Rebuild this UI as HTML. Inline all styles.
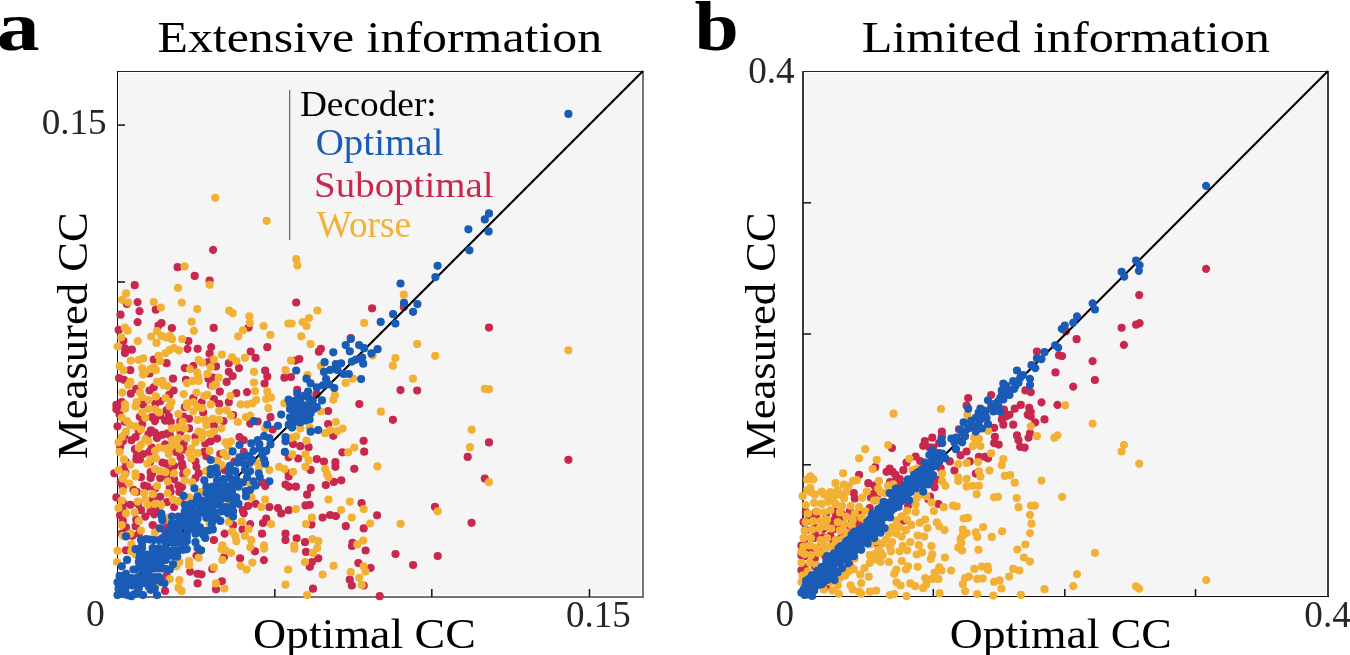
<!DOCTYPE html>
<html><head><meta charset="utf-8"><style>
html,body{margin:0;padding:0;background:#fff;width:1350px;height:655px;overflow:hidden}
svg{display:block}
text{font-family:"Liberation Serif",serif}
svg{will-change:transform}
</style></head><body>
<svg width="1350" height="655" viewBox="0 0 1350 655">
<rect x="119" y="73" width="522" height="522" fill="#f5f5f5"/><rect x="805" y="73" width="521" height="522" fill="#f5f5f5"/>
<rect x="117" y="71" width="527" height="1" fill="#262626"/><rect x="117" y="71" width="1" height="527" fill="#111"/><rect x="642" y="71" width="2" height="527" fill="#747474"/><rect x="117" y="596" width="527" height="2" fill="#747474"/><rect x="117" y="124.35" width="8" height="1.5" fill="#111"/><rect x="117" y="281.25" width="8" height="1.5" fill="#111"/><rect x="117" y="438.75" width="8" height="1.5" fill="#111"/><rect x="274.05" y="589" width="1.5" height="8" fill="#111"/><rect x="431.05" y="589" width="1.5" height="8" fill="#111"/><rect x="588.75" y="589" width="1.5" height="8" fill="#111"/><rect x="802" y="71" width="526" height="1" fill="#262626"/><rect x="802" y="71" width="2" height="526" fill="#3a3a3a"/><rect x="1327" y="71" width="2" height="526" fill="#3c3c3c"/><rect x="802" y="596" width="527" height="1" fill="#080808"/><rect x="803" y="202.05" width="8" height="1.5" fill="#111"/><rect x="803" y="333.25" width="8" height="1.5" fill="#111"/><rect x="803" y="464.05" width="8" height="1.5" fill="#111"/><rect x="932.55" y="589" width="1.5" height="8" fill="#111"/><rect x="1064.05" y="589" width="1.5" height="8" fill="#111"/><rect x="1194.75" y="589" width="1.5" height="8" fill="#111"/>
<rect x="289" y="90" width="1.3" height="150" fill="#707070"/>
<path fill="#c8284e" d="M119.6 406.5a4.1 4.1 0 1 0 8.2 0a4.1 4.1 0 1 0 -8.2 0M120.7 421.7a4.1 4.1 0 1 0 8.2 0a4.1 4.1 0 1 0 -8.2 0M120.3 435.5a4.1 4.1 0 1 0 8.2 0a4.1 4.1 0 1 0 -8.2 0M116.1 446.8a4.1 4.1 0 1 0 8.2 0a4.1 4.1 0 1 0 -8.2 0M121.6 461.9a4.1 4.1 0 1 0 8.2 0a4.1 4.1 0 1 0 -8.2 0M121.3 472.7a4.1 4.1 0 1 0 8.2 0a4.1 4.1 0 1 0 -8.2 0M118.7 487.5a4.1 4.1 0 1 0 8.2 0a4.1 4.1 0 1 0 -8.2 0M119.2 503.4a4.1 4.1 0 1 0 8.2 0a4.1 4.1 0 1 0 -8.2 0M116.0 515.3a4.1 4.1 0 1 0 8.2 0a4.1 4.1 0 1 0 -8.2 0M117.6 533.5a4.1 4.1 0 1 0 8.2 0a4.1 4.1 0 1 0 -8.2 0M135.5 403.0a4.1 4.1 0 1 0 8.2 0a4.1 4.1 0 1 0 -8.2 0M135.7 416.8a4.1 4.1 0 1 0 8.2 0a4.1 4.1 0 1 0 -8.2 0M134.6 430.8a4.1 4.1 0 1 0 8.2 0a4.1 4.1 0 1 0 -8.2 0M130.9 449.2a4.1 4.1 0 1 0 8.2 0a4.1 4.1 0 1 0 -8.2 0M132.2 459.3a4.1 4.1 0 1 0 8.2 0a4.1 4.1 0 1 0 -8.2 0M136.8 477.2a4.1 4.1 0 1 0 8.2 0a4.1 4.1 0 1 0 -8.2 0M132.6 491.8a4.1 4.1 0 1 0 8.2 0a4.1 4.1 0 1 0 -8.2 0M134.1 504.1a4.1 4.1 0 1 0 8.2 0a4.1 4.1 0 1 0 -8.2 0M132.1 519.6a4.1 4.1 0 1 0 8.2 0a4.1 4.1 0 1 0 -8.2 0M135.0 533.8a4.1 4.1 0 1 0 8.2 0a4.1 4.1 0 1 0 -8.2 0M151.3 403.8a4.1 4.1 0 1 0 8.2 0a4.1 4.1 0 1 0 -8.2 0M148.1 417.0a4.1 4.1 0 1 0 8.2 0a4.1 4.1 0 1 0 -8.2 0M146.8 430.4a4.1 4.1 0 1 0 8.2 0a4.1 4.1 0 1 0 -8.2 0M147.7 447.6a4.1 4.1 0 1 0 8.2 0a4.1 4.1 0 1 0 -8.2 0M145.9 462.1a4.1 4.1 0 1 0 8.2 0a4.1 4.1 0 1 0 -8.2 0M147.9 473.9a4.1 4.1 0 1 0 8.2 0a4.1 4.1 0 1 0 -8.2 0M150.8 488.9a4.1 4.1 0 1 0 8.2 0a4.1 4.1 0 1 0 -8.2 0M147.8 502.9a4.1 4.1 0 1 0 8.2 0a4.1 4.1 0 1 0 -8.2 0M150.1 514.3a4.1 4.1 0 1 0 8.2 0a4.1 4.1 0 1 0 -8.2 0M151.8 528.1a4.1 4.1 0 1 0 8.2 0a4.1 4.1 0 1 0 -8.2 0M165.4 407.1a4.1 4.1 0 1 0 8.2 0a4.1 4.1 0 1 0 -8.2 0M161.0 420.7a4.1 4.1 0 1 0 8.2 0a4.1 4.1 0 1 0 -8.2 0M163.1 433.5a4.1 4.1 0 1 0 8.2 0a4.1 4.1 0 1 0 -8.2 0M161.0 444.3a4.1 4.1 0 1 0 8.2 0a4.1 4.1 0 1 0 -8.2 0M162.0 463.7a4.1 4.1 0 1 0 8.2 0a4.1 4.1 0 1 0 -8.2 0M162.1 476.5a4.1 4.1 0 1 0 8.2 0a4.1 4.1 0 1 0 -8.2 0M166.5 491.7a4.1 4.1 0 1 0 8.2 0a4.1 4.1 0 1 0 -8.2 0M163.0 502.1a4.1 4.1 0 1 0 8.2 0a4.1 4.1 0 1 0 -8.2 0M164.0 518.7a4.1 4.1 0 1 0 8.2 0a4.1 4.1 0 1 0 -8.2 0M161.5 532.5a4.1 4.1 0 1 0 8.2 0a4.1 4.1 0 1 0 -8.2 0M180.7 407.2a4.1 4.1 0 1 0 8.2 0a4.1 4.1 0 1 0 -8.2 0M176.1 421.7a4.1 4.1 0 1 0 8.2 0a4.1 4.1 0 1 0 -8.2 0M176.4 432.0a4.1 4.1 0 1 0 8.2 0a4.1 4.1 0 1 0 -8.2 0M179.6 449.5a4.1 4.1 0 1 0 8.2 0a4.1 4.1 0 1 0 -8.2 0M177.9 463.5a4.1 4.1 0 1 0 8.2 0a4.1 4.1 0 1 0 -8.2 0M179.2 473.9a4.1 4.1 0 1 0 8.2 0a4.1 4.1 0 1 0 -8.2 0M177.8 487.1a4.1 4.1 0 1 0 8.2 0a4.1 4.1 0 1 0 -8.2 0M176.4 500.9a4.1 4.1 0 1 0 8.2 0a4.1 4.1 0 1 0 -8.2 0M180.0 520.0a4.1 4.1 0 1 0 8.2 0a4.1 4.1 0 1 0 -8.2 0M176.9 528.3a4.1 4.1 0 1 0 8.2 0a4.1 4.1 0 1 0 -8.2 0M209.0 249.9a4.1 4.1 0 1 0 8.2 0a4.1 4.1 0 1 0 -8.2 0M173.5 267.2a4.1 4.1 0 1 0 8.2 0a4.1 4.1 0 1 0 -8.2 0M190.6 275.9a4.1 4.1 0 1 0 8.2 0a4.1 4.1 0 1 0 -8.2 0M205.5 280.6a4.1 4.1 0 1 0 8.2 0a4.1 4.1 0 1 0 -8.2 0M130.6 285.2a4.1 4.1 0 1 0 8.2 0a4.1 4.1 0 1 0 -8.2 0M122.8 303.9a4.1 4.1 0 1 0 8.2 0a4.1 4.1 0 1 0 -8.2 0M133.5 302.1a4.1 4.1 0 1 0 8.2 0a4.1 4.1 0 1 0 -8.2 0M151.7 309.7a4.1 4.1 0 1 0 8.2 0a4.1 4.1 0 1 0 -8.2 0M135.4 311.2a4.1 4.1 0 1 0 8.2 0a4.1 4.1 0 1 0 -8.2 0M116.4 314.7a4.1 4.1 0 1 0 8.2 0a4.1 4.1 0 1 0 -8.2 0M133.5 322.1a4.1 4.1 0 1 0 8.2 0a4.1 4.1 0 1 0 -8.2 0M244.5 327.6a4.1 4.1 0 1 0 8.2 0a4.1 4.1 0 1 0 -8.2 0M209.6 327.9a4.1 4.1 0 1 0 8.2 0a4.1 4.1 0 1 0 -8.2 0M167.8 328.1a4.1 4.1 0 1 0 8.2 0a4.1 4.1 0 1 0 -8.2 0M157.4 323.1a4.1 4.1 0 1 0 8.2 0a4.1 4.1 0 1 0 -8.2 0M154.4 325.6a4.1 4.1 0 1 0 8.2 0a4.1 4.1 0 1 0 -8.2 0M114.6 329.9a4.1 4.1 0 1 0 8.2 0a4.1 4.1 0 1 0 -8.2 0M184.3 341.1a4.1 4.1 0 1 0 8.2 0a4.1 4.1 0 1 0 -8.2 0M292.1 302.5a4.1 4.1 0 1 0 8.2 0a4.1 4.1 0 1 0 -8.2 0M368.0 308.3a4.1 4.1 0 1 0 8.2 0a4.1 4.1 0 1 0 -8.2 0M399.7 307.0a4.1 4.1 0 1 0 8.2 0a4.1 4.1 0 1 0 -8.2 0M346.7 338.0a4.1 4.1 0 1 0 8.2 0a4.1 4.1 0 1 0 -8.2 0M484.9 327.6a4.1 4.1 0 1 0 8.2 0a4.1 4.1 0 1 0 -8.2 0M484.9 442.4a4.1 4.1 0 1 0 8.2 0a4.1 4.1 0 1 0 -8.2 0M564.3 459.8a4.1 4.1 0 1 0 8.2 0a4.1 4.1 0 1 0 -8.2 0M480.7 478.5a4.1 4.1 0 1 0 8.2 0a4.1 4.1 0 1 0 -8.2 0M467.5 522.8a4.1 4.1 0 1 0 8.2 0a4.1 4.1 0 1 0 -8.2 0M396.4 390.1a4.1 4.1 0 1 0 8.2 0a4.1 4.1 0 1 0 -8.2 0M413.1 390.5a4.1 4.1 0 1 0 8.2 0a4.1 4.1 0 1 0 -8.2 0M355.2 404.1a4.1 4.1 0 1 0 8.2 0a4.1 4.1 0 1 0 -8.2 0M388.8 419.8a4.1 4.1 0 1 0 8.2 0a4.1 4.1 0 1 0 -8.2 0M350.2 468.8a4.1 4.1 0 1 0 8.2 0a4.1 4.1 0 1 0 -8.2 0M359.5 440.8a4.1 4.1 0 1 0 8.2 0a4.1 4.1 0 1 0 -8.2 0M360.1 451.7a4.1 4.1 0 1 0 8.2 0a4.1 4.1 0 1 0 -8.2 0M338.3 452.3a4.1 4.1 0 1 0 8.2 0a4.1 4.1 0 1 0 -8.2 0M463.6 456.9a4.1 4.1 0 1 0 8.2 0a4.1 4.1 0 1 0 -8.2 0M316.8 348.8a4.1 4.1 0 1 0 8.2 0a4.1 4.1 0 1 0 -8.2 0M314.8 351.7a4.1 4.1 0 1 0 8.2 0a4.1 4.1 0 1 0 -8.2 0M295.2 359.1a4.1 4.1 0 1 0 8.2 0a4.1 4.1 0 1 0 -8.2 0M291.1 360.6a4.1 4.1 0 1 0 8.2 0a4.1 4.1 0 1 0 -8.2 0M286.9 377.1a4.1 4.1 0 1 0 8.2 0a4.1 4.1 0 1 0 -8.2 0M293.1 389.9a4.1 4.1 0 1 0 8.2 0a4.1 4.1 0 1 0 -8.2 0M312.3 394.2a4.1 4.1 0 1 0 8.2 0a4.1 4.1 0 1 0 -8.2 0M324.0 411.1a4.1 4.1 0 1 0 8.2 0a4.1 4.1 0 1 0 -8.2 0M324.0 424.1a4.1 4.1 0 1 0 8.2 0a4.1 4.1 0 1 0 -8.2 0M329.2 435.8a4.1 4.1 0 1 0 8.2 0a4.1 4.1 0 1 0 -8.2 0M289.0 444.1a4.1 4.1 0 1 0 8.2 0a4.1 4.1 0 1 0 -8.2 0M296.2 446.2a4.1 4.1 0 1 0 8.2 0a4.1 4.1 0 1 0 -8.2 0M304.5 447.2a4.1 4.1 0 1 0 8.2 0a4.1 4.1 0 1 0 -8.2 0M294.1 458.5a4.1 4.1 0 1 0 8.2 0a4.1 4.1 0 1 0 -8.2 0M312.7 459.1a4.1 4.1 0 1 0 8.2 0a4.1 4.1 0 1 0 -8.2 0M319.9 461.6a4.1 4.1 0 1 0 8.2 0a4.1 4.1 0 1 0 -8.2 0M331.3 462.2a4.1 4.1 0 1 0 8.2 0a4.1 4.1 0 1 0 -8.2 0M331.3 466.8a4.1 4.1 0 1 0 8.2 0a4.1 4.1 0 1 0 -8.2 0M306.5 469.9a4.1 4.1 0 1 0 8.2 0a4.1 4.1 0 1 0 -8.2 0M119.3 340.8a4.1 4.1 0 1 0 8.2 0a4.1 4.1 0 1 0 -8.2 0M120.9 348.3a4.1 4.1 0 1 0 8.2 0a4.1 4.1 0 1 0 -8.2 0M127.8 349.7a4.1 4.1 0 1 0 8.2 0a4.1 4.1 0 1 0 -8.2 0M120.9 353.1a4.1 4.1 0 1 0 8.2 0a4.1 4.1 0 1 0 -8.2 0M183.4 348.8a4.1 4.1 0 1 0 8.2 0a4.1 4.1 0 1 0 -8.2 0M193.5 348.8a4.1 4.1 0 1 0 8.2 0a4.1 4.1 0 1 0 -8.2 0M149.7 359.5a4.1 4.1 0 1 0 8.2 0a4.1 4.1 0 1 0 -8.2 0M162.5 363.2a4.1 4.1 0 1 0 8.2 0a4.1 4.1 0 1 0 -8.2 0M126.2 370.2a4.1 4.1 0 1 0 8.2 0a4.1 4.1 0 1 0 -8.2 0M145.4 373.4a4.1 4.1 0 1 0 8.2 0a4.1 4.1 0 1 0 -8.2 0M180.7 368.1a4.1 4.1 0 1 0 8.2 0a4.1 4.1 0 1 0 -8.2 0M189.2 365.9a4.1 4.1 0 1 0 8.2 0a4.1 4.1 0 1 0 -8.2 0M115.0 378.2a4.1 4.1 0 1 0 8.2 0a4.1 4.1 0 1 0 -8.2 0M119.8 379.8a4.1 4.1 0 1 0 8.2 0a4.1 4.1 0 1 0 -8.2 0M132.1 388.9a4.1 4.1 0 1 0 8.2 0a4.1 4.1 0 1 0 -8.2 0M126.7 393.7a4.1 4.1 0 1 0 8.2 0a4.1 4.1 0 1 0 -8.2 0M145.4 390.5a4.1 4.1 0 1 0 8.2 0a4.1 4.1 0 1 0 -8.2 0M149.7 387.3a4.1 4.1 0 1 0 8.2 0a4.1 4.1 0 1 0 -8.2 0M168.9 378.7a4.1 4.1 0 1 0 8.2 0a4.1 4.1 0 1 0 -8.2 0M169.5 390.5a4.1 4.1 0 1 0 8.2 0a4.1 4.1 0 1 0 -8.2 0M165.2 394.8a4.1 4.1 0 1 0 8.2 0a4.1 4.1 0 1 0 -8.2 0M181.8 379.8a4.1 4.1 0 1 0 8.2 0a4.1 4.1 0 1 0 -8.2 0M189.2 398.0a4.1 4.1 0 1 0 8.2 0a4.1 4.1 0 1 0 -8.2 0M156.1 401.2a4.1 4.1 0 1 0 8.2 0a4.1 4.1 0 1 0 -8.2 0M139.0 404.4a4.1 4.1 0 1 0 8.2 0a4.1 4.1 0 1 0 -8.2 0M117.7 402.2a4.1 4.1 0 1 0 8.2 0a4.1 4.1 0 1 0 -8.2 0M112.3 404.9a4.1 4.1 0 1 0 8.2 0a4.1 4.1 0 1 0 -8.2 0M263.2 347.2a4.1 4.1 0 1 0 8.2 0a4.1 4.1 0 1 0 -8.2 0M207.1 347.2a4.1 4.1 0 1 0 8.2 0a4.1 4.1 0 1 0 -8.2 0M205.5 353.6a4.1 4.1 0 1 0 8.2 0a4.1 4.1 0 1 0 -8.2 0M246.6 351.5a4.1 4.1 0 1 0 8.2 0a4.1 4.1 0 1 0 -8.2 0M251.5 357.9a4.1 4.1 0 1 0 8.2 0a4.1 4.1 0 1 0 -8.2 0M224.7 363.2a4.1 4.1 0 1 0 8.2 0a4.1 4.1 0 1 0 -8.2 0M234.9 368.1a4.1 4.1 0 1 0 8.2 0a4.1 4.1 0 1 0 -8.2 0M204.4 362.2a4.1 4.1 0 1 0 8.2 0a4.1 4.1 0 1 0 -8.2 0M211.9 366.4a4.1 4.1 0 1 0 8.2 0a4.1 4.1 0 1 0 -8.2 0M224.7 371.8a4.1 4.1 0 1 0 8.2 0a4.1 4.1 0 1 0 -8.2 0M228.5 376.1a4.1 4.1 0 1 0 8.2 0a4.1 4.1 0 1 0 -8.2 0M261.1 370.7a4.1 4.1 0 1 0 8.2 0a4.1 4.1 0 1 0 -8.2 0M263.2 376.6a4.1 4.1 0 1 0 8.2 0a4.1 4.1 0 1 0 -8.2 0M260.5 383.5a4.1 4.1 0 1 0 8.2 0a4.1 4.1 0 1 0 -8.2 0M280.3 377.7a4.1 4.1 0 1 0 8.2 0a4.1 4.1 0 1 0 -8.2 0M204.4 378.7a4.1 4.1 0 1 0 8.2 0a4.1 4.1 0 1 0 -8.2 0M208.7 377.7a4.1 4.1 0 1 0 8.2 0a4.1 4.1 0 1 0 -8.2 0M206.6 385.1a4.1 4.1 0 1 0 8.2 0a4.1 4.1 0 1 0 -8.2 0M222.6 381.9a4.1 4.1 0 1 0 8.2 0a4.1 4.1 0 1 0 -8.2 0M215.7 391.6a4.1 4.1 0 1 0 8.2 0a4.1 4.1 0 1 0 -8.2 0M232.2 393.2a4.1 4.1 0 1 0 8.2 0a4.1 4.1 0 1 0 -8.2 0M242.9 392.1a4.1 4.1 0 1 0 8.2 0a4.1 4.1 0 1 0 -8.2 0M209.8 399.0a4.1 4.1 0 1 0 8.2 0a4.1 4.1 0 1 0 -8.2 0M224.7 402.2a4.1 4.1 0 1 0 8.2 0a4.1 4.1 0 1 0 -8.2 0M215.1 403.8a4.1 4.1 0 1 0 8.2 0a4.1 4.1 0 1 0 -8.2 0M197.5 402.2a4.1 4.1 0 1 0 8.2 0a4.1 4.1 0 1 0 -8.2 0M112.3 409.2a4.1 4.1 0 1 0 8.2 0a4.1 4.1 0 1 0 -8.2 0M148.6 417.8a4.1 4.1 0 1 0 8.2 0a4.1 4.1 0 1 0 -8.2 0M150.8 421.0a4.1 4.1 0 1 0 8.2 0a4.1 4.1 0 1 0 -8.2 0M156.1 415.6a4.1 4.1 0 1 0 8.2 0a4.1 4.1 0 1 0 -8.2 0M162.5 410.3a4.1 4.1 0 1 0 8.2 0a4.1 4.1 0 1 0 -8.2 0M164.7 416.7a4.1 4.1 0 1 0 8.2 0a4.1 4.1 0 1 0 -8.2 0M166.8 422.0a4.1 4.1 0 1 0 8.2 0a4.1 4.1 0 1 0 -8.2 0M185.0 418.8a4.1 4.1 0 1 0 8.2 0a4.1 4.1 0 1 0 -8.2 0M179.6 416.7a4.1 4.1 0 1 0 8.2 0a4.1 4.1 0 1 0 -8.2 0M115.5 414.5a4.1 4.1 0 1 0 8.2 0a4.1 4.1 0 1 0 -8.2 0M113.4 426.3a4.1 4.1 0 1 0 8.2 0a4.1 4.1 0 1 0 -8.2 0M138.0 424.2a4.1 4.1 0 1 0 8.2 0a4.1 4.1 0 1 0 -8.2 0M144.4 433.8a4.1 4.1 0 1 0 8.2 0a4.1 4.1 0 1 0 -8.2 0M150.8 432.7a4.1 4.1 0 1 0 8.2 0a4.1 4.1 0 1 0 -8.2 0M158.3 434.8a4.1 4.1 0 1 0 8.2 0a4.1 4.1 0 1 0 -8.2 0M131.5 437.0a4.1 4.1 0 1 0 8.2 0a4.1 4.1 0 1 0 -8.2 0M127.3 440.2a4.1 4.1 0 1 0 8.2 0a4.1 4.1 0 1 0 -8.2 0M185.0 428.4a4.1 4.1 0 1 0 8.2 0a4.1 4.1 0 1 0 -8.2 0M118.7 441.3a4.1 4.1 0 1 0 8.2 0a4.1 4.1 0 1 0 -8.2 0M152.9 438.1a4.1 4.1 0 1 0 8.2 0a4.1 4.1 0 1 0 -8.2 0M165.7 434.8a4.1 4.1 0 1 0 8.2 0a4.1 4.1 0 1 0 -8.2 0M179.6 443.4a4.1 4.1 0 1 0 8.2 0a4.1 4.1 0 1 0 -8.2 0M191.4 437.0a4.1 4.1 0 1 0 8.2 0a4.1 4.1 0 1 0 -8.2 0M132.6 456.2a4.1 4.1 0 1 0 8.2 0a4.1 4.1 0 1 0 -8.2 0M139.0 454.1a4.1 4.1 0 1 0 8.2 0a4.1 4.1 0 1 0 -8.2 0M145.4 451.9a4.1 4.1 0 1 0 8.2 0a4.1 4.1 0 1 0 -8.2 0M135.8 459.4a4.1 4.1 0 1 0 8.2 0a4.1 4.1 0 1 0 -8.2 0M158.3 462.6a4.1 4.1 0 1 0 8.2 0a4.1 4.1 0 1 0 -8.2 0M172.1 451.9a4.1 4.1 0 1 0 8.2 0a4.1 4.1 0 1 0 -8.2 0M176.4 457.3a4.1 4.1 0 1 0 8.2 0a4.1 4.1 0 1 0 -8.2 0M191.4 461.6a4.1 4.1 0 1 0 8.2 0a4.1 4.1 0 1 0 -8.2 0M170.0 465.8a4.1 4.1 0 1 0 8.2 0a4.1 4.1 0 1 0 -8.2 0M119.8 469.0a4.1 4.1 0 1 0 8.2 0a4.1 4.1 0 1 0 -8.2 0M110.2 473.3a4.1 4.1 0 1 0 8.2 0a4.1 4.1 0 1 0 -8.2 0M146.5 472.2a4.1 4.1 0 1 0 8.2 0a4.1 4.1 0 1 0 -8.2 0M164.7 471.2a4.1 4.1 0 1 0 8.2 0a4.1 4.1 0 1 0 -8.2 0M178.5 466.9a4.1 4.1 0 1 0 8.2 0a4.1 4.1 0 1 0 -8.2 0M192.4 466.9a4.1 4.1 0 1 0 8.2 0a4.1 4.1 0 1 0 -8.2 0M194.6 473.3a4.1 4.1 0 1 0 8.2 0a4.1 4.1 0 1 0 -8.2 0M199.1 412.4a4.1 4.1 0 1 0 8.2 0a4.1 4.1 0 1 0 -8.2 0M229.0 415.1a4.1 4.1 0 1 0 8.2 0a4.1 4.1 0 1 0 -8.2 0M219.4 421.0a4.1 4.1 0 1 0 8.2 0a4.1 4.1 0 1 0 -8.2 0M209.8 425.2a4.1 4.1 0 1 0 8.2 0a4.1 4.1 0 1 0 -8.2 0M246.1 423.6a4.1 4.1 0 1 0 8.2 0a4.1 4.1 0 1 0 -8.2 0M253.6 421.5a4.1 4.1 0 1 0 8.2 0a4.1 4.1 0 1 0 -8.2 0M266.4 417.2a4.1 4.1 0 1 0 8.2 0a4.1 4.1 0 1 0 -8.2 0M268.5 429.5a4.1 4.1 0 1 0 8.2 0a4.1 4.1 0 1 0 -8.2 0M201.2 443.4a4.1 4.1 0 1 0 8.2 0a4.1 4.1 0 1 0 -8.2 0M206.6 441.3a4.1 4.1 0 1 0 8.2 0a4.1 4.1 0 1 0 -8.2 0M213.0 438.6a4.1 4.1 0 1 0 8.2 0a4.1 4.1 0 1 0 -8.2 0M235.4 437.0a4.1 4.1 0 1 0 8.2 0a4.1 4.1 0 1 0 -8.2 0M239.7 440.2a4.1 4.1 0 1 0 8.2 0a4.1 4.1 0 1 0 -8.2 0M239.7 451.9a4.1 4.1 0 1 0 8.2 0a4.1 4.1 0 1 0 -8.2 0M284.6 457.3a4.1 4.1 0 1 0 8.2 0a4.1 4.1 0 1 0 -8.2 0M200.2 451.9a4.1 4.1 0 1 0 8.2 0a4.1 4.1 0 1 0 -8.2 0M202.3 456.2a4.1 4.1 0 1 0 8.2 0a4.1 4.1 0 1 0 -8.2 0M216.2 454.1a4.1 4.1 0 1 0 8.2 0a4.1 4.1 0 1 0 -8.2 0M230.1 461.6a4.1 4.1 0 1 0 8.2 0a4.1 4.1 0 1 0 -8.2 0M220.5 470.1a4.1 4.1 0 1 0 8.2 0a4.1 4.1 0 1 0 -8.2 0M284.6 473.3a4.1 4.1 0 1 0 8.2 0a4.1 4.1 0 1 0 -8.2 0M116.6 482.4a4.1 4.1 0 1 0 8.2 0a4.1 4.1 0 1 0 -8.2 0M146.5 478.1a4.1 4.1 0 1 0 8.2 0a4.1 4.1 0 1 0 -8.2 0M156.1 478.1a4.1 4.1 0 1 0 8.2 0a4.1 4.1 0 1 0 -8.2 0M170.0 479.2a4.1 4.1 0 1 0 8.2 0a4.1 4.1 0 1 0 -8.2 0M191.4 478.1a4.1 4.1 0 1 0 8.2 0a4.1 4.1 0 1 0 -8.2 0M129.4 489.9a4.1 4.1 0 1 0 8.2 0a4.1 4.1 0 1 0 -8.2 0M140.1 485.6a4.1 4.1 0 1 0 8.2 0a4.1 4.1 0 1 0 -8.2 0M143.3 486.7a4.1 4.1 0 1 0 8.2 0a4.1 4.1 0 1 0 -8.2 0M156.1 496.8a4.1 4.1 0 1 0 8.2 0a4.1 4.1 0 1 0 -8.2 0M165.7 487.8a4.1 4.1 0 1 0 8.2 0a4.1 4.1 0 1 0 -8.2 0M174.3 485.6a4.1 4.1 0 1 0 8.2 0a4.1 4.1 0 1 0 -8.2 0M175.3 492.0a4.1 4.1 0 1 0 8.2 0a4.1 4.1 0 1 0 -8.2 0M112.3 497.4a4.1 4.1 0 1 0 8.2 0a4.1 4.1 0 1 0 -8.2 0M126.2 504.8a4.1 4.1 0 1 0 8.2 0a4.1 4.1 0 1 0 -8.2 0M148.6 499.5a4.1 4.1 0 1 0 8.2 0a4.1 4.1 0 1 0 -8.2 0M170.0 507.0a4.1 4.1 0 1 0 8.2 0a4.1 4.1 0 1 0 -8.2 0M189.2 500.6a4.1 4.1 0 1 0 8.2 0a4.1 4.1 0 1 0 -8.2 0M118.7 510.2a4.1 4.1 0 1 0 8.2 0a4.1 4.1 0 1 0 -8.2 0M136.9 510.2a4.1 4.1 0 1 0 8.2 0a4.1 4.1 0 1 0 -8.2 0M141.2 516.6a4.1 4.1 0 1 0 8.2 0a4.1 4.1 0 1 0 -8.2 0M146.5 511.3a4.1 4.1 0 1 0 8.2 0a4.1 4.1 0 1 0 -8.2 0M151.8 510.2a4.1 4.1 0 1 0 8.2 0a4.1 4.1 0 1 0 -8.2 0M162.5 527.3a4.1 4.1 0 1 0 8.2 0a4.1 4.1 0 1 0 -8.2 0M121.9 527.3a4.1 4.1 0 1 0 8.2 0a4.1 4.1 0 1 0 -8.2 0M118.7 520.9a4.1 4.1 0 1 0 8.2 0a4.1 4.1 0 1 0 -8.2 0M131.5 526.2a4.1 4.1 0 1 0 8.2 0a4.1 4.1 0 1 0 -8.2 0M148.6 525.1a4.1 4.1 0 1 0 8.2 0a4.1 4.1 0 1 0 -8.2 0M128.3 535.8a4.1 4.1 0 1 0 8.2 0a4.1 4.1 0 1 0 -8.2 0M257.9 482.4a4.1 4.1 0 1 0 8.2 0a4.1 4.1 0 1 0 -8.2 0M261.1 486.1a4.1 4.1 0 1 0 8.2 0a4.1 4.1 0 1 0 -8.2 0M281.4 484.5a4.1 4.1 0 1 0 8.2 0a4.1 4.1 0 1 0 -8.2 0M284.6 486.7a4.1 4.1 0 1 0 8.2 0a4.1 4.1 0 1 0 -8.2 0M284.6 476.5a4.1 4.1 0 1 0 8.2 0a4.1 4.1 0 1 0 -8.2 0M265.3 507.0a4.1 4.1 0 1 0 8.2 0a4.1 4.1 0 1 0 -8.2 0M273.9 508.1a4.1 4.1 0 1 0 8.2 0a4.1 4.1 0 1 0 -8.2 0M277.1 513.4a4.1 4.1 0 1 0 8.2 0a4.1 4.1 0 1 0 -8.2 0M284.6 510.2a4.1 4.1 0 1 0 8.2 0a4.1 4.1 0 1 0 -8.2 0M238.6 510.2a4.1 4.1 0 1 0 8.2 0a4.1 4.1 0 1 0 -8.2 0M244.0 505.9a4.1 4.1 0 1 0 8.2 0a4.1 4.1 0 1 0 -8.2 0M251.5 503.8a4.1 4.1 0 1 0 8.2 0a4.1 4.1 0 1 0 -8.2 0M239.7 513.4a4.1 4.1 0 1 0 8.2 0a4.1 4.1 0 1 0 -8.2 0M262.1 518.7a4.1 4.1 0 1 0 8.2 0a4.1 4.1 0 1 0 -8.2 0M258.9 523.0a4.1 4.1 0 1 0 8.2 0a4.1 4.1 0 1 0 -8.2 0M246.1 524.1a4.1 4.1 0 1 0 8.2 0a4.1 4.1 0 1 0 -8.2 0M238.6 529.4a4.1 4.1 0 1 0 8.2 0a4.1 4.1 0 1 0 -8.2 0M220.5 533.7a4.1 4.1 0 1 0 8.2 0a4.1 4.1 0 1 0 -8.2 0M209.8 540.1a4.1 4.1 0 1 0 8.2 0a4.1 4.1 0 1 0 -8.2 0M257.9 533.7a4.1 4.1 0 1 0 8.2 0a4.1 4.1 0 1 0 -8.2 0M281.4 533.7a4.1 4.1 0 1 0 8.2 0a4.1 4.1 0 1 0 -8.2 0M281.4 540.1a4.1 4.1 0 1 0 8.2 0a4.1 4.1 0 1 0 -8.2 0M229.0 525.1a4.1 4.1 0 1 0 8.2 0a4.1 4.1 0 1 0 -8.2 0M121.9 550.3a4.1 4.1 0 1 0 8.2 0a4.1 4.1 0 1 0 -8.2 0M186.0 571.6a4.1 4.1 0 1 0 8.2 0a4.1 4.1 0 1 0 -8.2 0M192.4 555.6a4.1 4.1 0 1 0 8.2 0a4.1 4.1 0 1 0 -8.2 0M193.5 573.8a4.1 4.1 0 1 0 8.2 0a4.1 4.1 0 1 0 -8.2 0M193.5 583.4a4.1 4.1 0 1 0 8.2 0a4.1 4.1 0 1 0 -8.2 0M160.9 590.9a4.1 4.1 0 1 0 8.2 0a4.1 4.1 0 1 0 -8.2 0M162.5 575.9a4.1 4.1 0 1 0 8.2 0a4.1 4.1 0 1 0 -8.2 0M219.9 557.2a4.1 4.1 0 1 0 8.2 0a4.1 4.1 0 1 0 -8.2 0M208.2 569.0a4.1 4.1 0 1 0 8.2 0a4.1 4.1 0 1 0 -8.2 0M197.5 574.3a4.1 4.1 0 1 0 8.2 0a4.1 4.1 0 1 0 -8.2 0M217.8 581.3a4.1 4.1 0 1 0 8.2 0a4.1 4.1 0 1 0 -8.2 0M211.9 589.3a4.1 4.1 0 1 0 8.2 0a4.1 4.1 0 1 0 -8.2 0M236.0 558.3a4.1 4.1 0 1 0 8.2 0a4.1 4.1 0 1 0 -8.2 0M250.9 551.3a4.1 4.1 0 1 0 8.2 0a4.1 4.1 0 1 0 -8.2 0M259.8 560.2a4.1 4.1 0 1 0 8.2 0a4.1 4.1 0 1 0 -8.2 0M291.8 486.7a4.1 4.1 0 1 0 8.2 0a4.1 4.1 0 1 0 -8.2 0M306.7 487.8a4.1 4.1 0 1 0 8.2 0a4.1 4.1 0 1 0 -8.2 0M303.0 494.7a4.1 4.1 0 1 0 8.2 0a4.1 4.1 0 1 0 -8.2 0M301.4 505.4a4.1 4.1 0 1 0 8.2 0a4.1 4.1 0 1 0 -8.2 0M305.7 504.8a4.1 4.1 0 1 0 8.2 0a4.1 4.1 0 1 0 -8.2 0M321.7 485.1a4.1 4.1 0 1 0 8.2 0a4.1 4.1 0 1 0 -8.2 0M329.7 481.9a4.1 4.1 0 1 0 8.2 0a4.1 4.1 0 1 0 -8.2 0M337.2 480.3a4.1 4.1 0 1 0 8.2 0a4.1 4.1 0 1 0 -8.2 0M357.5 503.2a4.1 4.1 0 1 0 8.2 0a4.1 4.1 0 1 0 -8.2 0M318.5 517.5a4.1 4.1 0 1 0 8.2 0a4.1 4.1 0 1 0 -8.2 0M326.0 515.0a4.1 4.1 0 1 0 8.2 0a4.1 4.1 0 1 0 -8.2 0M331.8 516.1a4.1 4.1 0 1 0 8.2 0a4.1 4.1 0 1 0 -8.2 0M307.3 524.6a4.1 4.1 0 1 0 8.2 0a4.1 4.1 0 1 0 -8.2 0M341.7 526.2a4.1 4.1 0 1 0 8.2 0a4.1 4.1 0 1 0 -8.2 0M359.6 528.4a4.1 4.1 0 1 0 8.2 0a4.1 4.1 0 1 0 -8.2 0M373.0 515.3a4.1 4.1 0 1 0 8.2 0a4.1 4.1 0 1 0 -8.2 0M292.5 538.3a4.1 4.1 0 1 0 8.2 0a4.1 4.1 0 1 0 -8.2 0M300.9 542.2a4.1 4.1 0 1 0 8.2 0a4.1 4.1 0 1 0 -8.2 0M348.4 542.8a4.1 4.1 0 1 0 8.2 0a4.1 4.1 0 1 0 -8.2 0M301.9 551.9a4.1 4.1 0 1 0 8.2 0a4.1 4.1 0 1 0 -8.2 0M314.2 558.3a4.1 4.1 0 1 0 8.2 0a4.1 4.1 0 1 0 -8.2 0M307.8 562.0a4.1 4.1 0 1 0 8.2 0a4.1 4.1 0 1 0 -8.2 0M305.7 566.8a4.1 4.1 0 1 0 8.2 0a4.1 4.1 0 1 0 -8.2 0M308.9 588.7a4.1 4.1 0 1 0 8.2 0a4.1 4.1 0 1 0 -8.2 0M347.9 546.0a4.1 4.1 0 1 0 8.2 0a4.1 4.1 0 1 0 -8.2 0M361.5 550.5a4.1 4.1 0 1 0 8.2 0a4.1 4.1 0 1 0 -8.2 0M354.3 563.1a4.1 4.1 0 1 0 8.2 0a4.1 4.1 0 1 0 -8.2 0M366.6 567.9a4.1 4.1 0 1 0 8.2 0a4.1 4.1 0 1 0 -8.2 0M345.7 579.7a4.1 4.1 0 1 0 8.2 0a4.1 4.1 0 1 0 -8.2 0M347.7 585.5a4.1 4.1 0 1 0 8.2 0a4.1 4.1 0 1 0 -8.2 0M359.6 585.5a4.1 4.1 0 1 0 8.2 0a4.1 4.1 0 1 0 -8.2 0M375.6 596.2a4.1 4.1 0 1 0 8.2 0a4.1 4.1 0 1 0 -8.2 0M430.9 506.8a4.1 4.1 0 1 0 8.2 0a4.1 4.1 0 1 0 -8.2 0M391.4 554.0a4.1 4.1 0 1 0 8.2 0a4.1 4.1 0 1 0 -8.2 0M409.0 565.0a4.1 4.1 0 1 0 8.2 0a4.1 4.1 0 1 0 -8.2 0M433.6 556.1a4.1 4.1 0 1 0 8.2 0a4.1 4.1 0 1 0 -8.2 0"/>
<path fill="#f2b134" d="M211.1 197.8a4.1 4.1 0 1 0 8.2 0a4.1 4.1 0 1 0 -8.2 0M262.6 220.8a4.1 4.1 0 1 0 8.2 0a4.1 4.1 0 1 0 -8.2 0M180.5 266.4a4.1 4.1 0 1 0 8.2 0a4.1 4.1 0 1 0 -8.2 0M205.5 284.8a4.1 4.1 0 1 0 8.2 0a4.1 4.1 0 1 0 -8.2 0M173.9 287.9a4.1 4.1 0 1 0 8.2 0a4.1 4.1 0 1 0 -8.2 0M122.0 293.4a4.1 4.1 0 1 0 8.2 0a4.1 4.1 0 1 0 -8.2 0M117.9 299.8a4.1 4.1 0 1 0 8.2 0a4.1 4.1 0 1 0 -8.2 0M124.0 302.5a4.1 4.1 0 1 0 8.2 0a4.1 4.1 0 1 0 -8.2 0M149.6 302.1a4.1 4.1 0 1 0 8.2 0a4.1 4.1 0 1 0 -8.2 0M156.8 307.6a4.1 4.1 0 1 0 8.2 0a4.1 4.1 0 1 0 -8.2 0M177.7 302.5a4.1 4.1 0 1 0 8.2 0a4.1 4.1 0 1 0 -8.2 0M193.1 309.1a4.1 4.1 0 1 0 8.2 0a4.1 4.1 0 1 0 -8.2 0M187.5 321.7a4.1 4.1 0 1 0 8.2 0a4.1 4.1 0 1 0 -8.2 0M225.1 310.7a4.1 4.1 0 1 0 8.2 0a4.1 4.1 0 1 0 -8.2 0M228.6 313.2a4.1 4.1 0 1 0 8.2 0a4.1 4.1 0 1 0 -8.2 0M245.3 316.3a4.1 4.1 0 1 0 8.2 0a4.1 4.1 0 1 0 -8.2 0M245.7 323.1a4.1 4.1 0 1 0 8.2 0a4.1 4.1 0 1 0 -8.2 0M259.5 326.0a4.1 4.1 0 1 0 8.2 0a4.1 4.1 0 1 0 -8.2 0M266.3 334.9a4.1 4.1 0 1 0 8.2 0a4.1 4.1 0 1 0 -8.2 0M238.9 330.3a4.1 4.1 0 1 0 8.2 0a4.1 4.1 0 1 0 -8.2 0M234.1 336.3a4.1 4.1 0 1 0 8.2 0a4.1 4.1 0 1 0 -8.2 0M189.8 330.9a4.1 4.1 0 1 0 8.2 0a4.1 4.1 0 1 0 -8.2 0M152.9 331.2a4.1 4.1 0 1 0 8.2 0a4.1 4.1 0 1 0 -8.2 0M120.7 327.6a4.1 4.1 0 1 0 8.2 0a4.1 4.1 0 1 0 -8.2 0M123.6 330.7a4.1 4.1 0 1 0 8.2 0a4.1 4.1 0 1 0 -8.2 0M117.2 337.3a4.1 4.1 0 1 0 8.2 0a4.1 4.1 0 1 0 -8.2 0M133.7 341.1a4.1 4.1 0 1 0 8.2 0a4.1 4.1 0 1 0 -8.2 0M147.1 336.5a4.1 4.1 0 1 0 8.2 0a4.1 4.1 0 1 0 -8.2 0M157.4 335.9a4.1 4.1 0 1 0 8.2 0a4.1 4.1 0 1 0 -8.2 0M165.7 335.9a4.1 4.1 0 1 0 8.2 0a4.1 4.1 0 1 0 -8.2 0M178.1 339.0a4.1 4.1 0 1 0 8.2 0a4.1 4.1 0 1 0 -8.2 0M284.3 323.5a4.1 4.1 0 1 0 8.2 0a4.1 4.1 0 1 0 -8.2 0M292.1 259.2a4.1 4.1 0 1 0 8.2 0a4.1 4.1 0 1 0 -8.2 0M293.3 265.4a4.1 4.1 0 1 0 8.2 0a4.1 4.1 0 1 0 -8.2 0M313.3 310.5a4.1 4.1 0 1 0 8.2 0a4.1 4.1 0 1 0 -8.2 0M304.9 318.0a4.1 4.1 0 1 0 8.2 0a4.1 4.1 0 1 0 -8.2 0M298.7 322.1a4.1 4.1 0 1 0 8.2 0a4.1 4.1 0 1 0 -8.2 0M302.4 326.0a4.1 4.1 0 1 0 8.2 0a4.1 4.1 0 1 0 -8.2 0M287.5 323.5a4.1 4.1 0 1 0 8.2 0a4.1 4.1 0 1 0 -8.2 0M297.2 336.3a4.1 4.1 0 1 0 8.2 0a4.1 4.1 0 1 0 -8.2 0M360.1 322.9a4.1 4.1 0 1 0 8.2 0a4.1 4.1 0 1 0 -8.2 0M399.7 294.7a4.1 4.1 0 1 0 8.2 0a4.1 4.1 0 1 0 -8.2 0M564.3 350.3a4.1 4.1 0 1 0 8.2 0a4.1 4.1 0 1 0 -8.2 0M480.7 388.8a4.1 4.1 0 1 0 8.2 0a4.1 4.1 0 1 0 -8.2 0M484.9 389.2a4.1 4.1 0 1 0 8.2 0a4.1 4.1 0 1 0 -8.2 0M467.5 429.7a4.1 4.1 0 1 0 8.2 0a4.1 4.1 0 1 0 -8.2 0M465.9 447.2a4.1 4.1 0 1 0 8.2 0a4.1 4.1 0 1 0 -8.2 0M484.9 482.2a4.1 4.1 0 1 0 8.2 0a4.1 4.1 0 1 0 -8.2 0M413.1 344.1a4.1 4.1 0 1 0 8.2 0a4.1 4.1 0 1 0 -8.2 0M431.1 355.8a4.1 4.1 0 1 0 8.2 0a4.1 4.1 0 1 0 -8.2 0M391.3 358.1a4.1 4.1 0 1 0 8.2 0a4.1 4.1 0 1 0 -8.2 0M388.8 365.7a4.1 4.1 0 1 0 8.2 0a4.1 4.1 0 1 0 -8.2 0M408.8 378.7a4.1 4.1 0 1 0 8.2 0a4.1 4.1 0 1 0 -8.2 0M376.8 411.7a4.1 4.1 0 1 0 8.2 0a4.1 4.1 0 1 0 -8.2 0M373.3 466.4a4.1 4.1 0 1 0 8.2 0a4.1 4.1 0 1 0 -8.2 0M350.2 447.6a4.1 4.1 0 1 0 8.2 0a4.1 4.1 0 1 0 -8.2 0M344.0 452.3a4.1 4.1 0 1 0 8.2 0a4.1 4.1 0 1 0 -8.2 0M306.5 344.1a4.1 4.1 0 1 0 8.2 0a4.1 4.1 0 1 0 -8.2 0M368.4 355.4a4.1 4.1 0 1 0 8.2 0a4.1 4.1 0 1 0 -8.2 0M286.9 360.6a4.1 4.1 0 1 0 8.2 0a4.1 4.1 0 1 0 -8.2 0M316.8 366.2a4.1 4.1 0 1 0 8.2 0a4.1 4.1 0 1 0 -8.2 0M348.8 378.7a4.1 4.1 0 1 0 8.2 0a4.1 4.1 0 1 0 -8.2 0M341.6 382.9a4.1 4.1 0 1 0 8.2 0a4.1 4.1 0 1 0 -8.2 0M303.4 375.0a4.1 4.1 0 1 0 8.2 0a4.1 4.1 0 1 0 -8.2 0M330.8 395.0a4.1 4.1 0 1 0 8.2 0a4.1 4.1 0 1 0 -8.2 0M329.2 399.8a4.1 4.1 0 1 0 8.2 0a4.1 4.1 0 1 0 -8.2 0M316.8 411.5a4.1 4.1 0 1 0 8.2 0a4.1 4.1 0 1 0 -8.2 0M331.7 422.0a4.1 4.1 0 1 0 8.2 0a4.1 4.1 0 1 0 -8.2 0M338.5 428.6a4.1 4.1 0 1 0 8.2 0a4.1 4.1 0 1 0 -8.2 0M326.1 430.1a4.1 4.1 0 1 0 8.2 0a4.1 4.1 0 1 0 -8.2 0M321.0 433.2a4.1 4.1 0 1 0 8.2 0a4.1 4.1 0 1 0 -8.2 0M333.3 431.1a4.1 4.1 0 1 0 8.2 0a4.1 4.1 0 1 0 -8.2 0M296.2 428.6a4.1 4.1 0 1 0 8.2 0a4.1 4.1 0 1 0 -8.2 0M305.5 427.6a4.1 4.1 0 1 0 8.2 0a4.1 4.1 0 1 0 -8.2 0M292.1 436.3a4.1 4.1 0 1 0 8.2 0a4.1 4.1 0 1 0 -8.2 0M286.9 437.9a4.1 4.1 0 1 0 8.2 0a4.1 4.1 0 1 0 -8.2 0M302.4 440.6a4.1 4.1 0 1 0 8.2 0a4.1 4.1 0 1 0 -8.2 0M288.0 454.4a4.1 4.1 0 1 0 8.2 0a4.1 4.1 0 1 0 -8.2 0M301.4 454.4a4.1 4.1 0 1 0 8.2 0a4.1 4.1 0 1 0 -8.2 0M304.5 460.2a4.1 4.1 0 1 0 8.2 0a4.1 4.1 0 1 0 -8.2 0M321.0 468.8a4.1 4.1 0 1 0 8.2 0a4.1 4.1 0 1 0 -8.2 0M323.0 474.0a4.1 4.1 0 1 0 8.2 0a4.1 4.1 0 1 0 -8.2 0M301.4 466.8a4.1 4.1 0 1 0 8.2 0a4.1 4.1 0 1 0 -8.2 0M289.0 471.9a4.1 4.1 0 1 0 8.2 0a4.1 4.1 0 1 0 -8.2 0M113.6 346.5a4.1 4.1 0 1 0 8.2 0a4.1 4.1 0 1 0 -8.2 0M152.4 342.9a4.1 4.1 0 1 0 8.2 0a4.1 4.1 0 1 0 -8.2 0M162.5 337.6a4.1 4.1 0 1 0 8.2 0a4.1 4.1 0 1 0 -8.2 0M167.9 339.2a4.1 4.1 0 1 0 8.2 0a4.1 4.1 0 1 0 -8.2 0M165.7 349.9a4.1 4.1 0 1 0 8.2 0a4.1 4.1 0 1 0 -8.2 0M170.0 347.8a4.1 4.1 0 1 0 8.2 0a4.1 4.1 0 1 0 -8.2 0M174.8 350.4a4.1 4.1 0 1 0 8.2 0a4.1 4.1 0 1 0 -8.2 0M161.5 353.1a4.1 4.1 0 1 0 8.2 0a4.1 4.1 0 1 0 -8.2 0M154.5 355.8a4.1 4.1 0 1 0 8.2 0a4.1 4.1 0 1 0 -8.2 0M156.1 361.1a4.1 4.1 0 1 0 8.2 0a4.1 4.1 0 1 0 -8.2 0M139.0 358.4a4.1 4.1 0 1 0 8.2 0a4.1 4.1 0 1 0 -8.2 0M134.7 360.0a4.1 4.1 0 1 0 8.2 0a4.1 4.1 0 1 0 -8.2 0M126.7 360.6a4.1 4.1 0 1 0 8.2 0a4.1 4.1 0 1 0 -8.2 0M194.6 360.0a4.1 4.1 0 1 0 8.2 0a4.1 4.1 0 1 0 -8.2 0M115.5 365.9a4.1 4.1 0 1 0 8.2 0a4.1 4.1 0 1 0 -8.2 0M119.3 370.2a4.1 4.1 0 1 0 8.2 0a4.1 4.1 0 1 0 -8.2 0M138.0 368.1a4.1 4.1 0 1 0 8.2 0a4.1 4.1 0 1 0 -8.2 0M141.2 372.3a4.1 4.1 0 1 0 8.2 0a4.1 4.1 0 1 0 -8.2 0M139.0 374.5a4.1 4.1 0 1 0 8.2 0a4.1 4.1 0 1 0 -8.2 0M149.7 367.0a4.1 4.1 0 1 0 8.2 0a4.1 4.1 0 1 0 -8.2 0M151.8 370.2a4.1 4.1 0 1 0 8.2 0a4.1 4.1 0 1 0 -8.2 0M146.5 369.1a4.1 4.1 0 1 0 8.2 0a4.1 4.1 0 1 0 -8.2 0M186.0 369.1a4.1 4.1 0 1 0 8.2 0a4.1 4.1 0 1 0 -8.2 0M193.0 372.3a4.1 4.1 0 1 0 8.2 0a4.1 4.1 0 1 0 -8.2 0M194.0 376.6a4.1 4.1 0 1 0 8.2 0a4.1 4.1 0 1 0 -8.2 0M126.2 381.9a4.1 4.1 0 1 0 8.2 0a4.1 4.1 0 1 0 -8.2 0M124.1 385.1a4.1 4.1 0 1 0 8.2 0a4.1 4.1 0 1 0 -8.2 0M137.4 385.1a4.1 4.1 0 1 0 8.2 0a4.1 4.1 0 1 0 -8.2 0M118.2 392.6a4.1 4.1 0 1 0 8.2 0a4.1 4.1 0 1 0 -8.2 0M135.8 392.6a4.1 4.1 0 1 0 8.2 0a4.1 4.1 0 1 0 -8.2 0M152.9 381.9a4.1 4.1 0 1 0 8.2 0a4.1 4.1 0 1 0 -8.2 0M158.3 380.9a4.1 4.1 0 1 0 8.2 0a4.1 4.1 0 1 0 -8.2 0M159.3 385.1a4.1 4.1 0 1 0 8.2 0a4.1 4.1 0 1 0 -8.2 0M163.6 386.2a4.1 4.1 0 1 0 8.2 0a4.1 4.1 0 1 0 -8.2 0M161.5 398.0a4.1 4.1 0 1 0 8.2 0a4.1 4.1 0 1 0 -8.2 0M167.3 402.2a4.1 4.1 0 1 0 8.2 0a4.1 4.1 0 1 0 -8.2 0M179.6 394.2a4.1 4.1 0 1 0 8.2 0a4.1 4.1 0 1 0 -8.2 0M182.8 383.0a4.1 4.1 0 1 0 8.2 0a4.1 4.1 0 1 0 -8.2 0M188.7 380.9a4.1 4.1 0 1 0 8.2 0a4.1 4.1 0 1 0 -8.2 0M194.6 380.9a4.1 4.1 0 1 0 8.2 0a4.1 4.1 0 1 0 -8.2 0M192.4 392.6a4.1 4.1 0 1 0 8.2 0a4.1 4.1 0 1 0 -8.2 0M189.2 402.2a4.1 4.1 0 1 0 8.2 0a4.1 4.1 0 1 0 -8.2 0M182.8 403.3a4.1 4.1 0 1 0 8.2 0a4.1 4.1 0 1 0 -8.2 0M138.0 396.9a4.1 4.1 0 1 0 8.2 0a4.1 4.1 0 1 0 -8.2 0M144.4 400.1a4.1 4.1 0 1 0 8.2 0a4.1 4.1 0 1 0 -8.2 0M151.8 396.4a4.1 4.1 0 1 0 8.2 0a4.1 4.1 0 1 0 -8.2 0M132.6 402.2a4.1 4.1 0 1 0 8.2 0a4.1 4.1 0 1 0 -8.2 0M120.9 404.4a4.1 4.1 0 1 0 8.2 0a4.1 4.1 0 1 0 -8.2 0M217.8 354.7a4.1 4.1 0 1 0 8.2 0a4.1 4.1 0 1 0 -8.2 0M240.8 357.9a4.1 4.1 0 1 0 8.2 0a4.1 4.1 0 1 0 -8.2 0M228.0 357.4a4.1 4.1 0 1 0 8.2 0a4.1 4.1 0 1 0 -8.2 0M232.2 361.1a4.1 4.1 0 1 0 8.2 0a4.1 4.1 0 1 0 -8.2 0M209.8 359.5a4.1 4.1 0 1 0 8.2 0a4.1 4.1 0 1 0 -8.2 0M198.0 362.7a4.1 4.1 0 1 0 8.2 0a4.1 4.1 0 1 0 -8.2 0M206.6 367.0a4.1 4.1 0 1 0 8.2 0a4.1 4.1 0 1 0 -8.2 0M203.4 373.9a4.1 4.1 0 1 0 8.2 0a4.1 4.1 0 1 0 -8.2 0M249.9 371.8a4.1 4.1 0 1 0 8.2 0a4.1 4.1 0 1 0 -8.2 0M249.9 382.5a4.1 4.1 0 1 0 8.2 0a4.1 4.1 0 1 0 -8.2 0M250.9 391.0a4.1 4.1 0 1 0 8.2 0a4.1 4.1 0 1 0 -8.2 0M281.4 370.2a4.1 4.1 0 1 0 8.2 0a4.1 4.1 0 1 0 -8.2 0M214.6 377.7a4.1 4.1 0 1 0 8.2 0a4.1 4.1 0 1 0 -8.2 0M211.9 384.1a4.1 4.1 0 1 0 8.2 0a4.1 4.1 0 1 0 -8.2 0M208.7 386.2a4.1 4.1 0 1 0 8.2 0a4.1 4.1 0 1 0 -8.2 0M226.3 395.8a4.1 4.1 0 1 0 8.2 0a4.1 4.1 0 1 0 -8.2 0M203.4 394.8a4.1 4.1 0 1 0 8.2 0a4.1 4.1 0 1 0 -8.2 0M200.2 395.8a4.1 4.1 0 1 0 8.2 0a4.1 4.1 0 1 0 -8.2 0M206.6 404.4a4.1 4.1 0 1 0 8.2 0a4.1 4.1 0 1 0 -8.2 0M263.2 391.6a4.1 4.1 0 1 0 8.2 0a4.1 4.1 0 1 0 -8.2 0M266.9 397.4a4.1 4.1 0 1 0 8.2 0a4.1 4.1 0 1 0 -8.2 0M262.1 399.0a4.1 4.1 0 1 0 8.2 0a4.1 4.1 0 1 0 -8.2 0M252.0 400.1a4.1 4.1 0 1 0 8.2 0a4.1 4.1 0 1 0 -8.2 0M236.5 404.4a4.1 4.1 0 1 0 8.2 0a4.1 4.1 0 1 0 -8.2 0M242.9 404.4a4.1 4.1 0 1 0 8.2 0a4.1 4.1 0 1 0 -8.2 0M248.3 403.3a4.1 4.1 0 1 0 8.2 0a4.1 4.1 0 1 0 -8.2 0M280.3 403.3a4.1 4.1 0 1 0 8.2 0a4.1 4.1 0 1 0 -8.2 0M120.9 408.7a4.1 4.1 0 1 0 8.2 0a4.1 4.1 0 1 0 -8.2 0M131.5 406.5a4.1 4.1 0 1 0 8.2 0a4.1 4.1 0 1 0 -8.2 0M138.0 412.4a4.1 4.1 0 1 0 8.2 0a4.1 4.1 0 1 0 -8.2 0M141.2 417.8a4.1 4.1 0 1 0 8.2 0a4.1 4.1 0 1 0 -8.2 0M144.4 409.2a4.1 4.1 0 1 0 8.2 0a4.1 4.1 0 1 0 -8.2 0M150.8 409.2a4.1 4.1 0 1 0 8.2 0a4.1 4.1 0 1 0 -8.2 0M155.0 412.4a4.1 4.1 0 1 0 8.2 0a4.1 4.1 0 1 0 -8.2 0M165.7 406.5a4.1 4.1 0 1 0 8.2 0a4.1 4.1 0 1 0 -8.2 0M174.3 414.0a4.1 4.1 0 1 0 8.2 0a4.1 4.1 0 1 0 -8.2 0M182.8 406.5a4.1 4.1 0 1 0 8.2 0a4.1 4.1 0 1 0 -8.2 0M189.2 411.3a4.1 4.1 0 1 0 8.2 0a4.1 4.1 0 1 0 -8.2 0M193.5 407.1a4.1 4.1 0 1 0 8.2 0a4.1 4.1 0 1 0 -8.2 0M193.5 419.9a4.1 4.1 0 1 0 8.2 0a4.1 4.1 0 1 0 -8.2 0M178.5 421.5a4.1 4.1 0 1 0 8.2 0a4.1 4.1 0 1 0 -8.2 0M117.7 417.8a4.1 4.1 0 1 0 8.2 0a4.1 4.1 0 1 0 -8.2 0M123.0 421.0a4.1 4.1 0 1 0 8.2 0a4.1 4.1 0 1 0 -8.2 0M126.2 425.2a4.1 4.1 0 1 0 8.2 0a4.1 4.1 0 1 0 -8.2 0M131.5 426.3a4.1 4.1 0 1 0 8.2 0a4.1 4.1 0 1 0 -8.2 0M136.9 429.5a4.1 4.1 0 1 0 8.2 0a4.1 4.1 0 1 0 -8.2 0M121.9 431.6a4.1 4.1 0 1 0 8.2 0a4.1 4.1 0 1 0 -8.2 0M167.9 428.4a4.1 4.1 0 1 0 8.2 0a4.1 4.1 0 1 0 -8.2 0M174.3 427.4a4.1 4.1 0 1 0 8.2 0a4.1 4.1 0 1 0 -8.2 0M180.7 428.4a4.1 4.1 0 1 0 8.2 0a4.1 4.1 0 1 0 -8.2 0M194.6 431.6a4.1 4.1 0 1 0 8.2 0a4.1 4.1 0 1 0 -8.2 0M117.7 437.0a4.1 4.1 0 1 0 8.2 0a4.1 4.1 0 1 0 -8.2 0M114.4 442.3a4.1 4.1 0 1 0 8.2 0a4.1 4.1 0 1 0 -8.2 0M141.2 439.1a4.1 4.1 0 1 0 8.2 0a4.1 4.1 0 1 0 -8.2 0M144.4 441.3a4.1 4.1 0 1 0 8.2 0a4.1 4.1 0 1 0 -8.2 0M136.9 444.5a4.1 4.1 0 1 0 8.2 0a4.1 4.1 0 1 0 -8.2 0M134.7 447.7a4.1 4.1 0 1 0 8.2 0a4.1 4.1 0 1 0 -8.2 0M167.9 440.2a4.1 4.1 0 1 0 8.2 0a4.1 4.1 0 1 0 -8.2 0M174.3 438.1a4.1 4.1 0 1 0 8.2 0a4.1 4.1 0 1 0 -8.2 0M182.8 438.1a4.1 4.1 0 1 0 8.2 0a4.1 4.1 0 1 0 -8.2 0M171.1 444.5a4.1 4.1 0 1 0 8.2 0a4.1 4.1 0 1 0 -8.2 0M191.4 442.3a4.1 4.1 0 1 0 8.2 0a4.1 4.1 0 1 0 -8.2 0M155.0 447.7a4.1 4.1 0 1 0 8.2 0a4.1 4.1 0 1 0 -8.2 0M161.5 448.7a4.1 4.1 0 1 0 8.2 0a4.1 4.1 0 1 0 -8.2 0M165.7 447.7a4.1 4.1 0 1 0 8.2 0a4.1 4.1 0 1 0 -8.2 0M175.3 448.7a4.1 4.1 0 1 0 8.2 0a4.1 4.1 0 1 0 -8.2 0M187.1 448.7a4.1 4.1 0 1 0 8.2 0a4.1 4.1 0 1 0 -8.2 0M115.5 451.9a4.1 4.1 0 1 0 8.2 0a4.1 4.1 0 1 0 -8.2 0M119.8 459.4a4.1 4.1 0 1 0 8.2 0a4.1 4.1 0 1 0 -8.2 0M150.8 450.9a4.1 4.1 0 1 0 8.2 0a4.1 4.1 0 1 0 -8.2 0M146.5 459.4a4.1 4.1 0 1 0 8.2 0a4.1 4.1 0 1 0 -8.2 0M143.3 463.7a4.1 4.1 0 1 0 8.2 0a4.1 4.1 0 1 0 -8.2 0M151.8 458.4a4.1 4.1 0 1 0 8.2 0a4.1 4.1 0 1 0 -8.2 0M164.7 454.1a4.1 4.1 0 1 0 8.2 0a4.1 4.1 0 1 0 -8.2 0M167.9 461.6a4.1 4.1 0 1 0 8.2 0a4.1 4.1 0 1 0 -8.2 0M185.0 453.0a4.1 4.1 0 1 0 8.2 0a4.1 4.1 0 1 0 -8.2 0M187.1 458.4a4.1 4.1 0 1 0 8.2 0a4.1 4.1 0 1 0 -8.2 0M193.5 453.0a4.1 4.1 0 1 0 8.2 0a4.1 4.1 0 1 0 -8.2 0M126.2 464.8a4.1 4.1 0 1 0 8.2 0a4.1 4.1 0 1 0 -8.2 0M114.4 470.1a4.1 4.1 0 1 0 8.2 0a4.1 4.1 0 1 0 -8.2 0M120.9 474.4a4.1 4.1 0 1 0 8.2 0a4.1 4.1 0 1 0 -8.2 0M131.5 473.3a4.1 4.1 0 1 0 8.2 0a4.1 4.1 0 1 0 -8.2 0M150.8 469.0a4.1 4.1 0 1 0 8.2 0a4.1 4.1 0 1 0 -8.2 0M156.1 471.2a4.1 4.1 0 1 0 8.2 0a4.1 4.1 0 1 0 -8.2 0M161.5 472.2a4.1 4.1 0 1 0 8.2 0a4.1 4.1 0 1 0 -8.2 0M170.0 473.3a4.1 4.1 0 1 0 8.2 0a4.1 4.1 0 1 0 -8.2 0M182.8 472.2a4.1 4.1 0 1 0 8.2 0a4.1 4.1 0 1 0 -8.2 0M198.0 408.1a4.1 4.1 0 1 0 8.2 0a4.1 4.1 0 1 0 -8.2 0M215.1 410.8a4.1 4.1 0 1 0 8.2 0a4.1 4.1 0 1 0 -8.2 0M222.6 410.3a4.1 4.1 0 1 0 8.2 0a4.1 4.1 0 1 0 -8.2 0M226.9 415.6a4.1 4.1 0 1 0 8.2 0a4.1 4.1 0 1 0 -8.2 0M264.3 408.1a4.1 4.1 0 1 0 8.2 0a4.1 4.1 0 1 0 -8.2 0M201.2 419.9a4.1 4.1 0 1 0 8.2 0a4.1 4.1 0 1 0 -8.2 0M208.7 418.8a4.1 4.1 0 1 0 8.2 0a4.1 4.1 0 1 0 -8.2 0M215.1 419.9a4.1 4.1 0 1 0 8.2 0a4.1 4.1 0 1 0 -8.2 0M202.3 425.2a4.1 4.1 0 1 0 8.2 0a4.1 4.1 0 1 0 -8.2 0M217.3 428.4a4.1 4.1 0 1 0 8.2 0a4.1 4.1 0 1 0 -8.2 0M209.8 431.6a4.1 4.1 0 1 0 8.2 0a4.1 4.1 0 1 0 -8.2 0M205.5 433.8a4.1 4.1 0 1 0 8.2 0a4.1 4.1 0 1 0 -8.2 0M198.0 432.7a4.1 4.1 0 1 0 8.2 0a4.1 4.1 0 1 0 -8.2 0M198.0 438.1a4.1 4.1 0 1 0 8.2 0a4.1 4.1 0 1 0 -8.2 0M233.8 422.0a4.1 4.1 0 1 0 8.2 0a4.1 4.1 0 1 0 -8.2 0M241.8 417.2a4.1 4.1 0 1 0 8.2 0a4.1 4.1 0 1 0 -8.2 0M246.1 415.6a4.1 4.1 0 1 0 8.2 0a4.1 4.1 0 1 0 -8.2 0M261.1 428.4a4.1 4.1 0 1 0 8.2 0a4.1 4.1 0 1 0 -8.2 0M221.5 442.3a4.1 4.1 0 1 0 8.2 0a4.1 4.1 0 1 0 -8.2 0M226.9 441.3a4.1 4.1 0 1 0 8.2 0a4.1 4.1 0 1 0 -8.2 0M223.7 445.5a4.1 4.1 0 1 0 8.2 0a4.1 4.1 0 1 0 -8.2 0M205.5 450.9a4.1 4.1 0 1 0 8.2 0a4.1 4.1 0 1 0 -8.2 0M219.4 453.0a4.1 4.1 0 1 0 8.2 0a4.1 4.1 0 1 0 -8.2 0M222.6 456.2a4.1 4.1 0 1 0 8.2 0a4.1 4.1 0 1 0 -8.2 0M213.0 460.5a4.1 4.1 0 1 0 8.2 0a4.1 4.1 0 1 0 -8.2 0M217.3 464.8a4.1 4.1 0 1 0 8.2 0a4.1 4.1 0 1 0 -8.2 0M253.6 462.6a4.1 4.1 0 1 0 8.2 0a4.1 4.1 0 1 0 -8.2 0M254.7 469.0a4.1 4.1 0 1 0 8.2 0a4.1 4.1 0 1 0 -8.2 0M265.3 470.1a4.1 4.1 0 1 0 8.2 0a4.1 4.1 0 1 0 -8.2 0M275.0 466.9a4.1 4.1 0 1 0 8.2 0a4.1 4.1 0 1 0 -8.2 0M280.3 469.0a4.1 4.1 0 1 0 8.2 0a4.1 4.1 0 1 0 -8.2 0M202.3 471.2a4.1 4.1 0 1 0 8.2 0a4.1 4.1 0 1 0 -8.2 0M118.7 478.7a4.1 4.1 0 1 0 8.2 0a4.1 4.1 0 1 0 -8.2 0M131.5 476.5a4.1 4.1 0 1 0 8.2 0a4.1 4.1 0 1 0 -8.2 0M163.6 481.3a4.1 4.1 0 1 0 8.2 0a4.1 4.1 0 1 0 -8.2 0M180.7 480.3a4.1 4.1 0 1 0 8.2 0a4.1 4.1 0 1 0 -8.2 0M188.2 482.4a4.1 4.1 0 1 0 8.2 0a4.1 4.1 0 1 0 -8.2 0M125.1 483.5a4.1 4.1 0 1 0 8.2 0a4.1 4.1 0 1 0 -8.2 0M118.7 491.0a4.1 4.1 0 1 0 8.2 0a4.1 4.1 0 1 0 -8.2 0M130.5 492.0a4.1 4.1 0 1 0 8.2 0a4.1 4.1 0 1 0 -8.2 0M152.9 486.1a4.1 4.1 0 1 0 8.2 0a4.1 4.1 0 1 0 -8.2 0M140.1 493.1a4.1 4.1 0 1 0 8.2 0a4.1 4.1 0 1 0 -8.2 0M148.6 494.2a4.1 4.1 0 1 0 8.2 0a4.1 4.1 0 1 0 -8.2 0M163.6 493.1a4.1 4.1 0 1 0 8.2 0a4.1 4.1 0 1 0 -8.2 0M185.0 497.4a4.1 4.1 0 1 0 8.2 0a4.1 4.1 0 1 0 -8.2 0M117.7 500.6a4.1 4.1 0 1 0 8.2 0a4.1 4.1 0 1 0 -8.2 0M114.4 508.1a4.1 4.1 0 1 0 8.2 0a4.1 4.1 0 1 0 -8.2 0M133.7 501.6a4.1 4.1 0 1 0 8.2 0a4.1 4.1 0 1 0 -8.2 0M141.2 499.5a4.1 4.1 0 1 0 8.2 0a4.1 4.1 0 1 0 -8.2 0M143.3 504.8a4.1 4.1 0 1 0 8.2 0a4.1 4.1 0 1 0 -8.2 0M150.8 503.8a4.1 4.1 0 1 0 8.2 0a4.1 4.1 0 1 0 -8.2 0M157.2 504.8a4.1 4.1 0 1 0 8.2 0a4.1 4.1 0 1 0 -8.2 0M168.9 499.5a4.1 4.1 0 1 0 8.2 0a4.1 4.1 0 1 0 -8.2 0M174.3 501.6a4.1 4.1 0 1 0 8.2 0a4.1 4.1 0 1 0 -8.2 0M121.9 513.4a4.1 4.1 0 1 0 8.2 0a4.1 4.1 0 1 0 -8.2 0M130.5 512.3a4.1 4.1 0 1 0 8.2 0a4.1 4.1 0 1 0 -8.2 0M161.5 518.7a4.1 4.1 0 1 0 8.2 0a4.1 4.1 0 1 0 -8.2 0M117.7 525.1a4.1 4.1 0 1 0 8.2 0a4.1 4.1 0 1 0 -8.2 0M134.7 520.9a4.1 4.1 0 1 0 8.2 0a4.1 4.1 0 1 0 -8.2 0M136.9 530.5a4.1 4.1 0 1 0 8.2 0a4.1 4.1 0 1 0 -8.2 0M150.8 532.6a4.1 4.1 0 1 0 8.2 0a4.1 4.1 0 1 0 -8.2 0M118.7 535.8a4.1 4.1 0 1 0 8.2 0a4.1 4.1 0 1 0 -8.2 0M126.2 533.7a4.1 4.1 0 1 0 8.2 0a4.1 4.1 0 1 0 -8.2 0M127.3 544.4a4.1 4.1 0 1 0 8.2 0a4.1 4.1 0 1 0 -8.2 0M197.0 492.0a4.1 4.1 0 1 0 8.2 0a4.1 4.1 0 1 0 -8.2 0M201.2 502.7a4.1 4.1 0 1 0 8.2 0a4.1 4.1 0 1 0 -8.2 0M225.8 503.8a4.1 4.1 0 1 0 8.2 0a4.1 4.1 0 1 0 -8.2 0M244.0 482.4a4.1 4.1 0 1 0 8.2 0a4.1 4.1 0 1 0 -8.2 0M247.2 497.4a4.1 4.1 0 1 0 8.2 0a4.1 4.1 0 1 0 -8.2 0M224.7 521.9a4.1 4.1 0 1 0 8.2 0a4.1 4.1 0 1 0 -8.2 0M205.5 523.0a4.1 4.1 0 1 0 8.2 0a4.1 4.1 0 1 0 -8.2 0M261.1 499.5a4.1 4.1 0 1 0 8.2 0a4.1 4.1 0 1 0 -8.2 0M257.3 507.0a4.1 4.1 0 1 0 8.2 0a4.1 4.1 0 1 0 -8.2 0M266.9 524.1a4.1 4.1 0 1 0 8.2 0a4.1 4.1 0 1 0 -8.2 0M237.6 521.9a4.1 4.1 0 1 0 8.2 0a4.1 4.1 0 1 0 -8.2 0M244.5 528.9a4.1 4.1 0 1 0 8.2 0a4.1 4.1 0 1 0 -8.2 0M228.0 531.6a4.1 4.1 0 1 0 8.2 0a4.1 4.1 0 1 0 -8.2 0M231.2 535.8a4.1 4.1 0 1 0 8.2 0a4.1 4.1 0 1 0 -8.2 0M232.2 541.2a4.1 4.1 0 1 0 8.2 0a4.1 4.1 0 1 0 -8.2 0M240.8 535.8a4.1 4.1 0 1 0 8.2 0a4.1 4.1 0 1 0 -8.2 0M247.2 540.1a4.1 4.1 0 1 0 8.2 0a4.1 4.1 0 1 0 -8.2 0M218.3 545.4a4.1 4.1 0 1 0 8.2 0a4.1 4.1 0 1 0 -8.2 0M260.0 545.4a4.1 4.1 0 1 0 8.2 0a4.1 4.1 0 1 0 -8.2 0M113.4 550.8a4.1 4.1 0 1 0 8.2 0a4.1 4.1 0 1 0 -8.2 0M127.3 551.3a4.1 4.1 0 1 0 8.2 0a4.1 4.1 0 1 0 -8.2 0M131.5 554.5a4.1 4.1 0 1 0 8.2 0a4.1 4.1 0 1 0 -8.2 0M112.8 562.0a4.1 4.1 0 1 0 8.2 0a4.1 4.1 0 1 0 -8.2 0M175.3 562.0a4.1 4.1 0 1 0 8.2 0a4.1 4.1 0 1 0 -8.2 0M172.1 566.3a4.1 4.1 0 1 0 8.2 0a4.1 4.1 0 1 0 -8.2 0M185.0 561.0a4.1 4.1 0 1 0 8.2 0a4.1 4.1 0 1 0 -8.2 0M185.0 565.2a4.1 4.1 0 1 0 8.2 0a4.1 4.1 0 1 0 -8.2 0M194.6 557.8a4.1 4.1 0 1 0 8.2 0a4.1 4.1 0 1 0 -8.2 0M165.7 579.1a4.1 4.1 0 1 0 8.2 0a4.1 4.1 0 1 0 -8.2 0M175.3 580.2a4.1 4.1 0 1 0 8.2 0a4.1 4.1 0 1 0 -8.2 0M174.3 587.7a4.1 4.1 0 1 0 8.2 0a4.1 4.1 0 1 0 -8.2 0M177.5 590.9a4.1 4.1 0 1 0 8.2 0a4.1 4.1 0 1 0 -8.2 0M152.9 583.4a4.1 4.1 0 1 0 8.2 0a4.1 4.1 0 1 0 -8.2 0M217.3 549.2a4.1 4.1 0 1 0 8.2 0a4.1 4.1 0 1 0 -8.2 0M221.5 550.3a4.1 4.1 0 1 0 8.2 0a4.1 4.1 0 1 0 -8.2 0M226.9 552.9a4.1 4.1 0 1 0 8.2 0a4.1 4.1 0 1 0 -8.2 0M218.3 559.9a4.1 4.1 0 1 0 8.2 0a4.1 4.1 0 1 0 -8.2 0M209.8 567.4a4.1 4.1 0 1 0 8.2 0a4.1 4.1 0 1 0 -8.2 0M211.9 583.4a4.1 4.1 0 1 0 8.2 0a4.1 4.1 0 1 0 -8.2 0M220.3 588.5a4.1 4.1 0 1 0 8.2 0a4.1 4.1 0 1 0 -8.2 0M236.5 565.8a4.1 4.1 0 1 0 8.2 0a4.1 4.1 0 1 0 -8.2 0M242.4 569.5a4.1 4.1 0 1 0 8.2 0a4.1 4.1 0 1 0 -8.2 0M248.3 562.6a4.1 4.1 0 1 0 8.2 0a4.1 4.1 0 1 0 -8.2 0M246.1 547.1a4.1 4.1 0 1 0 8.2 0a4.1 4.1 0 1 0 -8.2 0M260.0 548.7a4.1 4.1 0 1 0 8.2 0a4.1 4.1 0 1 0 -8.2 0M284.0 569.5a4.1 4.1 0 1 0 8.2 0a4.1 4.1 0 1 0 -8.2 0M281.4 584.7a4.1 4.1 0 1 0 8.2 0a4.1 4.1 0 1 0 -8.2 0M291.8 509.1a4.1 4.1 0 1 0 8.2 0a4.1 4.1 0 1 0 -8.2 0M324.4 477.1a4.1 4.1 0 1 0 8.2 0a4.1 4.1 0 1 0 -8.2 0M324.4 499.5a4.1 4.1 0 1 0 8.2 0a4.1 4.1 0 1 0 -8.2 0M345.7 501.6a4.1 4.1 0 1 0 8.2 0a4.1 4.1 0 1 0 -8.2 0M359.6 509.1a4.1 4.1 0 1 0 8.2 0a4.1 4.1 0 1 0 -8.2 0M337.0 510.0a4.1 4.1 0 1 0 8.2 0a4.1 4.1 0 1 0 -8.2 0M307.8 517.7a4.1 4.1 0 1 0 8.2 0a4.1 4.1 0 1 0 -8.2 0M301.9 524.1a4.1 4.1 0 1 0 8.2 0a4.1 4.1 0 1 0 -8.2 0M347.7 517.5a4.1 4.1 0 1 0 8.2 0a4.1 4.1 0 1 0 -8.2 0M366.0 523.5a4.1 4.1 0 1 0 8.2 0a4.1 4.1 0 1 0 -8.2 0M308.3 539.0a4.1 4.1 0 1 0 8.2 0a4.1 4.1 0 1 0 -8.2 0M314.2 541.2a4.1 4.1 0 1 0 8.2 0a4.1 4.1 0 1 0 -8.2 0M290.2 545.4a4.1 4.1 0 1 0 8.2 0a4.1 4.1 0 1 0 -8.2 0M359.1 540.6a4.1 4.1 0 1 0 8.2 0a4.1 4.1 0 1 0 -8.2 0M353.2 544.4a4.1 4.1 0 1 0 8.2 0a4.1 4.1 0 1 0 -8.2 0M290.2 548.7a4.1 4.1 0 1 0 8.2 0a4.1 4.1 0 1 0 -8.2 0M308.9 552.9a4.1 4.1 0 1 0 8.2 0a4.1 4.1 0 1 0 -8.2 0M313.1 548.1a4.1 4.1 0 1 0 8.2 0a4.1 4.1 0 1 0 -8.2 0M300.9 562.0a4.1 4.1 0 1 0 8.2 0a4.1 4.1 0 1 0 -8.2 0M329.5 565.8a4.1 4.1 0 1 0 8.2 0a4.1 4.1 0 1 0 -8.2 0M318.5 574.6a4.1 4.1 0 1 0 8.2 0a4.1 4.1 0 1 0 -8.2 0M303.0 595.1a4.1 4.1 0 1 0 8.2 0a4.1 4.1 0 1 0 -8.2 0M359.6 566.3a4.1 4.1 0 1 0 8.2 0a4.1 4.1 0 1 0 -8.2 0M361.5 571.6a4.1 4.1 0 1 0 8.2 0a4.1 4.1 0 1 0 -8.2 0M346.6 572.2a4.1 4.1 0 1 0 8.2 0a4.1 4.1 0 1 0 -8.2 0M355.1 577.8a4.1 4.1 0 1 0 8.2 0a4.1 4.1 0 1 0 -8.2 0M357.7 585.0a4.1 4.1 0 1 0 8.2 0a4.1 4.1 0 1 0 -8.2 0M396.5 523.8a4.1 4.1 0 1 0 8.2 0a4.1 4.1 0 1 0 -8.2 0M433.6 511.3a4.1 4.1 0 1 0 8.2 0a4.1 4.1 0 1 0 -8.2 0"/>
<path fill="#c8284e" d="M801.7 512.2a4.1 4.1 0 1 0 8.2 0a4.1 4.1 0 1 0 -8.2 0M803.6 520.9a4.1 4.1 0 1 0 8.2 0a4.1 4.1 0 1 0 -8.2 0M801.9 530.3a4.1 4.1 0 1 0 8.2 0a4.1 4.1 0 1 0 -8.2 0M800.6 539.0a4.1 4.1 0 1 0 8.2 0a4.1 4.1 0 1 0 -8.2 0M802.4 549.2a4.1 4.1 0 1 0 8.2 0a4.1 4.1 0 1 0 -8.2 0M800.3 556.2a4.1 4.1 0 1 0 8.2 0a4.1 4.1 0 1 0 -8.2 0M800.3 567.2a4.1 4.1 0 1 0 8.2 0a4.1 4.1 0 1 0 -8.2 0M802.7 573.2a4.1 4.1 0 1 0 8.2 0a4.1 4.1 0 1 0 -8.2 0M811.5 512.5a4.1 4.1 0 1 0 8.2 0a4.1 4.1 0 1 0 -8.2 0M809.5 519.1a4.1 4.1 0 1 0 8.2 0a4.1 4.1 0 1 0 -8.2 0M811.0 528.2a4.1 4.1 0 1 0 8.2 0a4.1 4.1 0 1 0 -8.2 0M809.7 538.0a4.1 4.1 0 1 0 8.2 0a4.1 4.1 0 1 0 -8.2 0M809.0 547.9a4.1 4.1 0 1 0 8.2 0a4.1 4.1 0 1 0 -8.2 0M810.7 558.4a4.1 4.1 0 1 0 8.2 0a4.1 4.1 0 1 0 -8.2 0M811.0 566.6a4.1 4.1 0 1 0 8.2 0a4.1 4.1 0 1 0 -8.2 0M821.9 514.0a4.1 4.1 0 1 0 8.2 0a4.1 4.1 0 1 0 -8.2 0M821.3 521.8a4.1 4.1 0 1 0 8.2 0a4.1 4.1 0 1 0 -8.2 0M819.2 528.9a4.1 4.1 0 1 0 8.2 0a4.1 4.1 0 1 0 -8.2 0M819.1 537.3a4.1 4.1 0 1 0 8.2 0a4.1 4.1 0 1 0 -8.2 0M821.0 547.6a4.1 4.1 0 1 0 8.2 0a4.1 4.1 0 1 0 -8.2 0M821.3 556.5a4.1 4.1 0 1 0 8.2 0a4.1 4.1 0 1 0 -8.2 0M830.8 511.6a4.1 4.1 0 1 0 8.2 0a4.1 4.1 0 1 0 -8.2 0M827.2 521.5a4.1 4.1 0 1 0 8.2 0a4.1 4.1 0 1 0 -8.2 0M830.0 529.1a4.1 4.1 0 1 0 8.2 0a4.1 4.1 0 1 0 -8.2 0M827.2 538.3a4.1 4.1 0 1 0 8.2 0a4.1 4.1 0 1 0 -8.2 0M830.8 549.0a4.1 4.1 0 1 0 8.2 0a4.1 4.1 0 1 0 -8.2 0M836.7 512.9a4.1 4.1 0 1 0 8.2 0a4.1 4.1 0 1 0 -8.2 0M836.4 521.6a4.1 4.1 0 1 0 8.2 0a4.1 4.1 0 1 0 -8.2 0M836.4 529.7a4.1 4.1 0 1 0 8.2 0a4.1 4.1 0 1 0 -8.2 0M836.8 538.1a4.1 4.1 0 1 0 8.2 0a4.1 4.1 0 1 0 -8.2 0M845.8 511.0a4.1 4.1 0 1 0 8.2 0a4.1 4.1 0 1 0 -8.2 0M848.0 520.3a4.1 4.1 0 1 0 8.2 0a4.1 4.1 0 1 0 -8.2 0M846.1 528.3a4.1 4.1 0 1 0 8.2 0a4.1 4.1 0 1 0 -8.2 0M857.5 513.3a4.1 4.1 0 1 0 8.2 0a4.1 4.1 0 1 0 -8.2 0M854.9 519.8a4.1 4.1 0 1 0 8.2 0a4.1 4.1 0 1 0 -8.2 0M865.3 511.2a4.1 4.1 0 1 0 8.2 0a4.1 4.1 0 1 0 -8.2 0M1202.0 268.9a4.1 4.1 0 1 0 8.2 0a4.1 4.1 0 1 0 -8.2 0M1135.1 295.0a4.1 4.1 0 1 0 8.2 0a4.1 4.1 0 1 0 -8.2 0M1117.5 327.8a4.1 4.1 0 1 0 8.2 0a4.1 4.1 0 1 0 -8.2 0M1132.0 324.7a4.1 4.1 0 1 0 8.2 0a4.1 4.1 0 1 0 -8.2 0M1135.5 323.2a4.1 4.1 0 1 0 8.2 0a4.1 4.1 0 1 0 -8.2 0M1072.5 339.2a4.1 4.1 0 1 0 8.2 0a4.1 4.1 0 1 0 -8.2 0M1061.8 331.3a4.1 4.1 0 1 0 8.2 0a4.1 4.1 0 1 0 -8.2 0M1032.8 351.5a4.1 4.1 0 1 0 8.2 0a4.1 4.1 0 1 0 -8.2 0M1119.8 344.9a4.1 4.1 0 1 0 8.2 0a4.1 4.1 0 1 0 -8.2 0M1058.0 356.0a4.1 4.1 0 1 0 8.2 0a4.1 4.1 0 1 0 -8.2 0M1088.5 361.1a4.1 4.1 0 1 0 8.2 0a4.1 4.1 0 1 0 -8.2 0M1051.4 372.4a4.1 4.1 0 1 0 8.2 0a4.1 4.1 0 1 0 -8.2 0M1090.8 380.0a4.1 4.1 0 1 0 8.2 0a4.1 4.1 0 1 0 -8.2 0M1069.1 386.6a4.1 4.1 0 1 0 8.2 0a4.1 4.1 0 1 0 -8.2 0M1026.7 392.2a4.1 4.1 0 1 0 8.2 0a4.1 4.1 0 1 0 -8.2 0M1037.4 402.3a4.1 4.1 0 1 0 8.2 0a4.1 4.1 0 1 0 -8.2 0M1053.4 404.9a4.1 4.1 0 1 0 8.2 0a4.1 4.1 0 1 0 -8.2 0M1040.4 419.4a4.1 4.1 0 1 0 8.2 0a4.1 4.1 0 1 0 -8.2 0M1031.2 422.4a4.1 4.1 0 1 0 8.2 0a4.1 4.1 0 1 0 -8.2 0M1026.7 411.8a4.1 4.1 0 1 0 8.2 0a4.1 4.1 0 1 0 -8.2 0M1026.7 416.3a4.1 4.1 0 1 0 8.2 0a4.1 4.1 0 1 0 -8.2 0M1025.9 433.1a4.1 4.1 0 1 0 8.2 0a4.1 4.1 0 1 0 -8.2 0M1054.9 355.3a4.1 4.1 0 1 0 8.2 0a4.1 4.1 0 1 0 -8.2 0M1021.3 390.4a4.1 4.1 0 1 0 8.2 0a4.1 4.1 0 1 0 -8.2 0M1016.7 404.9a4.1 4.1 0 1 0 8.2 0a4.1 4.1 0 1 0 -8.2 0M1010.6 408.7a4.1 4.1 0 1 0 8.2 0a4.1 4.1 0 1 0 -8.2 0M1005.3 414.8a4.1 4.1 0 1 0 8.2 0a4.1 4.1 0 1 0 -8.2 0M999.9 409.5a4.1 4.1 0 1 0 8.2 0a4.1 4.1 0 1 0 -8.2 0M1025.1 407.9a4.1 4.1 0 1 0 8.2 0a4.1 4.1 0 1 0 -8.2 0M1023.6 414.8a4.1 4.1 0 1 0 8.2 0a4.1 4.1 0 1 0 -8.2 0M999.2 424.7a4.1 4.1 0 1 0 8.2 0a4.1 4.1 0 1 0 -8.2 0M1009.1 424.7a4.1 4.1 0 1 0 8.2 0a4.1 4.1 0 1 0 -8.2 0M990.0 427.8a4.1 4.1 0 1 0 8.2 0a4.1 4.1 0 1 0 -8.2 0M964.1 398.0a4.1 4.1 0 1 0 8.2 0a4.1 4.1 0 1 0 -8.2 0M987.0 395.0a4.1 4.1 0 1 0 8.2 0a4.1 4.1 0 1 0 -8.2 0M962.5 405.6a4.1 4.1 0 1 0 8.2 0a4.1 4.1 0 1 0 -8.2 0M937.8 431.6a4.1 4.1 0 1 0 8.2 0a4.1 4.1 0 1 0 -8.2 0M937.8 436.2a4.1 4.1 0 1 0 8.2 0a4.1 4.1 0 1 0 -8.2 0M928.2 437.7a4.1 4.1 0 1 0 8.2 0a4.1 4.1 0 1 0 -8.2 0M1012.9 435.4a4.1 4.1 0 1 0 8.2 0a4.1 4.1 0 1 0 -8.2 0M1024.4 437.7a4.1 4.1 0 1 0 8.2 0a4.1 4.1 0 1 0 -8.2 0M990.8 436.9a4.1 4.1 0 1 0 8.2 0a4.1 4.1 0 1 0 -8.2 0M954.9 429.3a4.1 4.1 0 1 0 8.2 0a4.1 4.1 0 1 0 -8.2 0M929.0 447.6a4.1 4.1 0 1 0 8.2 0a4.1 4.1 0 1 0 -8.2 0M935.1 443.1a4.1 4.1 0 1 0 8.2 0a4.1 4.1 0 1 0 -8.2 0M945.7 461.4a4.1 4.1 0 1 0 8.2 0a4.1 4.1 0 1 0 -8.2 0M950.3 470.5a4.1 4.1 0 1 0 8.2 0a4.1 4.1 0 1 0 -8.2 0M956.4 455.3a4.1 4.1 0 1 0 8.2 0a4.1 4.1 0 1 0 -8.2 0M962.5 451.5a4.1 4.1 0 1 0 8.2 0a4.1 4.1 0 1 0 -8.2 0M965.6 461.4a4.1 4.1 0 1 0 8.2 0a4.1 4.1 0 1 0 -8.2 0M971.7 473.6a4.1 4.1 0 1 0 8.2 0a4.1 4.1 0 1 0 -8.2 0M974.8 456.8a4.1 4.1 0 1 0 8.2 0a4.1 4.1 0 1 0 -8.2 0M980.9 456.8a4.1 4.1 0 1 0 8.2 0a4.1 4.1 0 1 0 -8.2 0M983.9 458.3a4.1 4.1 0 1 0 8.2 0a4.1 4.1 0 1 0 -8.2 0M990.0 443.1a4.1 4.1 0 1 0 8.2 0a4.1 4.1 0 1 0 -8.2 0M994.6 444.6a4.1 4.1 0 1 0 8.2 0a4.1 4.1 0 1 0 -8.2 0M1016.0 446.9a4.1 4.1 0 1 0 8.2 0a4.1 4.1 0 1 0 -8.2 0M1020.6 447.6a4.1 4.1 0 1 0 8.2 0a4.1 4.1 0 1 0 -8.2 0M1014.4 440.0a4.1 4.1 0 1 0 8.2 0a4.1 4.1 0 1 0 -8.2 0M930.5 487.3a4.1 4.1 0 1 0 8.2 0a4.1 4.1 0 1 0 -8.2 0M925.9 496.5a4.1 4.1 0 1 0 8.2 0a4.1 4.1 0 1 0 -8.2 0M934.3 504.1a4.1 4.1 0 1 0 8.2 0a4.1 4.1 0 1 0 -8.2 0M936.6 468.2a4.1 4.1 0 1 0 8.2 0a4.1 4.1 0 1 0 -8.2 0M932.0 479.7a4.1 4.1 0 1 0 8.2 0a4.1 4.1 0 1 0 -8.2 0M887.8 448.1a4.1 4.1 0 1 0 8.2 0a4.1 4.1 0 1 0 -8.2 0M871.1 467.2a4.1 4.1 0 1 0 8.2 0a4.1 4.1 0 1 0 -8.2 0M855.0 474.8a4.1 4.1 0 1 0 8.2 0a4.1 4.1 0 1 0 -8.2 0M849.7 493.1a4.1 4.1 0 1 0 8.2 0a4.1 4.1 0 1 0 -8.2 0M864.2 483.2a4.1 4.1 0 1 0 8.2 0a4.1 4.1 0 1 0 -8.2 0M870.3 485.5a4.1 4.1 0 1 0 8.2 0a4.1 4.1 0 1 0 -8.2 0M885.6 468.7a4.1 4.1 0 1 0 8.2 0a4.1 4.1 0 1 0 -8.2 0M888.6 471.8a4.1 4.1 0 1 0 8.2 0a4.1 4.1 0 1 0 -8.2 0M882.5 471.8a4.1 4.1 0 1 0 8.2 0a4.1 4.1 0 1 0 -8.2 0M891.7 480.9a4.1 4.1 0 1 0 8.2 0a4.1 4.1 0 1 0 -8.2 0M902.4 462.6a4.1 4.1 0 1 0 8.2 0a4.1 4.1 0 1 0 -8.2 0M911.5 456.5a4.1 4.1 0 1 0 8.2 0a4.1 4.1 0 1 0 -8.2 0M899.3 470.2a4.1 4.1 0 1 0 8.2 0a4.1 4.1 0 1 0 -8.2 0M920.7 441.2a4.1 4.1 0 1 0 8.2 0a4.1 4.1 0 1 0 -8.2 0M919.1 445.8a4.1 4.1 0 1 0 8.2 0a4.1 4.1 0 1 0 -8.2 0M925.3 447.3a4.1 4.1 0 1 0 8.2 0a4.1 4.1 0 1 0 -8.2 0M916.1 461.1a4.1 4.1 0 1 0 8.2 0a4.1 4.1 0 1 0 -8.2 0M850.7 498.5a4.1 4.1 0 1 0 8.2 0a4.1 4.1 0 1 0 -8.2 0M867.8 494.3a4.1 4.1 0 1 0 8.2 0a4.1 4.1 0 1 0 -8.2 0M872.1 491.1a4.1 4.1 0 1 0 8.2 0a4.1 4.1 0 1 0 -8.2 0M865.7 508.2a4.1 4.1 0 1 0 8.2 0a4.1 4.1 0 1 0 -8.2 0M855.0 525.3a4.1 4.1 0 1 0 8.2 0a4.1 4.1 0 1 0 -8.2 0M837.9 516.7a4.1 4.1 0 1 0 8.2 0a4.1 4.1 0 1 0 -8.2 0M812.3 517.8a4.1 4.1 0 1 0 8.2 0a4.1 4.1 0 1 0 -8.2 0M799.4 522.1a4.1 4.1 0 1 0 8.2 0a4.1 4.1 0 1 0 -8.2 0M811.2 534.9a4.1 4.1 0 1 0 8.2 0a4.1 4.1 0 1 0 -8.2 0M826.2 535.9a4.1 4.1 0 1 0 8.2 0a4.1 4.1 0 1 0 -8.2 0M829.4 541.3a4.1 4.1 0 1 0 8.2 0a4.1 4.1 0 1 0 -8.2 0M817.6 545.6a4.1 4.1 0 1 0 8.2 0a4.1 4.1 0 1 0 -8.2 0M797.3 545.6a4.1 4.1 0 1 0 8.2 0a4.1 4.1 0 1 0 -8.2 0M797.3 555.2a4.1 4.1 0 1 0 8.2 0a4.1 4.1 0 1 0 -8.2 0M874.2 545.6a4.1 4.1 0 1 0 8.2 0a4.1 4.1 0 1 0 -8.2 0M831.5 517.8a4.1 4.1 0 1 0 8.2 0a4.1 4.1 0 1 0 -8.2 0M842.2 515.6a4.1 4.1 0 1 0 8.2 0a4.1 4.1 0 1 0 -8.2 0M866.8 497.5a4.1 4.1 0 1 0 8.2 0a4.1 4.1 0 1 0 -8.2 0M797.3 570.3a4.1 4.1 0 1 0 8.2 0a4.1 4.1 0 1 0 -8.2 0M810.1 563.9a4.1 4.1 0 1 0 8.2 0a4.1 4.1 0 1 0 -8.2 0M845.4 565.0a4.1 4.1 0 1 0 8.2 0a4.1 4.1 0 1 0 -8.2 0M821.9 586.3a4.1 4.1 0 1 0 8.2 0a4.1 4.1 0 1 0 -8.2 0M895.5 482.1a4.1 4.1 0 1 0 8.2 0a4.1 4.1 0 1 0 -8.2 0M885.9 482.1a4.1 4.1 0 1 0 8.2 0a4.1 4.1 0 1 0 -8.2 0M924.3 499.2a4.1 4.1 0 1 0 8.2 0a4.1 4.1 0 1 0 -8.2 0M873.0 495.0a4.1 4.1 0 1 0 8.2 0a4.1 4.1 0 1 0 -8.2 0M904.0 505.6a4.1 4.1 0 1 0 8.2 0a4.1 4.1 0 1 0 -8.2 0M899.7 520.6a4.1 4.1 0 1 0 8.2 0a4.1 4.1 0 1 0 -8.2 0M891.5 474.9a4.1 4.1 0 1 0 8.2 0a4.1 4.1 0 1 0 -8.2 0M895.7 479.1a4.1 4.1 0 1 0 8.2 0a4.1 4.1 0 1 0 -8.2 0M1002.2 416.3a4.1 4.1 0 1 0 8.2 0a4.1 4.1 0 1 0 -8.2 0M997.7 419.4a4.1 4.1 0 1 0 8.2 0a4.1 4.1 0 1 0 -8.2 0M994.6 410.2a4.1 4.1 0 1 0 8.2 0a4.1 4.1 0 1 0 -8.2 0"/>
<path fill="#f2b134" d="M1202.1 580.2a4.1 4.1 0 1 0 8.2 0a4.1 4.1 0 1 0 -8.2 0M1061.0 405.3a4.1 4.1 0 1 0 8.2 0a4.1 4.1 0 1 0 -8.2 0M1088.5 423.7a4.1 4.1 0 1 0 8.2 0a4.1 4.1 0 1 0 -8.2 0M1032.8 436.2a4.1 4.1 0 1 0 8.2 0a4.1 4.1 0 1 0 -8.2 0M1053.4 435.4a4.1 4.1 0 1 0 8.2 0a4.1 4.1 0 1 0 -8.2 0M1050.3 437.7a4.1 4.1 0 1 0 8.2 0a4.1 4.1 0 1 0 -8.2 0M1026.7 426.3a4.1 4.1 0 1 0 8.2 0a4.1 4.1 0 1 0 -8.2 0M1119.8 444.9a4.1 4.1 0 1 0 8.2 0a4.1 4.1 0 1 0 -8.2 0M1117.5 451.5a4.1 4.1 0 1 0 8.2 0a4.1 4.1 0 1 0 -8.2 0M1135.1 463.7a4.1 4.1 0 1 0 8.2 0a4.1 4.1 0 1 0 -8.2 0M1037.4 480.5a4.1 4.1 0 1 0 8.2 0a4.1 4.1 0 1 0 -8.2 0M1058.0 496.8a4.1 4.1 0 1 0 8.2 0a4.1 4.1 0 1 0 -8.2 0M1030.8 505.6a4.1 4.1 0 1 0 8.2 0a4.1 4.1 0 1 0 -8.2 0M1026.7 505.6a4.1 4.1 0 1 0 8.2 0a4.1 4.1 0 1 0 -8.2 0M1025.9 514.8a4.1 4.1 0 1 0 8.2 0a4.1 4.1 0 1 0 -8.2 0M1027.4 523.7a4.1 4.1 0 1 0 8.2 0a4.1 4.1 0 1 0 -8.2 0M1025.9 533.1a4.1 4.1 0 1 0 8.2 0a4.1 4.1 0 1 0 -8.2 0M1090.8 552.8a4.1 4.1 0 1 0 8.2 0a4.1 4.1 0 1 0 -8.2 0M1072.9 574.2a4.1 4.1 0 1 0 8.2 0a4.1 4.1 0 1 0 -8.2 0M1069.1 586.1a4.1 4.1 0 1 0 8.2 0a4.1 4.1 0 1 0 -8.2 0M1040.4 589.2a4.1 4.1 0 1 0 8.2 0a4.1 4.1 0 1 0 -8.2 0M1132.0 586.4a4.1 4.1 0 1 0 8.2 0a4.1 4.1 0 1 0 -8.2 0M1135.1 588.7a4.1 4.1 0 1 0 8.2 0a4.1 4.1 0 1 0 -8.2 0M1025.9 561.5a4.1 4.1 0 1 0 8.2 0a4.1 4.1 0 1 0 -8.2 0M936.9 409.0a4.1 4.1 0 1 0 8.2 0a4.1 4.1 0 1 0 -8.2 0M963.3 414.8a4.1 4.1 0 1 0 8.2 0a4.1 4.1 0 1 0 -8.2 0M983.9 430.8a4.1 4.1 0 1 0 8.2 0a4.1 4.1 0 1 0 -8.2 0M970.2 437.7a4.1 4.1 0 1 0 8.2 0a4.1 4.1 0 1 0 -8.2 0M974.8 438.5a4.1 4.1 0 1 0 8.2 0a4.1 4.1 0 1 0 -8.2 0M968.6 446.1a4.1 4.1 0 1 0 8.2 0a4.1 4.1 0 1 0 -8.2 0M976.3 446.1a4.1 4.1 0 1 0 8.2 0a4.1 4.1 0 1 0 -8.2 0M971.7 441.5a4.1 4.1 0 1 0 8.2 0a4.1 4.1 0 1 0 -8.2 0M987.0 453.4a4.1 4.1 0 1 0 8.2 0a4.1 4.1 0 1 0 -8.2 0M999.2 459.1a4.1 4.1 0 1 0 8.2 0a4.1 4.1 0 1 0 -8.2 0M997.7 465.2a4.1 4.1 0 1 0 8.2 0a4.1 4.1 0 1 0 -8.2 0M962.5 462.9a4.1 4.1 0 1 0 8.2 0a4.1 4.1 0 1 0 -8.2 0M954.1 464.1a4.1 4.1 0 1 0 8.2 0a4.1 4.1 0 1 0 -8.2 0M974.0 462.1a4.1 4.1 0 1 0 8.2 0a4.1 4.1 0 1 0 -8.2 0M974.8 471.3a4.1 4.1 0 1 0 8.2 0a4.1 4.1 0 1 0 -8.2 0M976.3 476.6a4.1 4.1 0 1 0 8.2 0a4.1 4.1 0 1 0 -8.2 0M985.4 470.5a4.1 4.1 0 1 0 8.2 0a4.1 4.1 0 1 0 -8.2 0M1000.7 475.9a4.1 4.1 0 1 0 8.2 0a4.1 4.1 0 1 0 -8.2 0M1006.1 475.1a4.1 4.1 0 1 0 8.2 0a4.1 4.1 0 1 0 -8.2 0M1010.6 482.7a4.1 4.1 0 1 0 8.2 0a4.1 4.1 0 1 0 -8.2 0M938.1 473.6a4.1 4.1 0 1 0 8.2 0a4.1 4.1 0 1 0 -8.2 0M938.1 481.2a4.1 4.1 0 1 0 8.2 0a4.1 4.1 0 1 0 -8.2 0M941.2 485.8a4.1 4.1 0 1 0 8.2 0a4.1 4.1 0 1 0 -8.2 0M954.1 477.4a4.1 4.1 0 1 0 8.2 0a4.1 4.1 0 1 0 -8.2 0M962.5 478.9a4.1 4.1 0 1 0 8.2 0a4.1 4.1 0 1 0 -8.2 0M962.5 486.6a4.1 4.1 0 1 0 8.2 0a4.1 4.1 0 1 0 -8.2 0M968.6 485.8a4.1 4.1 0 1 0 8.2 0a4.1 4.1 0 1 0 -8.2 0M974.8 485.8a4.1 4.1 0 1 0 8.2 0a4.1 4.1 0 1 0 -8.2 0M972.5 494.2a4.1 4.1 0 1 0 8.2 0a4.1 4.1 0 1 0 -8.2 0M990.0 497.3a4.1 4.1 0 1 0 8.2 0a4.1 4.1 0 1 0 -8.2 0M993.8 496.8a4.1 4.1 0 1 0 8.2 0a4.1 4.1 0 1 0 -8.2 0M1012.6 498.0a4.1 4.1 0 1 0 8.2 0a4.1 4.1 0 1 0 -8.2 0M1014.4 507.2a4.1 4.1 0 1 0 8.2 0a4.1 4.1 0 1 0 -8.2 0M939.6 507.2a4.1 4.1 0 1 0 8.2 0a4.1 4.1 0 1 0 -8.2 0M948.8 505.6a4.1 4.1 0 1 0 8.2 0a4.1 4.1 0 1 0 -8.2 0M952.6 506.4a4.1 4.1 0 1 0 8.2 0a4.1 4.1 0 1 0 -8.2 0M927.4 502.6a4.1 4.1 0 1 0 8.2 0a4.1 4.1 0 1 0 -8.2 0M929.7 511.0a4.1 4.1 0 1 0 8.2 0a4.1 4.1 0 1 0 -8.2 0M932.8 522.4a4.1 4.1 0 1 0 8.2 0a4.1 4.1 0 1 0 -8.2 0M935.1 526.3a4.1 4.1 0 1 0 8.2 0a4.1 4.1 0 1 0 -8.2 0M940.4 530.1a4.1 4.1 0 1 0 8.2 0a4.1 4.1 0 1 0 -8.2 0M963.8 517.9a4.1 4.1 0 1 0 8.2 0a4.1 4.1 0 1 0 -8.2 0M958.7 529.3a4.1 4.1 0 1 0 8.2 0a4.1 4.1 0 1 0 -8.2 0M962.5 533.1a4.1 4.1 0 1 0 8.2 0a4.1 4.1 0 1 0 -8.2 0M971.7 532.4a4.1 4.1 0 1 0 8.2 0a4.1 4.1 0 1 0 -8.2 0M973.2 536.9a4.1 4.1 0 1 0 8.2 0a4.1 4.1 0 1 0 -8.2 0M979.0 527.0a4.1 4.1 0 1 0 8.2 0a4.1 4.1 0 1 0 -8.2 0M998.0 531.3a4.1 4.1 0 1 0 8.2 0a4.1 4.1 0 1 0 -8.2 0M987.7 536.9a4.1 4.1 0 1 0 8.2 0a4.1 4.1 0 1 0 -8.2 0M956.4 539.2a4.1 4.1 0 1 0 8.2 0a4.1 4.1 0 1 0 -8.2 0M1021.3 544.5a4.1 4.1 0 1 0 8.2 0a4.1 4.1 0 1 0 -8.2 0M1013.2 549.5a4.1 4.1 0 1 0 8.2 0a4.1 4.1 0 1 0 -8.2 0M1019.8 557.5a4.1 4.1 0 1 0 8.2 0a4.1 4.1 0 1 0 -8.2 0M927.4 546.0a4.1 4.1 0 1 0 8.2 0a4.1 4.1 0 1 0 -8.2 0M928.2 554.4a4.1 4.1 0 1 0 8.2 0a4.1 4.1 0 1 0 -8.2 0M926.7 559.0a4.1 4.1 0 1 0 8.2 0a4.1 4.1 0 1 0 -8.2 0M940.9 557.5a4.1 4.1 0 1 0 8.2 0a4.1 4.1 0 1 0 -8.2 0M954.1 547.6a4.1 4.1 0 1 0 8.2 0a4.1 4.1 0 1 0 -8.2 0M958.0 550.6a4.1 4.1 0 1 0 8.2 0a4.1 4.1 0 1 0 -8.2 0M957.2 543.0a4.1 4.1 0 1 0 8.2 0a4.1 4.1 0 1 0 -8.2 0M974.4 549.8a4.1 4.1 0 1 0 8.2 0a4.1 4.1 0 1 0 -8.2 0M935.1 567.4a4.1 4.1 0 1 0 8.2 0a4.1 4.1 0 1 0 -8.2 0M937.4 570.5a4.1 4.1 0 1 0 8.2 0a4.1 4.1 0 1 0 -8.2 0M930.5 572.7a4.1 4.1 0 1 0 8.2 0a4.1 4.1 0 1 0 -8.2 0M928.2 578.9a4.1 4.1 0 1 0 8.2 0a4.1 4.1 0 1 0 -8.2 0M934.3 578.9a4.1 4.1 0 1 0 8.2 0a4.1 4.1 0 1 0 -8.2 0M947.0 570.5a4.1 4.1 0 1 0 8.2 0a4.1 4.1 0 1 0 -8.2 0M970.2 568.9a4.1 4.1 0 1 0 8.2 0a4.1 4.1 0 1 0 -8.2 0M977.8 566.6a4.1 4.1 0 1 0 8.2 0a4.1 4.1 0 1 0 -8.2 0M983.6 566.6a4.1 4.1 0 1 0 8.2 0a4.1 4.1 0 1 0 -8.2 0M983.9 570.0a4.1 4.1 0 1 0 8.2 0a4.1 4.1 0 1 0 -8.2 0M1009.1 568.9a4.1 4.1 0 1 0 8.2 0a4.1 4.1 0 1 0 -8.2 0M1015.2 570.5a4.1 4.1 0 1 0 8.2 0a4.1 4.1 0 1 0 -8.2 0M1005.0 576.6a4.1 4.1 0 1 0 8.2 0a4.1 4.1 0 1 0 -8.2 0M964.8 576.6a4.1 4.1 0 1 0 8.2 0a4.1 4.1 0 1 0 -8.2 0M961.0 578.1a4.1 4.1 0 1 0 8.2 0a4.1 4.1 0 1 0 -8.2 0M973.2 578.9a4.1 4.1 0 1 0 8.2 0a4.1 4.1 0 1 0 -8.2 0M978.6 578.5a4.1 4.1 0 1 0 8.2 0a4.1 4.1 0 1 0 -8.2 0M958.7 584.2a4.1 4.1 0 1 0 8.2 0a4.1 4.1 0 1 0 -8.2 0M961.0 591.1a4.1 4.1 0 1 0 8.2 0a4.1 4.1 0 1 0 -8.2 0M935.4 593.4a4.1 4.1 0 1 0 8.2 0a4.1 4.1 0 1 0 -8.2 0M973.2 594.1a4.1 4.1 0 1 0 8.2 0a4.1 4.1 0 1 0 -8.2 0M989.3 595.6a4.1 4.1 0 1 0 8.2 0a4.1 4.1 0 1 0 -8.2 0M990.0 581.9a4.1 4.1 0 1 0 8.2 0a4.1 4.1 0 1 0 -8.2 0M995.4 580.4a4.1 4.1 0 1 0 8.2 0a4.1 4.1 0 1 0 -8.2 0M997.4 588.5a4.1 4.1 0 1 0 8.2 0a4.1 4.1 0 1 0 -8.2 0M1016.7 594.9a4.1 4.1 0 1 0 8.2 0a4.1 4.1 0 1 0 -8.2 0M889.4 413.7a4.1 4.1 0 1 0 8.2 0a4.1 4.1 0 1 0 -8.2 0M884.0 445.0a4.1 4.1 0 1 0 8.2 0a4.1 4.1 0 1 0 -8.2 0M861.1 449.2a4.1 4.1 0 1 0 8.2 0a4.1 4.1 0 1 0 -8.2 0M855.0 458.3a4.1 4.1 0 1 0 8.2 0a4.1 4.1 0 1 0 -8.2 0M872.6 459.8a4.1 4.1 0 1 0 8.2 0a4.1 4.1 0 1 0 -8.2 0M868.5 469.0a4.1 4.1 0 1 0 8.2 0a4.1 4.1 0 1 0 -8.2 0M839.0 473.3a4.1 4.1 0 1 0 8.2 0a4.1 4.1 0 1 0 -8.2 0M852.7 480.2a4.1 4.1 0 1 0 8.2 0a4.1 4.1 0 1 0 -8.2 0M848.9 480.9a4.1 4.1 0 1 0 8.2 0a4.1 4.1 0 1 0 -8.2 0M806.2 476.3a4.1 4.1 0 1 0 8.2 0a4.1 4.1 0 1 0 -8.2 0M803.1 479.4a4.1 4.1 0 1 0 8.2 0a4.1 4.1 0 1 0 -8.2 0M809.2 479.4a4.1 4.1 0 1 0 8.2 0a4.1 4.1 0 1 0 -8.2 0M806.2 487.8a4.1 4.1 0 1 0 8.2 0a4.1 4.1 0 1 0 -8.2 0M803.1 490.1a4.1 4.1 0 1 0 8.2 0a4.1 4.1 0 1 0 -8.2 0M798.5 496.2a4.1 4.1 0 1 0 8.2 0a4.1 4.1 0 1 0 -8.2 0M810.7 494.7a4.1 4.1 0 1 0 8.2 0a4.1 4.1 0 1 0 -8.2 0M817.6 491.6a4.1 4.1 0 1 0 8.2 0a4.1 4.1 0 1 0 -8.2 0M823.0 495.4a4.1 4.1 0 1 0 8.2 0a4.1 4.1 0 1 0 -8.2 0M831.4 483.2a4.1 4.1 0 1 0 8.2 0a4.1 4.1 0 1 0 -8.2 0M839.8 484.7a4.1 4.1 0 1 0 8.2 0a4.1 4.1 0 1 0 -8.2 0M844.3 486.3a4.1 4.1 0 1 0 8.2 0a4.1 4.1 0 1 0 -8.2 0M833.6 490.1a4.1 4.1 0 1 0 8.2 0a4.1 4.1 0 1 0 -8.2 0M836.7 494.7a4.1 4.1 0 1 0 8.2 0a4.1 4.1 0 1 0 -8.2 0M829.1 497.7a4.1 4.1 0 1 0 8.2 0a4.1 4.1 0 1 0 -8.2 0M862.7 491.6a4.1 4.1 0 1 0 8.2 0a4.1 4.1 0 1 0 -8.2 0M858.1 497.7a4.1 4.1 0 1 0 8.2 0a4.1 4.1 0 1 0 -8.2 0M874.9 480.9a4.1 4.1 0 1 0 8.2 0a4.1 4.1 0 1 0 -8.2 0M874.1 488.5a4.1 4.1 0 1 0 8.2 0a4.1 4.1 0 1 0 -8.2 0M884.0 485.5a4.1 4.1 0 1 0 8.2 0a4.1 4.1 0 1 0 -8.2 0M881.0 493.1a4.1 4.1 0 1 0 8.2 0a4.1 4.1 0 1 0 -8.2 0M905.4 458.8a4.1 4.1 0 1 0 8.2 0a4.1 4.1 0 1 0 -8.2 0M908.5 470.2a4.1 4.1 0 1 0 8.2 0a4.1 4.1 0 1 0 -8.2 0M913.0 468.7a4.1 4.1 0 1 0 8.2 0a4.1 4.1 0 1 0 -8.2 0M916.1 494.7a4.1 4.1 0 1 0 8.2 0a4.1 4.1 0 1 0 -8.2 0M922.2 496.2a4.1 4.1 0 1 0 8.2 0a4.1 4.1 0 1 0 -8.2 0M913.0 497.7a4.1 4.1 0 1 0 8.2 0a4.1 4.1 0 1 0 -8.2 0M806.9 492.1a4.1 4.1 0 1 0 8.2 0a4.1 4.1 0 1 0 -8.2 0M819.7 494.3a4.1 4.1 0 1 0 8.2 0a4.1 4.1 0 1 0 -8.2 0M826.2 492.1a4.1 4.1 0 1 0 8.2 0a4.1 4.1 0 1 0 -8.2 0M833.6 494.3a4.1 4.1 0 1 0 8.2 0a4.1 4.1 0 1 0 -8.2 0M840.0 498.5a4.1 4.1 0 1 0 8.2 0a4.1 4.1 0 1 0 -8.2 0M842.2 492.1a4.1 4.1 0 1 0 8.2 0a4.1 4.1 0 1 0 -8.2 0M870.0 500.7a4.1 4.1 0 1 0 8.2 0a4.1 4.1 0 1 0 -8.2 0M876.4 492.1a4.1 4.1 0 1 0 8.2 0a4.1 4.1 0 1 0 -8.2 0M801.6 505.0a4.1 4.1 0 1 0 8.2 0a4.1 4.1 0 1 0 -8.2 0M810.1 502.8a4.1 4.1 0 1 0 8.2 0a4.1 4.1 0 1 0 -8.2 0M817.6 503.9a4.1 4.1 0 1 0 8.2 0a4.1 4.1 0 1 0 -8.2 0M824.0 501.8a4.1 4.1 0 1 0 8.2 0a4.1 4.1 0 1 0 -8.2 0M831.5 503.9a4.1 4.1 0 1 0 8.2 0a4.1 4.1 0 1 0 -8.2 0M837.9 506.0a4.1 4.1 0 1 0 8.2 0a4.1 4.1 0 1 0 -8.2 0M846.5 506.0a4.1 4.1 0 1 0 8.2 0a4.1 4.1 0 1 0 -8.2 0M855.0 507.1a4.1 4.1 0 1 0 8.2 0a4.1 4.1 0 1 0 -8.2 0M861.4 511.4a4.1 4.1 0 1 0 8.2 0a4.1 4.1 0 1 0 -8.2 0M850.7 513.5a4.1 4.1 0 1 0 8.2 0a4.1 4.1 0 1 0 -8.2 0M803.7 513.5a4.1 4.1 0 1 0 8.2 0a4.1 4.1 0 1 0 -8.2 0M812.3 511.4a4.1 4.1 0 1 0 8.2 0a4.1 4.1 0 1 0 -8.2 0M819.7 512.4a4.1 4.1 0 1 0 8.2 0a4.1 4.1 0 1 0 -8.2 0M826.2 510.3a4.1 4.1 0 1 0 8.2 0a4.1 4.1 0 1 0 -8.2 0M835.8 512.4a4.1 4.1 0 1 0 8.2 0a4.1 4.1 0 1 0 -8.2 0M842.2 516.7a4.1 4.1 0 1 0 8.2 0a4.1 4.1 0 1 0 -8.2 0M848.6 519.9a4.1 4.1 0 1 0 8.2 0a4.1 4.1 0 1 0 -8.2 0M857.1 517.8a4.1 4.1 0 1 0 8.2 0a4.1 4.1 0 1 0 -8.2 0M801.6 522.1a4.1 4.1 0 1 0 8.2 0a4.1 4.1 0 1 0 -8.2 0M809.1 521.0a4.1 4.1 0 1 0 8.2 0a4.1 4.1 0 1 0 -8.2 0M816.5 521.0a4.1 4.1 0 1 0 8.2 0a4.1 4.1 0 1 0 -8.2 0M823.0 519.9a4.1 4.1 0 1 0 8.2 0a4.1 4.1 0 1 0 -8.2 0M833.6 522.1a4.1 4.1 0 1 0 8.2 0a4.1 4.1 0 1 0 -8.2 0M840.0 524.2a4.1 4.1 0 1 0 8.2 0a4.1 4.1 0 1 0 -8.2 0M847.5 525.3a4.1 4.1 0 1 0 8.2 0a4.1 4.1 0 1 0 -8.2 0M800.5 530.6a4.1 4.1 0 1 0 8.2 0a4.1 4.1 0 1 0 -8.2 0M808.0 529.5a4.1 4.1 0 1 0 8.2 0a4.1 4.1 0 1 0 -8.2 0M815.5 528.5a4.1 4.1 0 1 0 8.2 0a4.1 4.1 0 1 0 -8.2 0M821.9 526.3a4.1 4.1 0 1 0 8.2 0a4.1 4.1 0 1 0 -8.2 0M827.2 528.5a4.1 4.1 0 1 0 8.2 0a4.1 4.1 0 1 0 -8.2 0M835.8 530.6a4.1 4.1 0 1 0 8.2 0a4.1 4.1 0 1 0 -8.2 0M842.2 532.7a4.1 4.1 0 1 0 8.2 0a4.1 4.1 0 1 0 -8.2 0M837.9 539.1a4.1 4.1 0 1 0 8.2 0a4.1 4.1 0 1 0 -8.2 0M799.4 538.1a4.1 4.1 0 1 0 8.2 0a4.1 4.1 0 1 0 -8.2 0M806.9 538.1a4.1 4.1 0 1 0 8.2 0a4.1 4.1 0 1 0 -8.2 0M816.5 540.2a4.1 4.1 0 1 0 8.2 0a4.1 4.1 0 1 0 -8.2 0M823.0 538.1a4.1 4.1 0 1 0 8.2 0a4.1 4.1 0 1 0 -8.2 0M831.5 540.2a4.1 4.1 0 1 0 8.2 0a4.1 4.1 0 1 0 -8.2 0M799.4 546.6a4.1 4.1 0 1 0 8.2 0a4.1 4.1 0 1 0 -8.2 0M805.9 545.6a4.1 4.1 0 1 0 8.2 0a4.1 4.1 0 1 0 -8.2 0M812.3 547.7a4.1 4.1 0 1 0 8.2 0a4.1 4.1 0 1 0 -8.2 0M819.7 545.6a4.1 4.1 0 1 0 8.2 0a4.1 4.1 0 1 0 -8.2 0M825.1 546.6a4.1 4.1 0 1 0 8.2 0a4.1 4.1 0 1 0 -8.2 0M830.4 545.6a4.1 4.1 0 1 0 8.2 0a4.1 4.1 0 1 0 -8.2 0M800.5 554.1a4.1 4.1 0 1 0 8.2 0a4.1 4.1 0 1 0 -8.2 0M806.9 555.2a4.1 4.1 0 1 0 8.2 0a4.1 4.1 0 1 0 -8.2 0M814.4 553.0a4.1 4.1 0 1 0 8.2 0a4.1 4.1 0 1 0 -8.2 0M820.8 552.0a4.1 4.1 0 1 0 8.2 0a4.1 4.1 0 1 0 -8.2 0M850.7 558.4a4.1 4.1 0 1 0 8.2 0a4.1 4.1 0 1 0 -8.2 0M865.7 544.5a4.1 4.1 0 1 0 8.2 0a4.1 4.1 0 1 0 -8.2 0M872.1 541.3a4.1 4.1 0 1 0 8.2 0a4.1 4.1 0 1 0 -8.2 0M878.5 543.4a4.1 4.1 0 1 0 8.2 0a4.1 4.1 0 1 0 -8.2 0M874.2 549.8a4.1 4.1 0 1 0 8.2 0a4.1 4.1 0 1 0 -8.2 0M878.5 555.2a4.1 4.1 0 1 0 8.2 0a4.1 4.1 0 1 0 -8.2 0M865.7 555.2a4.1 4.1 0 1 0 8.2 0a4.1 4.1 0 1 0 -8.2 0M797.3 552.1a4.1 4.1 0 1 0 8.2 0a4.1 4.1 0 1 0 -8.2 0M797.3 562.8a4.1 4.1 0 1 0 8.2 0a4.1 4.1 0 1 0 -8.2 0M797.3 582.1a4.1 4.1 0 1 0 8.2 0a4.1 4.1 0 1 0 -8.2 0M798.4 575.6a4.1 4.1 0 1 0 8.2 0a4.1 4.1 0 1 0 -8.2 0M803.7 571.4a4.1 4.1 0 1 0 8.2 0a4.1 4.1 0 1 0 -8.2 0M805.9 562.8a4.1 4.1 0 1 0 8.2 0a4.1 4.1 0 1 0 -8.2 0M812.3 565.0a4.1 4.1 0 1 0 8.2 0a4.1 4.1 0 1 0 -8.2 0M849.7 569.2a4.1 4.1 0 1 0 8.2 0a4.1 4.1 0 1 0 -8.2 0M844.3 571.4a4.1 4.1 0 1 0 8.2 0a4.1 4.1 0 1 0 -8.2 0M841.1 575.6a4.1 4.1 0 1 0 8.2 0a4.1 4.1 0 1 0 -8.2 0M835.8 577.8a4.1 4.1 0 1 0 8.2 0a4.1 4.1 0 1 0 -8.2 0M833.6 585.3a4.1 4.1 0 1 0 8.2 0a4.1 4.1 0 1 0 -8.2 0M828.3 590.6a4.1 4.1 0 1 0 8.2 0a4.1 4.1 0 1 0 -8.2 0M834.7 593.8a4.1 4.1 0 1 0 8.2 0a4.1 4.1 0 1 0 -8.2 0M819.7 589.5a4.1 4.1 0 1 0 8.2 0a4.1 4.1 0 1 0 -8.2 0M846.5 585.3a4.1 4.1 0 1 0 8.2 0a4.1 4.1 0 1 0 -8.2 0M848.6 589.5a4.1 4.1 0 1 0 8.2 0a4.1 4.1 0 1 0 -8.2 0M855.0 591.7a4.1 4.1 0 1 0 8.2 0a4.1 4.1 0 1 0 -8.2 0M857.1 593.8a4.1 4.1 0 1 0 8.2 0a4.1 4.1 0 1 0 -8.2 0M857.1 583.1a4.1 4.1 0 1 0 8.2 0a4.1 4.1 0 1 0 -8.2 0M856.1 574.6a4.1 4.1 0 1 0 8.2 0a4.1 4.1 0 1 0 -8.2 0M864.6 576.7a4.1 4.1 0 1 0 8.2 0a4.1 4.1 0 1 0 -8.2 0M860.3 568.2a4.1 4.1 0 1 0 8.2 0a4.1 4.1 0 1 0 -8.2 0M865.7 562.8a4.1 4.1 0 1 0 8.2 0a4.1 4.1 0 1 0 -8.2 0M872.1 559.6a4.1 4.1 0 1 0 8.2 0a4.1 4.1 0 1 0 -8.2 0M876.4 561.8a4.1 4.1 0 1 0 8.2 0a4.1 4.1 0 1 0 -8.2 0M870.0 554.3a4.1 4.1 0 1 0 8.2 0a4.1 4.1 0 1 0 -8.2 0M876.4 552.1a4.1 4.1 0 1 0 8.2 0a4.1 4.1 0 1 0 -8.2 0M865.7 591.7a4.1 4.1 0 1 0 8.2 0a4.1 4.1 0 1 0 -8.2 0M872.1 590.6a4.1 4.1 0 1 0 8.2 0a4.1 4.1 0 1 0 -8.2 0M826.2 582.1a4.1 4.1 0 1 0 8.2 0a4.1 4.1 0 1 0 -8.2 0M889.1 484.3a4.1 4.1 0 1 0 8.2 0a4.1 4.1 0 1 0 -8.2 0M873.0 500.3a4.1 4.1 0 1 0 8.2 0a4.1 4.1 0 1 0 -8.2 0M954.2 481.1a4.1 4.1 0 1 0 8.2 0a4.1 4.1 0 1 0 -8.2 0M911.5 504.6a4.1 4.1 0 1 0 8.2 0a4.1 4.1 0 1 0 -8.2 0M911.5 512.1a4.1 4.1 0 1 0 8.2 0a4.1 4.1 0 1 0 -8.2 0M903.0 511.0a4.1 4.1 0 1 0 8.2 0a4.1 4.1 0 1 0 -8.2 0M897.6 516.3a4.1 4.1 0 1 0 8.2 0a4.1 4.1 0 1 0 -8.2 0M892.3 520.6a4.1 4.1 0 1 0 8.2 0a4.1 4.1 0 1 0 -8.2 0M903.0 519.5a4.1 4.1 0 1 0 8.2 0a4.1 4.1 0 1 0 -8.2 0M907.2 524.9a4.1 4.1 0 1 0 8.2 0a4.1 4.1 0 1 0 -8.2 0M915.8 522.7a4.1 4.1 0 1 0 8.2 0a4.1 4.1 0 1 0 -8.2 0M921.1 519.5a4.1 4.1 0 1 0 8.2 0a4.1 4.1 0 1 0 -8.2 0M923.3 528.1a4.1 4.1 0 1 0 8.2 0a4.1 4.1 0 1 0 -8.2 0M959.6 518.5a4.1 4.1 0 1 0 8.2 0a4.1 4.1 0 1 0 -8.2 0M888.0 527.0a4.1 4.1 0 1 0 8.2 0a4.1 4.1 0 1 0 -8.2 0M895.5 527.0a4.1 4.1 0 1 0 8.2 0a4.1 4.1 0 1 0 -8.2 0M901.9 530.2a4.1 4.1 0 1 0 8.2 0a4.1 4.1 0 1 0 -8.2 0M884.8 533.4a4.1 4.1 0 1 0 8.2 0a4.1 4.1 0 1 0 -8.2 0M892.3 533.4a4.1 4.1 0 1 0 8.2 0a4.1 4.1 0 1 0 -8.2 0M897.6 536.6a4.1 4.1 0 1 0 8.2 0a4.1 4.1 0 1 0 -8.2 0M881.6 539.8a4.1 4.1 0 1 0 8.2 0a4.1 4.1 0 1 0 -8.2 0M888.0 542.0a4.1 4.1 0 1 0 8.2 0a4.1 4.1 0 1 0 -8.2 0M885.9 547.3a4.1 4.1 0 1 0 8.2 0a4.1 4.1 0 1 0 -8.2 0M913.6 535.6a4.1 4.1 0 1 0 8.2 0a4.1 4.1 0 1 0 -8.2 0M920.0 536.6a4.1 4.1 0 1 0 8.2 0a4.1 4.1 0 1 0 -8.2 0M906.2 542.0a4.1 4.1 0 1 0 8.2 0a4.1 4.1 0 1 0 -8.2 0M914.7 545.2a4.1 4.1 0 1 0 8.2 0a4.1 4.1 0 1 0 -8.2 0M898.7 546.2a4.1 4.1 0 1 0 8.2 0a4.1 4.1 0 1 0 -8.2 0M958.5 535.6a4.1 4.1 0 1 0 8.2 0a4.1 4.1 0 1 0 -8.2 0M884.8 562.0a4.1 4.1 0 1 0 8.2 0a4.1 4.1 0 1 0 -8.2 0M886.9 551.3a4.1 4.1 0 1 0 8.2 0a4.1 4.1 0 1 0 -8.2 0M895.5 551.3a4.1 4.1 0 1 0 8.2 0a4.1 4.1 0 1 0 -8.2 0M903.0 550.3a4.1 4.1 0 1 0 8.2 0a4.1 4.1 0 1 0 -8.2 0M897.6 561.0a4.1 4.1 0 1 0 8.2 0a4.1 4.1 0 1 0 -8.2 0M904.0 566.3a4.1 4.1 0 1 0 8.2 0a4.1 4.1 0 1 0 -8.2 0M892.3 569.5a4.1 4.1 0 1 0 8.2 0a4.1 4.1 0 1 0 -8.2 0M890.1 573.8a4.1 4.1 0 1 0 8.2 0a4.1 4.1 0 1 0 -8.2 0M901.9 569.5a4.1 4.1 0 1 0 8.2 0a4.1 4.1 0 1 0 -8.2 0M913.6 566.8a4.1 4.1 0 1 0 8.2 0a4.1 4.1 0 1 0 -8.2 0M912.6 554.5a4.1 4.1 0 1 0 8.2 0a4.1 4.1 0 1 0 -8.2 0M917.9 552.4a4.1 4.1 0 1 0 8.2 0a4.1 4.1 0 1 0 -8.2 0M921.1 578.1a4.1 4.1 0 1 0 8.2 0a4.1 4.1 0 1 0 -8.2 0M892.3 582.3a4.1 4.1 0 1 0 8.2 0a4.1 4.1 0 1 0 -8.2 0M896.5 585.5a4.1 4.1 0 1 0 8.2 0a4.1 4.1 0 1 0 -8.2 0M906.2 583.4a4.1 4.1 0 1 0 8.2 0a4.1 4.1 0 1 0 -8.2 0M911.0 586.1a4.1 4.1 0 1 0 8.2 0a4.1 4.1 0 1 0 -8.2 0M919.0 588.2a4.1 4.1 0 1 0 8.2 0a4.1 4.1 0 1 0 -8.2 0M922.2 584.5a4.1 4.1 0 1 0 8.2 0a4.1 4.1 0 1 0 -8.2 0M885.9 595.1a4.1 4.1 0 1 0 8.2 0a4.1 4.1 0 1 0 -8.2 0M890.1 594.1a4.1 4.1 0 1 0 8.2 0a4.1 4.1 0 1 0 -8.2 0M902.4 596.2a4.1 4.1 0 1 0 8.2 0a4.1 4.1 0 1 0 -8.2 0"/>
<line x1="117" y1="597" x2="643" y2="71" stroke="#000" stroke-width="2.1"/>
<line x1="803" y1="597" x2="1328" y2="71" stroke="#000" stroke-width="2.1"/>
<path fill="#1a5bb5" d="M376.6 321.9a4.1 4.1 0 1 0 8.2 0a4.1 4.1 0 1 0 -8.2 0M389.0 314.2a4.1 4.1 0 1 0 8.2 0a4.1 4.1 0 1 0 -8.2 0M391.3 323.5a4.1 4.1 0 1 0 8.2 0a4.1 4.1 0 1 0 -8.2 0M396.4 283.5a4.1 4.1 0 1 0 8.2 0a4.1 4.1 0 1 0 -8.2 0M399.9 302.9a4.1 4.1 0 1 0 8.2 0a4.1 4.1 0 1 0 -8.2 0M413.3 304.1a4.1 4.1 0 1 0 8.2 0a4.1 4.1 0 1 0 -8.2 0M409.0 311.8a4.1 4.1 0 1 0 8.2 0a4.1 4.1 0 1 0 -8.2 0M433.5 265.8a4.1 4.1 0 1 0 8.2 0a4.1 4.1 0 1 0 -8.2 0M431.3 277.1a4.1 4.1 0 1 0 8.2 0a4.1 4.1 0 1 0 -8.2 0M464.3 229.3a4.1 4.1 0 1 0 8.2 0a4.1 4.1 0 1 0 -8.2 0M465.3 250.3a4.1 4.1 0 1 0 8.2 0a4.1 4.1 0 1 0 -8.2 0M346.7 339.0a4.1 4.1 0 1 0 8.2 0a4.1 4.1 0 1 0 -8.2 0M564.3 113.9a4.1 4.1 0 1 0 8.2 0a4.1 4.1 0 1 0 -8.2 0M484.9 213.4a4.1 4.1 0 1 0 8.2 0a4.1 4.1 0 1 0 -8.2 0M480.7 219.4a4.1 4.1 0 1 0 8.2 0a4.1 4.1 0 1 0 -8.2 0M484.5 231.4a4.1 4.1 0 1 0 8.2 0a4.1 4.1 0 1 0 -8.2 0M329.2 352.3a4.1 4.1 0 1 0 8.2 0a4.1 4.1 0 1 0 -8.2 0M341.6 345.1a4.1 4.1 0 1 0 8.2 0a4.1 4.1 0 1 0 -8.2 0M345.7 351.3a4.1 4.1 0 1 0 8.2 0a4.1 4.1 0 1 0 -8.2 0M355.0 345.1a4.1 4.1 0 1 0 8.2 0a4.1 4.1 0 1 0 -8.2 0M360.1 348.2a4.1 4.1 0 1 0 8.2 0a4.1 4.1 0 1 0 -8.2 0M373.5 349.2a4.1 4.1 0 1 0 8.2 0a4.1 4.1 0 1 0 -8.2 0M367.3 353.4a4.1 4.1 0 1 0 8.2 0a4.1 4.1 0 1 0 -8.2 0M358.1 357.5a4.1 4.1 0 1 0 8.2 0a4.1 4.1 0 1 0 -8.2 0M347.8 361.6a4.1 4.1 0 1 0 8.2 0a4.1 4.1 0 1 0 -8.2 0M359.1 363.7a4.1 4.1 0 1 0 8.2 0a4.1 4.1 0 1 0 -8.2 0M351.9 359.6a4.1 4.1 0 1 0 8.2 0a4.1 4.1 0 1 0 -8.2 0M292.1 370.5a4.1 4.1 0 1 0 8.2 0a4.1 4.1 0 1 0 -8.2 0M320.5 362.2a4.1 4.1 0 1 0 8.2 0a4.1 4.1 0 1 0 -8.2 0M331.7 364.1a4.1 4.1 0 1 0 8.2 0a4.1 4.1 0 1 0 -8.2 0M337.0 363.3a4.1 4.1 0 1 0 8.2 0a4.1 4.1 0 1 0 -8.2 0M319.9 371.9a4.1 4.1 0 1 0 8.2 0a4.1 4.1 0 1 0 -8.2 0M326.1 369.9a4.1 4.1 0 1 0 8.2 0a4.1 4.1 0 1 0 -8.2 0M333.3 369.9a4.1 4.1 0 1 0 8.2 0a4.1 4.1 0 1 0 -8.2 0M339.5 374.0a4.1 4.1 0 1 0 8.2 0a4.1 4.1 0 1 0 -8.2 0M344.7 374.0a4.1 4.1 0 1 0 8.2 0a4.1 4.1 0 1 0 -8.2 0M357.0 379.1a4.1 4.1 0 1 0 8.2 0a4.1 4.1 0 1 0 -8.2 0M302.4 378.7a4.1 4.1 0 1 0 8.2 0a4.1 4.1 0 1 0 -8.2 0M306.5 383.3a4.1 4.1 0 1 0 8.2 0a4.1 4.1 0 1 0 -8.2 0M312.7 387.4a4.1 4.1 0 1 0 8.2 0a4.1 4.1 0 1 0 -8.2 0M322.0 379.1a4.1 4.1 0 1 0 8.2 0a4.1 4.1 0 1 0 -8.2 0M318.9 385.3a4.1 4.1 0 1 0 8.2 0a4.1 4.1 0 1 0 -8.2 0M330.2 388.0a4.1 4.1 0 1 0 8.2 0a4.1 4.1 0 1 0 -8.2 0M325.1 384.3a4.1 4.1 0 1 0 8.2 0a4.1 4.1 0 1 0 -8.2 0M293.1 393.6a4.1 4.1 0 1 0 8.2 0a4.1 4.1 0 1 0 -8.2 0M304.0 391.5a4.1 4.1 0 1 0 8.2 0a4.1 4.1 0 1 0 -8.2 0M317.9 400.4a4.1 4.1 0 1 0 8.2 0a4.1 4.1 0 1 0 -8.2 0M306.5 431.7a4.1 4.1 0 1 0 8.2 0a4.1 4.1 0 1 0 -8.2 0M314.1 430.1a4.1 4.1 0 1 0 8.2 0a4.1 4.1 0 1 0 -8.2 0M285.9 402.9a4.1 4.1 0 1 0 8.2 0a4.1 4.1 0 1 0 -8.2 0M291.1 400.8a4.1 4.1 0 1 0 8.2 0a4.1 4.1 0 1 0 -8.2 0M296.2 398.7a4.1 4.1 0 1 0 8.2 0a4.1 4.1 0 1 0 -8.2 0M300.3 395.6a4.1 4.1 0 1 0 8.2 0a4.1 4.1 0 1 0 -8.2 0M304.5 397.7a4.1 4.1 0 1 0 8.2 0a4.1 4.1 0 1 0 -8.2 0M308.6 400.8a4.1 4.1 0 1 0 8.2 0a4.1 4.1 0 1 0 -8.2 0M312.7 407.0a4.1 4.1 0 1 0 8.2 0a4.1 4.1 0 1 0 -8.2 0M285.9 409.0a4.1 4.1 0 1 0 8.2 0a4.1 4.1 0 1 0 -8.2 0M292.1 407.0a4.1 4.1 0 1 0 8.2 0a4.1 4.1 0 1 0 -8.2 0M298.3 404.9a4.1 4.1 0 1 0 8.2 0a4.1 4.1 0 1 0 -8.2 0M304.5 404.9a4.1 4.1 0 1 0 8.2 0a4.1 4.1 0 1 0 -8.2 0M309.6 409.0a4.1 4.1 0 1 0 8.2 0a4.1 4.1 0 1 0 -8.2 0M290.0 413.2a4.1 4.1 0 1 0 8.2 0a4.1 4.1 0 1 0 -8.2 0M296.2 412.1a4.1 4.1 0 1 0 8.2 0a4.1 4.1 0 1 0 -8.2 0M302.4 411.1a4.1 4.1 0 1 0 8.2 0a4.1 4.1 0 1 0 -8.2 0M306.5 413.2a4.1 4.1 0 1 0 8.2 0a4.1 4.1 0 1 0 -8.2 0M285.9 417.3a4.1 4.1 0 1 0 8.2 0a4.1 4.1 0 1 0 -8.2 0M294.1 418.3a4.1 4.1 0 1 0 8.2 0a4.1 4.1 0 1 0 -8.2 0M300.3 417.3a4.1 4.1 0 1 0 8.2 0a4.1 4.1 0 1 0 -8.2 0M305.5 419.4a4.1 4.1 0 1 0 8.2 0a4.1 4.1 0 1 0 -8.2 0M289.0 423.5a4.1 4.1 0 1 0 8.2 0a4.1 4.1 0 1 0 -8.2 0M296.2 422.4a4.1 4.1 0 1 0 8.2 0a4.1 4.1 0 1 0 -8.2 0M301.4 420.4a4.1 4.1 0 1 0 8.2 0a4.1 4.1 0 1 0 -8.2 0M288.0 427.6a4.1 4.1 0 1 0 8.2 0a4.1 4.1 0 1 0 -8.2 0M284.6 399.6a4.1 4.1 0 1 0 8.2 0a4.1 4.1 0 1 0 -8.2 0M277.1 414.5a4.1 4.1 0 1 0 8.2 0a4.1 4.1 0 1 0 -8.2 0M249.9 421.0a4.1 4.1 0 1 0 8.2 0a4.1 4.1 0 1 0 -8.2 0M263.2 424.7a4.1 4.1 0 1 0 8.2 0a4.1 4.1 0 1 0 -8.2 0M273.9 425.8a4.1 4.1 0 1 0 8.2 0a4.1 4.1 0 1 0 -8.2 0M284.6 424.7a4.1 4.1 0 1 0 8.2 0a4.1 4.1 0 1 0 -8.2 0M235.4 445.0a4.1 4.1 0 1 0 8.2 0a4.1 4.1 0 1 0 -8.2 0M228.5 451.4a4.1 4.1 0 1 0 8.2 0a4.1 4.1 0 1 0 -8.2 0M247.2 443.4a4.1 4.1 0 1 0 8.2 0a4.1 4.1 0 1 0 -8.2 0M253.6 440.2a4.1 4.1 0 1 0 8.2 0a4.1 4.1 0 1 0 -8.2 0M260.0 435.9a4.1 4.1 0 1 0 8.2 0a4.1 4.1 0 1 0 -8.2 0M265.3 438.1a4.1 4.1 0 1 0 8.2 0a4.1 4.1 0 1 0 -8.2 0M266.4 444.5a4.1 4.1 0 1 0 8.2 0a4.1 4.1 0 1 0 -8.2 0M255.7 448.7a4.1 4.1 0 1 0 8.2 0a4.1 4.1 0 1 0 -8.2 0M262.1 450.9a4.1 4.1 0 1 0 8.2 0a4.1 4.1 0 1 0 -8.2 0M249.3 450.9a4.1 4.1 0 1 0 8.2 0a4.1 4.1 0 1 0 -8.2 0M245.0 456.2a4.1 4.1 0 1 0 8.2 0a4.1 4.1 0 1 0 -8.2 0M281.4 437.0a4.1 4.1 0 1 0 8.2 0a4.1 4.1 0 1 0 -8.2 0M281.4 441.3a4.1 4.1 0 1 0 8.2 0a4.1 4.1 0 1 0 -8.2 0M280.8 451.9a4.1 4.1 0 1 0 8.2 0a4.1 4.1 0 1 0 -8.2 0M206.6 460.0a4.1 4.1 0 1 0 8.2 0a4.1 4.1 0 1 0 -8.2 0M235.4 457.3a4.1 4.1 0 1 0 8.2 0a4.1 4.1 0 1 0 -8.2 0M240.8 456.2a4.1 4.1 0 1 0 8.2 0a4.1 4.1 0 1 0 -8.2 0M233.3 462.6a4.1 4.1 0 1 0 8.2 0a4.1 4.1 0 1 0 -8.2 0M239.7 463.7a4.1 4.1 0 1 0 8.2 0a4.1 4.1 0 1 0 -8.2 0M246.1 462.6a4.1 4.1 0 1 0 8.2 0a4.1 4.1 0 1 0 -8.2 0M260.0 459.4a4.1 4.1 0 1 0 8.2 0a4.1 4.1 0 1 0 -8.2 0M261.1 463.7a4.1 4.1 0 1 0 8.2 0a4.1 4.1 0 1 0 -8.2 0M206.6 469.0a4.1 4.1 0 1 0 8.2 0a4.1 4.1 0 1 0 -8.2 0M211.9 468.0a4.1 4.1 0 1 0 8.2 0a4.1 4.1 0 1 0 -8.2 0M225.8 465.8a4.1 4.1 0 1 0 8.2 0a4.1 4.1 0 1 0 -8.2 0M224.7 472.2a4.1 4.1 0 1 0 8.2 0a4.1 4.1 0 1 0 -8.2 0M231.2 471.2a4.1 4.1 0 1 0 8.2 0a4.1 4.1 0 1 0 -8.2 0M240.8 470.1a4.1 4.1 0 1 0 8.2 0a4.1 4.1 0 1 0 -8.2 0M246.1 471.2a4.1 4.1 0 1 0 8.2 0a4.1 4.1 0 1 0 -8.2 0M254.7 473.3a4.1 4.1 0 1 0 8.2 0a4.1 4.1 0 1 0 -8.2 0M206.6 474.4a4.1 4.1 0 1 0 8.2 0a4.1 4.1 0 1 0 -8.2 0M213.0 473.3a4.1 4.1 0 1 0 8.2 0a4.1 4.1 0 1 0 -8.2 0M190.3 488.3a4.1 4.1 0 1 0 8.2 0a4.1 4.1 0 1 0 -8.2 0M179.6 495.8a4.1 4.1 0 1 0 8.2 0a4.1 4.1 0 1 0 -8.2 0M193.5 496.3a4.1 4.1 0 1 0 8.2 0a4.1 4.1 0 1 0 -8.2 0M157.2 513.4a4.1 4.1 0 1 0 8.2 0a4.1 4.1 0 1 0 -8.2 0M158.3 520.3a4.1 4.1 0 1 0 8.2 0a4.1 4.1 0 1 0 -8.2 0M156.1 528.4a4.1 4.1 0 1 0 8.2 0a4.1 4.1 0 1 0 -8.2 0M121.9 536.4a4.1 4.1 0 1 0 8.2 0a4.1 4.1 0 1 0 -8.2 0M180.7 504.8a4.1 4.1 0 1 0 8.2 0a4.1 4.1 0 1 0 -8.2 0M187.1 503.8a4.1 4.1 0 1 0 8.2 0a4.1 4.1 0 1 0 -8.2 0M193.5 503.8a4.1 4.1 0 1 0 8.2 0a4.1 4.1 0 1 0 -8.2 0M167.9 516.6a4.1 4.1 0 1 0 8.2 0a4.1 4.1 0 1 0 -8.2 0M174.3 516.6a4.1 4.1 0 1 0 8.2 0a4.1 4.1 0 1 0 -8.2 0M180.7 511.3a4.1 4.1 0 1 0 8.2 0a4.1 4.1 0 1 0 -8.2 0M187.1 511.3a4.1 4.1 0 1 0 8.2 0a4.1 4.1 0 1 0 -8.2 0M193.5 511.3a4.1 4.1 0 1 0 8.2 0a4.1 4.1 0 1 0 -8.2 0M167.9 523.0a4.1 4.1 0 1 0 8.2 0a4.1 4.1 0 1 0 -8.2 0M174.3 523.0a4.1 4.1 0 1 0 8.2 0a4.1 4.1 0 1 0 -8.2 0M180.7 518.7a4.1 4.1 0 1 0 8.2 0a4.1 4.1 0 1 0 -8.2 0M187.1 518.7a4.1 4.1 0 1 0 8.2 0a4.1 4.1 0 1 0 -8.2 0M193.5 518.7a4.1 4.1 0 1 0 8.2 0a4.1 4.1 0 1 0 -8.2 0M165.7 529.4a4.1 4.1 0 1 0 8.2 0a4.1 4.1 0 1 0 -8.2 0M172.1 529.4a4.1 4.1 0 1 0 8.2 0a4.1 4.1 0 1 0 -8.2 0M178.5 526.2a4.1 4.1 0 1 0 8.2 0a4.1 4.1 0 1 0 -8.2 0M185.0 526.2a4.1 4.1 0 1 0 8.2 0a4.1 4.1 0 1 0 -8.2 0M191.4 526.2a4.1 4.1 0 1 0 8.2 0a4.1 4.1 0 1 0 -8.2 0M161.5 535.8a4.1 4.1 0 1 0 8.2 0a4.1 4.1 0 1 0 -8.2 0M168.9 535.8a4.1 4.1 0 1 0 8.2 0a4.1 4.1 0 1 0 -8.2 0M176.4 534.8a4.1 4.1 0 1 0 8.2 0a4.1 4.1 0 1 0 -8.2 0M182.8 533.7a4.1 4.1 0 1 0 8.2 0a4.1 4.1 0 1 0 -8.2 0M191.4 533.7a4.1 4.1 0 1 0 8.2 0a4.1 4.1 0 1 0 -8.2 0M136.9 540.1a4.1 4.1 0 1 0 8.2 0a4.1 4.1 0 1 0 -8.2 0M142.2 539.0a4.1 4.1 0 1 0 8.2 0a4.1 4.1 0 1 0 -8.2 0M149.7 540.1a4.1 4.1 0 1 0 8.2 0a4.1 4.1 0 1 0 -8.2 0M155.0 540.1a4.1 4.1 0 1 0 8.2 0a4.1 4.1 0 1 0 -8.2 0M161.5 542.2a4.1 4.1 0 1 0 8.2 0a4.1 4.1 0 1 0 -8.2 0M167.9 542.2a4.1 4.1 0 1 0 8.2 0a4.1 4.1 0 1 0 -8.2 0M175.3 542.2a4.1 4.1 0 1 0 8.2 0a4.1 4.1 0 1 0 -8.2 0M182.8 541.2a4.1 4.1 0 1 0 8.2 0a4.1 4.1 0 1 0 -8.2 0M191.4 542.2a4.1 4.1 0 1 0 8.2 0a4.1 4.1 0 1 0 -8.2 0M138.0 544.4a4.1 4.1 0 1 0 8.2 0a4.1 4.1 0 1 0 -8.2 0M200.2 480.3a4.1 4.1 0 1 0 8.2 0a4.1 4.1 0 1 0 -8.2 0M213.0 480.3a4.1 4.1 0 1 0 8.2 0a4.1 4.1 0 1 0 -8.2 0M219.4 479.2a4.1 4.1 0 1 0 8.2 0a4.1 4.1 0 1 0 -8.2 0M225.8 478.1a4.1 4.1 0 1 0 8.2 0a4.1 4.1 0 1 0 -8.2 0M232.2 479.2a4.1 4.1 0 1 0 8.2 0a4.1 4.1 0 1 0 -8.2 0M238.6 482.4a4.1 4.1 0 1 0 8.2 0a4.1 4.1 0 1 0 -8.2 0M242.9 477.1a4.1 4.1 0 1 0 8.2 0a4.1 4.1 0 1 0 -8.2 0M249.3 481.3a4.1 4.1 0 1 0 8.2 0a4.1 4.1 0 1 0 -8.2 0M251.5 485.6a4.1 4.1 0 1 0 8.2 0a4.1 4.1 0 1 0 -8.2 0M255.7 477.1a4.1 4.1 0 1 0 8.2 0a4.1 4.1 0 1 0 -8.2 0M265.3 481.3a4.1 4.1 0 1 0 8.2 0a4.1 4.1 0 1 0 -8.2 0M202.3 486.7a4.1 4.1 0 1 0 8.2 0a4.1 4.1 0 1 0 -8.2 0M208.7 486.7a4.1 4.1 0 1 0 8.2 0a4.1 4.1 0 1 0 -8.2 0M215.1 486.7a4.1 4.1 0 1 0 8.2 0a4.1 4.1 0 1 0 -8.2 0M221.5 485.6a4.1 4.1 0 1 0 8.2 0a4.1 4.1 0 1 0 -8.2 0M228.0 485.6a4.1 4.1 0 1 0 8.2 0a4.1 4.1 0 1 0 -8.2 0M234.4 486.7a4.1 4.1 0 1 0 8.2 0a4.1 4.1 0 1 0 -8.2 0M241.8 491.0a4.1 4.1 0 1 0 8.2 0a4.1 4.1 0 1 0 -8.2 0M246.1 489.9a4.1 4.1 0 1 0 8.2 0a4.1 4.1 0 1 0 -8.2 0M241.8 496.3a4.1 4.1 0 1 0 8.2 0a4.1 4.1 0 1 0 -8.2 0M202.3 493.1a4.1 4.1 0 1 0 8.2 0a4.1 4.1 0 1 0 -8.2 0M208.7 493.1a4.1 4.1 0 1 0 8.2 0a4.1 4.1 0 1 0 -8.2 0M215.1 493.1a4.1 4.1 0 1 0 8.2 0a4.1 4.1 0 1 0 -8.2 0M221.5 493.1a4.1 4.1 0 1 0 8.2 0a4.1 4.1 0 1 0 -8.2 0M228.0 492.0a4.1 4.1 0 1 0 8.2 0a4.1 4.1 0 1 0 -8.2 0M232.2 497.4a4.1 4.1 0 1 0 8.2 0a4.1 4.1 0 1 0 -8.2 0M234.4 503.8a4.1 4.1 0 1 0 8.2 0a4.1 4.1 0 1 0 -8.2 0M198.0 500.6a4.1 4.1 0 1 0 8.2 0a4.1 4.1 0 1 0 -8.2 0M204.4 499.5a4.1 4.1 0 1 0 8.2 0a4.1 4.1 0 1 0 -8.2 0M210.9 499.5a4.1 4.1 0 1 0 8.2 0a4.1 4.1 0 1 0 -8.2 0M217.3 499.5a4.1 4.1 0 1 0 8.2 0a4.1 4.1 0 1 0 -8.2 0M223.7 498.4a4.1 4.1 0 1 0 8.2 0a4.1 4.1 0 1 0 -8.2 0M230.1 500.6a4.1 4.1 0 1 0 8.2 0a4.1 4.1 0 1 0 -8.2 0M195.9 507.0a4.1 4.1 0 1 0 8.2 0a4.1 4.1 0 1 0 -8.2 0M202.3 505.9a4.1 4.1 0 1 0 8.2 0a4.1 4.1 0 1 0 -8.2 0M208.7 505.9a4.1 4.1 0 1 0 8.2 0a4.1 4.1 0 1 0 -8.2 0M215.1 504.8a4.1 4.1 0 1 0 8.2 0a4.1 4.1 0 1 0 -8.2 0M221.5 507.0a4.1 4.1 0 1 0 8.2 0a4.1 4.1 0 1 0 -8.2 0M228.0 505.9a4.1 4.1 0 1 0 8.2 0a4.1 4.1 0 1 0 -8.2 0M229.0 511.3a4.1 4.1 0 1 0 8.2 0a4.1 4.1 0 1 0 -8.2 0M198.0 512.3a4.1 4.1 0 1 0 8.2 0a4.1 4.1 0 1 0 -8.2 0M204.4 512.3a4.1 4.1 0 1 0 8.2 0a4.1 4.1 0 1 0 -8.2 0M210.9 512.3a4.1 4.1 0 1 0 8.2 0a4.1 4.1 0 1 0 -8.2 0M217.3 511.3a4.1 4.1 0 1 0 8.2 0a4.1 4.1 0 1 0 -8.2 0M223.7 513.4a4.1 4.1 0 1 0 8.2 0a4.1 4.1 0 1 0 -8.2 0M229.0 516.6a4.1 4.1 0 1 0 8.2 0a4.1 4.1 0 1 0 -8.2 0M202.3 517.7a4.1 4.1 0 1 0 8.2 0a4.1 4.1 0 1 0 -8.2 0M209.8 516.6a4.1 4.1 0 1 0 8.2 0a4.1 4.1 0 1 0 -8.2 0M216.2 520.9a4.1 4.1 0 1 0 8.2 0a4.1 4.1 0 1 0 -8.2 0M207.7 524.1a4.1 4.1 0 1 0 8.2 0a4.1 4.1 0 1 0 -8.2 0M208.7 529.4a4.1 4.1 0 1 0 8.2 0a4.1 4.1 0 1 0 -8.2 0M204.4 530.5a4.1 4.1 0 1 0 8.2 0a4.1 4.1 0 1 0 -8.2 0M195.9 527.3a4.1 4.1 0 1 0 8.2 0a4.1 4.1 0 1 0 -8.2 0M201.2 538.0a4.1 4.1 0 1 0 8.2 0a4.1 4.1 0 1 0 -8.2 0M197.0 531.6a4.1 4.1 0 1 0 8.2 0a4.1 4.1 0 1 0 -8.2 0M131.5 549.2a4.1 4.1 0 1 0 8.2 0a4.1 4.1 0 1 0 -8.2 0M138.0 548.1a4.1 4.1 0 1 0 8.2 0a4.1 4.1 0 1 0 -8.2 0M148.6 548.1a4.1 4.1 0 1 0 8.2 0a4.1 4.1 0 1 0 -8.2 0M155.0 548.1a4.1 4.1 0 1 0 8.2 0a4.1 4.1 0 1 0 -8.2 0M161.5 549.2a4.1 4.1 0 1 0 8.2 0a4.1 4.1 0 1 0 -8.2 0M167.9 550.3a4.1 4.1 0 1 0 8.2 0a4.1 4.1 0 1 0 -8.2 0M175.3 550.3a4.1 4.1 0 1 0 8.2 0a4.1 4.1 0 1 0 -8.2 0M182.8 549.2a4.1 4.1 0 1 0 8.2 0a4.1 4.1 0 1 0 -8.2 0M193.5 548.1a4.1 4.1 0 1 0 8.2 0a4.1 4.1 0 1 0 -8.2 0M123.0 559.9a4.1 4.1 0 1 0 8.2 0a4.1 4.1 0 1 0 -8.2 0M117.7 566.3a4.1 4.1 0 1 0 8.2 0a4.1 4.1 0 1 0 -8.2 0M135.8 554.5a4.1 4.1 0 1 0 8.2 0a4.1 4.1 0 1 0 -8.2 0M143.3 554.5a4.1 4.1 0 1 0 8.2 0a4.1 4.1 0 1 0 -8.2 0M150.8 554.5a4.1 4.1 0 1 0 8.2 0a4.1 4.1 0 1 0 -8.2 0M157.2 555.6a4.1 4.1 0 1 0 8.2 0a4.1 4.1 0 1 0 -8.2 0M165.7 555.6a4.1 4.1 0 1 0 8.2 0a4.1 4.1 0 1 0 -8.2 0M173.2 556.7a4.1 4.1 0 1 0 8.2 0a4.1 4.1 0 1 0 -8.2 0M134.7 562.0a4.1 4.1 0 1 0 8.2 0a4.1 4.1 0 1 0 -8.2 0M141.2 562.0a4.1 4.1 0 1 0 8.2 0a4.1 4.1 0 1 0 -8.2 0M148.6 562.0a4.1 4.1 0 1 0 8.2 0a4.1 4.1 0 1 0 -8.2 0M155.0 562.0a4.1 4.1 0 1 0 8.2 0a4.1 4.1 0 1 0 -8.2 0M161.5 559.9a4.1 4.1 0 1 0 8.2 0a4.1 4.1 0 1 0 -8.2 0M168.9 564.2a4.1 4.1 0 1 0 8.2 0a4.1 4.1 0 1 0 -8.2 0M115.5 575.9a4.1 4.1 0 1 0 8.2 0a4.1 4.1 0 1 0 -8.2 0M121.9 573.8a4.1 4.1 0 1 0 8.2 0a4.1 4.1 0 1 0 -8.2 0M129.4 569.5a4.1 4.1 0 1 0 8.2 0a4.1 4.1 0 1 0 -8.2 0M136.9 568.4a4.1 4.1 0 1 0 8.2 0a4.1 4.1 0 1 0 -8.2 0M143.3 569.5a4.1 4.1 0 1 0 8.2 0a4.1 4.1 0 1 0 -8.2 0M150.8 568.4a4.1 4.1 0 1 0 8.2 0a4.1 4.1 0 1 0 -8.2 0M158.3 568.4a4.1 4.1 0 1 0 8.2 0a4.1 4.1 0 1 0 -8.2 0M165.7 569.5a4.1 4.1 0 1 0 8.2 0a4.1 4.1 0 1 0 -8.2 0M113.4 582.3a4.1 4.1 0 1 0 8.2 0a4.1 4.1 0 1 0 -8.2 0M120.9 580.2a4.1 4.1 0 1 0 8.2 0a4.1 4.1 0 1 0 -8.2 0M127.3 578.1a4.1 4.1 0 1 0 8.2 0a4.1 4.1 0 1 0 -8.2 0M133.7 577.0a4.1 4.1 0 1 0 8.2 0a4.1 4.1 0 1 0 -8.2 0M140.1 575.9a4.1 4.1 0 1 0 8.2 0a4.1 4.1 0 1 0 -8.2 0M147.6 577.0a4.1 4.1 0 1 0 8.2 0a4.1 4.1 0 1 0 -8.2 0M155.0 577.0a4.1 4.1 0 1 0 8.2 0a4.1 4.1 0 1 0 -8.2 0M114.4 588.7a4.1 4.1 0 1 0 8.2 0a4.1 4.1 0 1 0 -8.2 0M121.9 586.6a4.1 4.1 0 1 0 8.2 0a4.1 4.1 0 1 0 -8.2 0M128.3 585.5a4.1 4.1 0 1 0 8.2 0a4.1 4.1 0 1 0 -8.2 0M135.8 584.5a4.1 4.1 0 1 0 8.2 0a4.1 4.1 0 1 0 -8.2 0M142.2 583.4a4.1 4.1 0 1 0 8.2 0a4.1 4.1 0 1 0 -8.2 0M148.6 582.3a4.1 4.1 0 1 0 8.2 0a4.1 4.1 0 1 0 -8.2 0M154.0 580.2a4.1 4.1 0 1 0 8.2 0a4.1 4.1 0 1 0 -8.2 0M160.4 583.4a4.1 4.1 0 1 0 8.2 0a4.1 4.1 0 1 0 -8.2 0M113.4 595.1a4.1 4.1 0 1 0 8.2 0a4.1 4.1 0 1 0 -8.2 0M119.8 594.1a4.1 4.1 0 1 0 8.2 0a4.1 4.1 0 1 0 -8.2 0M127.3 596.2a4.1 4.1 0 1 0 8.2 0a4.1 4.1 0 1 0 -8.2 0M133.7 591.9a4.1 4.1 0 1 0 8.2 0a4.1 4.1 0 1 0 -8.2 0M139.0 595.1a4.1 4.1 0 1 0 8.2 0a4.1 4.1 0 1 0 -8.2 0M146.5 589.8a4.1 4.1 0 1 0 8.2 0a4.1 4.1 0 1 0 -8.2 0M152.9 595.1a4.1 4.1 0 1 0 8.2 0a4.1 4.1 0 1 0 -8.2 0M150.8 588.7a4.1 4.1 0 1 0 8.2 0a4.1 4.1 0 1 0 -8.2 0M197.0 550.3a4.1 4.1 0 1 0 8.2 0a4.1 4.1 0 1 0 -8.2 0M258.3 455.1a4.1 4.1 0 1 0 8.2 0a4.1 4.1 0 1 0 -8.2 0M247.7 459.7a4.1 4.1 0 1 0 8.2 0a4.1 4.1 0 1 0 -8.2 0M255.3 444.4a4.1 4.1 0 1 0 8.2 0a4.1 4.1 0 1 0 -8.2 0M193.5 500.0a4.1 4.1 0 1 0 8.2 0a4.1 4.1 0 1 0 -8.2 0M157.7 516.9a4.1 4.1 0 1 0 8.2 0a4.1 4.1 0 1 0 -8.2 0M187.1 507.5a4.1 4.1 0 1 0 8.2 0a4.1 4.1 0 1 0 -8.2 0M180.7 515.0a4.1 4.1 0 1 0 8.2 0a4.1 4.1 0 1 0 -8.2 0M187.1 515.0a4.1 4.1 0 1 0 8.2 0a4.1 4.1 0 1 0 -8.2 0M193.5 515.0a4.1 4.1 0 1 0 8.2 0a4.1 4.1 0 1 0 -8.2 0M170.0 526.2a4.1 4.1 0 1 0 8.2 0a4.1 4.1 0 1 0 -8.2 0M177.5 520.9a4.1 4.1 0 1 0 8.2 0a4.1 4.1 0 1 0 -8.2 0M186.0 522.5a4.1 4.1 0 1 0 8.2 0a4.1 4.1 0 1 0 -8.2 0M192.4 522.5a4.1 4.1 0 1 0 8.2 0a4.1 4.1 0 1 0 -8.2 0M163.6 532.6a4.1 4.1 0 1 0 8.2 0a4.1 4.1 0 1 0 -8.2 0M167.3 532.6a4.1 4.1 0 1 0 8.2 0a4.1 4.1 0 1 0 -8.2 0M175.3 527.8a4.1 4.1 0 1 0 8.2 0a4.1 4.1 0 1 0 -8.2 0M183.9 530.0a4.1 4.1 0 1 0 8.2 0a4.1 4.1 0 1 0 -8.2 0M191.4 530.0a4.1 4.1 0 1 0 8.2 0a4.1 4.1 0 1 0 -8.2 0M165.2 535.8a4.1 4.1 0 1 0 8.2 0a4.1 4.1 0 1 0 -8.2 0M158.3 538.0a4.1 4.1 0 1 0 8.2 0a4.1 4.1 0 1 0 -8.2 0M172.7 535.3a4.1 4.1 0 1 0 8.2 0a4.1 4.1 0 1 0 -8.2 0M175.9 538.5a4.1 4.1 0 1 0 8.2 0a4.1 4.1 0 1 0 -8.2 0M182.8 537.4a4.1 4.1 0 1 0 8.2 0a4.1 4.1 0 1 0 -8.2 0M146.0 539.6a4.1 4.1 0 1 0 8.2 0a4.1 4.1 0 1 0 -8.2 0M171.6 542.2a4.1 4.1 0 1 0 8.2 0a4.1 4.1 0 1 0 -8.2 0M179.1 541.7a4.1 4.1 0 1 0 8.2 0a4.1 4.1 0 1 0 -8.2 0M221.5 489.4a4.1 4.1 0 1 0 8.2 0a4.1 4.1 0 1 0 -8.2 0M206.6 496.3a4.1 4.1 0 1 0 8.2 0a4.1 4.1 0 1 0 -8.2 0M213.0 496.3a4.1 4.1 0 1 0 8.2 0a4.1 4.1 0 1 0 -8.2 0M219.4 496.3a4.1 4.1 0 1 0 8.2 0a4.1 4.1 0 1 0 -8.2 0M225.8 495.2a4.1 4.1 0 1 0 8.2 0a4.1 4.1 0 1 0 -8.2 0M206.6 502.7a4.1 4.1 0 1 0 8.2 0a4.1 4.1 0 1 0 -8.2 0M200.2 509.1a4.1 4.1 0 1 0 8.2 0a4.1 4.1 0 1 0 -8.2 0M206.6 509.1a4.1 4.1 0 1 0 8.2 0a4.1 4.1 0 1 0 -8.2 0M206.0 517.1a4.1 4.1 0 1 0 8.2 0a4.1 4.1 0 1 0 -8.2 0M213.0 518.7a4.1 4.1 0 1 0 8.2 0a4.1 4.1 0 1 0 -8.2 0M208.7 520.3a4.1 4.1 0 1 0 8.2 0a4.1 4.1 0 1 0 -8.2 0M200.7 531.0a4.1 4.1 0 1 0 8.2 0a4.1 4.1 0 1 0 -8.2 0M199.1 534.8a4.1 4.1 0 1 0 8.2 0a4.1 4.1 0 1 0 -8.2 0M152.9 551.3a4.1 4.1 0 1 0 8.2 0a4.1 4.1 0 1 0 -8.2 0M159.3 552.4a4.1 4.1 0 1 0 8.2 0a4.1 4.1 0 1 0 -8.2 0M163.6 552.4a4.1 4.1 0 1 0 8.2 0a4.1 4.1 0 1 0 -8.2 0M171.6 550.3a4.1 4.1 0 1 0 8.2 0a4.1 4.1 0 1 0 -8.2 0M179.1 549.7a4.1 4.1 0 1 0 8.2 0a4.1 4.1 0 1 0 -8.2 0M139.6 554.5a4.1 4.1 0 1 0 8.2 0a4.1 4.1 0 1 0 -8.2 0M135.3 558.3a4.1 4.1 0 1 0 8.2 0a4.1 4.1 0 1 0 -8.2 0M147.0 554.5a4.1 4.1 0 1 0 8.2 0a4.1 4.1 0 1 0 -8.2 0M142.2 558.3a4.1 4.1 0 1 0 8.2 0a4.1 4.1 0 1 0 -8.2 0M149.7 558.3a4.1 4.1 0 1 0 8.2 0a4.1 4.1 0 1 0 -8.2 0M169.5 556.1a4.1 4.1 0 1 0 8.2 0a4.1 4.1 0 1 0 -8.2 0M144.9 562.0a4.1 4.1 0 1 0 8.2 0a4.1 4.1 0 1 0 -8.2 0M139.0 565.2a4.1 4.1 0 1 0 8.2 0a4.1 4.1 0 1 0 -8.2 0M152.9 565.2a4.1 4.1 0 1 0 8.2 0a4.1 4.1 0 1 0 -8.2 0M156.6 565.2a4.1 4.1 0 1 0 8.2 0a4.1 4.1 0 1 0 -8.2 0M133.1 569.0a4.1 4.1 0 1 0 8.2 0a4.1 4.1 0 1 0 -8.2 0M147.0 569.0a4.1 4.1 0 1 0 8.2 0a4.1 4.1 0 1 0 -8.2 0M141.7 572.7a4.1 4.1 0 1 0 8.2 0a4.1 4.1 0 1 0 -8.2 0M154.5 568.4a4.1 4.1 0 1 0 8.2 0a4.1 4.1 0 1 0 -8.2 0M162.0 569.0a4.1 4.1 0 1 0 8.2 0a4.1 4.1 0 1 0 -8.2 0M117.1 581.3a4.1 4.1 0 1 0 8.2 0a4.1 4.1 0 1 0 -8.2 0M127.8 581.8a4.1 4.1 0 1 0 8.2 0a4.1 4.1 0 1 0 -8.2 0M134.7 580.7a4.1 4.1 0 1 0 8.2 0a4.1 4.1 0 1 0 -8.2 0M143.8 576.4a4.1 4.1 0 1 0 8.2 0a4.1 4.1 0 1 0 -8.2 0M141.2 579.7a4.1 4.1 0 1 0 8.2 0a4.1 4.1 0 1 0 -8.2 0M151.3 577.0a4.1 4.1 0 1 0 8.2 0a4.1 4.1 0 1 0 -8.2 0M118.2 587.7a4.1 4.1 0 1 0 8.2 0a4.1 4.1 0 1 0 -8.2 0M117.1 591.4a4.1 4.1 0 1 0 8.2 0a4.1 4.1 0 1 0 -8.2 0M120.9 590.3a4.1 4.1 0 1 0 8.2 0a4.1 4.1 0 1 0 -8.2 0M132.1 585.0a4.1 4.1 0 1 0 8.2 0a4.1 4.1 0 1 0 -8.2 0M134.7 588.2a4.1 4.1 0 1 0 8.2 0a4.1 4.1 0 1 0 -8.2 0M144.4 586.6a4.1 4.1 0 1 0 8.2 0a4.1 4.1 0 1 0 -8.2 0M157.2 581.8a4.1 4.1 0 1 0 8.2 0a4.1 4.1 0 1 0 -8.2 0M123.5 595.1a4.1 4.1 0 1 0 8.2 0a4.1 4.1 0 1 0 -8.2 0M130.5 594.1a4.1 4.1 0 1 0 8.2 0a4.1 4.1 0 1 0 -8.2 0"/>
<path fill="#1a5bb5" d="M1202.0 185.8a4.1 4.1 0 1 0 8.2 0a4.1 4.1 0 1 0 -8.2 0M1132.0 260.6a4.1 4.1 0 1 0 8.2 0a4.1 4.1 0 1 0 -8.2 0M1135.5 265.2a4.1 4.1 0 1 0 8.2 0a4.1 4.1 0 1 0 -8.2 0M1134.8 270.8a4.1 4.1 0 1 0 8.2 0a4.1 4.1 0 1 0 -8.2 0M1117.5 271.8a4.1 4.1 0 1 0 8.2 0a4.1 4.1 0 1 0 -8.2 0M1120.1 276.6a4.1 4.1 0 1 0 8.2 0a4.1 4.1 0 1 0 -8.2 0M1088.5 303.4a4.1 4.1 0 1 0 8.2 0a4.1 4.1 0 1 0 -8.2 0M1090.8 309.5a4.1 4.1 0 1 0 8.2 0a4.1 4.1 0 1 0 -8.2 0M1072.9 316.3a4.1 4.1 0 1 0 8.2 0a4.1 4.1 0 1 0 -8.2 0M1069.1 322.7a4.1 4.1 0 1 0 8.2 0a4.1 4.1 0 1 0 -8.2 0M1060.7 325.5a4.1 4.1 0 1 0 8.2 0a4.1 4.1 0 1 0 -8.2 0M1057.7 328.9a4.1 4.1 0 1 0 8.2 0a4.1 4.1 0 1 0 -8.2 0M1051.1 345.3a4.1 4.1 0 1 0 8.2 0a4.1 4.1 0 1 0 -8.2 0M1054.1 347.6a4.1 4.1 0 1 0 8.2 0a4.1 4.1 0 1 0 -8.2 0M1040.4 352.2a4.1 4.1 0 1 0 8.2 0a4.1 4.1 0 1 0 -8.2 0M1032.8 358.3a4.1 4.1 0 1 0 8.2 0a4.1 4.1 0 1 0 -8.2 0M1037.4 359.1a4.1 4.1 0 1 0 8.2 0a4.1 4.1 0 1 0 -8.2 0M1027.4 365.2a4.1 4.1 0 1 0 8.2 0a4.1 4.1 0 1 0 -8.2 0M1031.2 368.2a4.1 4.1 0 1 0 8.2 0a4.1 4.1 0 1 0 -8.2 0M1025.9 378.9a4.1 4.1 0 1 0 8.2 0a4.1 4.1 0 1 0 -8.2 0M1025.9 385.0a4.1 4.1 0 1 0 8.2 0a4.1 4.1 0 1 0 -8.2 0M1012.9 370.5a4.1 4.1 0 1 0 8.2 0a4.1 4.1 0 1 0 -8.2 0M1019.0 375.1a4.1 4.1 0 1 0 8.2 0a4.1 4.1 0 1 0 -8.2 0M1009.1 381.2a4.1 4.1 0 1 0 8.2 0a4.1 4.1 0 1 0 -8.2 0M1014.4 382.7a4.1 4.1 0 1 0 8.2 0a4.1 4.1 0 1 0 -8.2 0M999.2 383.5a4.1 4.1 0 1 0 8.2 0a4.1 4.1 0 1 0 -8.2 0M1005.3 391.9a4.1 4.1 0 1 0 8.2 0a4.1 4.1 0 1 0 -8.2 0M1009.9 388.9a4.1 4.1 0 1 0 8.2 0a4.1 4.1 0 1 0 -8.2 0M997.7 395.0a4.1 4.1 0 1 0 8.2 0a4.1 4.1 0 1 0 -8.2 0M999.2 399.5a4.1 4.1 0 1 0 8.2 0a4.1 4.1 0 1 0 -8.2 0M983.9 400.3a4.1 4.1 0 1 0 8.2 0a4.1 4.1 0 1 0 -8.2 0M990.0 404.1a4.1 4.1 0 1 0 8.2 0a4.1 4.1 0 1 0 -8.2 0M994.6 407.2a4.1 4.1 0 1 0 8.2 0a4.1 4.1 0 1 0 -8.2 0M996.1 411.8a4.1 4.1 0 1 0 8.2 0a4.1 4.1 0 1 0 -8.2 0M976.3 408.7a4.1 4.1 0 1 0 8.2 0a4.1 4.1 0 1 0 -8.2 0M980.9 413.3a4.1 4.1 0 1 0 8.2 0a4.1 4.1 0 1 0 -8.2 0M971.7 417.9a4.1 4.1 0 1 0 8.2 0a4.1 4.1 0 1 0 -8.2 0M982.4 417.9a4.1 4.1 0 1 0 8.2 0a4.1 4.1 0 1 0 -8.2 0M983.9 424.0a4.1 4.1 0 1 0 8.2 0a4.1 4.1 0 1 0 -8.2 0M964.1 408.7a4.1 4.1 0 1 0 8.2 0a4.1 4.1 0 1 0 -8.2 0M959.5 422.4a4.1 4.1 0 1 0 8.2 0a4.1 4.1 0 1 0 -8.2 0M967.1 420.9a4.1 4.1 0 1 0 8.2 0a4.1 4.1 0 1 0 -8.2 0M974.8 425.5a4.1 4.1 0 1 0 8.2 0a4.1 4.1 0 1 0 -8.2 0M956.4 430.1a4.1 4.1 0 1 0 8.2 0a4.1 4.1 0 1 0 -8.2 0M964.1 428.5a4.1 4.1 0 1 0 8.2 0a4.1 4.1 0 1 0 -8.2 0M971.7 431.6a4.1 4.1 0 1 0 8.2 0a4.1 4.1 0 1 0 -8.2 0M977.8 428.5a4.1 4.1 0 1 0 8.2 0a4.1 4.1 0 1 0 -8.2 0M961.0 436.2a4.1 4.1 0 1 0 8.2 0a4.1 4.1 0 1 0 -8.2 0M951.9 437.7a4.1 4.1 0 1 0 8.2 0a4.1 4.1 0 1 0 -8.2 0M947.3 438.5a4.1 4.1 0 1 0 8.2 0a4.1 4.1 0 1 0 -8.2 0M937.4 439.2a4.1 4.1 0 1 0 8.2 0a4.1 4.1 0 1 0 -8.2 0M938.1 443.1a4.1 4.1 0 1 0 8.2 0a4.1 4.1 0 1 0 -8.2 0M950.3 442.3a4.1 4.1 0 1 0 8.2 0a4.1 4.1 0 1 0 -8.2 0M958.0 442.3a4.1 4.1 0 1 0 8.2 0a4.1 4.1 0 1 0 -8.2 0M951.9 449.2a4.1 4.1 0 1 0 8.2 0a4.1 4.1 0 1 0 -8.2 0M929.0 453.7a4.1 4.1 0 1 0 8.2 0a4.1 4.1 0 1 0 -8.2 0M938.1 453.7a4.1 4.1 0 1 0 8.2 0a4.1 4.1 0 1 0 -8.2 0M935.1 461.4a4.1 4.1 0 1 0 8.2 0a4.1 4.1 0 1 0 -8.2 0M941.2 458.3a4.1 4.1 0 1 0 8.2 0a4.1 4.1 0 1 0 -8.2 0M927.4 467.5a4.1 4.1 0 1 0 8.2 0a4.1 4.1 0 1 0 -8.2 0M929.0 475.1a4.1 4.1 0 1 0 8.2 0a4.1 4.1 0 1 0 -8.2 0M925.9 481.2a4.1 4.1 0 1 0 8.2 0a4.1 4.1 0 1 0 -8.2 0M925.3 455.0a4.1 4.1 0 1 0 8.2 0a4.1 4.1 0 1 0 -8.2 0M928.3 450.4a4.1 4.1 0 1 0 8.2 0a4.1 4.1 0 1 0 -8.2 0M920.7 462.6a4.1 4.1 0 1 0 8.2 0a4.1 4.1 0 1 0 -8.2 0M923.7 467.2a4.1 4.1 0 1 0 8.2 0a4.1 4.1 0 1 0 -8.2 0M916.1 471.8a4.1 4.1 0 1 0 8.2 0a4.1 4.1 0 1 0 -8.2 0M910.0 474.8a4.1 4.1 0 1 0 8.2 0a4.1 4.1 0 1 0 -8.2 0M903.9 479.4a4.1 4.1 0 1 0 8.2 0a4.1 4.1 0 1 0 -8.2 0M900.8 485.5a4.1 4.1 0 1 0 8.2 0a4.1 4.1 0 1 0 -8.2 0M913.0 479.4a4.1 4.1 0 1 0 8.2 0a4.1 4.1 0 1 0 -8.2 0M922.2 476.3a4.1 4.1 0 1 0 8.2 0a4.1 4.1 0 1 0 -8.2 0M919.1 485.5a4.1 4.1 0 1 0 8.2 0a4.1 4.1 0 1 0 -8.2 0M891.7 488.5a4.1 4.1 0 1 0 8.2 0a4.1 4.1 0 1 0 -8.2 0M885.6 493.1a4.1 4.1 0 1 0 8.2 0a4.1 4.1 0 1 0 -8.2 0M897.8 491.6a4.1 4.1 0 1 0 8.2 0a4.1 4.1 0 1 0 -8.2 0M906.9 491.6a4.1 4.1 0 1 0 8.2 0a4.1 4.1 0 1 0 -8.2 0M919.1 491.6a4.1 4.1 0 1 0 8.2 0a4.1 4.1 0 1 0 -8.2 0M888.6 497.7a4.1 4.1 0 1 0 8.2 0a4.1 4.1 0 1 0 -8.2 0M900.8 497.7a4.1 4.1 0 1 0 8.2 0a4.1 4.1 0 1 0 -8.2 0M823.0 556.2a4.1 4.1 0 1 0 8.2 0a4.1 4.1 0 1 0 -8.2 0M829.4 554.1a4.1 4.1 0 1 0 8.2 0a4.1 4.1 0 1 0 -8.2 0M835.8 549.8a4.1 4.1 0 1 0 8.2 0a4.1 4.1 0 1 0 -8.2 0M841.1 545.6a4.1 4.1 0 1 0 8.2 0a4.1 4.1 0 1 0 -8.2 0M846.5 540.2a4.1 4.1 0 1 0 8.2 0a4.1 4.1 0 1 0 -8.2 0M851.8 535.9a4.1 4.1 0 1 0 8.2 0a4.1 4.1 0 1 0 -8.2 0M857.1 530.6a4.1 4.1 0 1 0 8.2 0a4.1 4.1 0 1 0 -8.2 0M862.5 525.3a4.1 4.1 0 1 0 8.2 0a4.1 4.1 0 1 0 -8.2 0M867.8 519.9a4.1 4.1 0 1 0 8.2 0a4.1 4.1 0 1 0 -8.2 0M873.2 513.5a4.1 4.1 0 1 0 8.2 0a4.1 4.1 0 1 0 -8.2 0M877.4 507.1a4.1 4.1 0 1 0 8.2 0a4.1 4.1 0 1 0 -8.2 0M879.6 501.8a4.1 4.1 0 1 0 8.2 0a4.1 4.1 0 1 0 -8.2 0M833.6 557.3a4.1 4.1 0 1 0 8.2 0a4.1 4.1 0 1 0 -8.2 0M842.2 554.1a4.1 4.1 0 1 0 8.2 0a4.1 4.1 0 1 0 -8.2 0M848.6 549.8a4.1 4.1 0 1 0 8.2 0a4.1 4.1 0 1 0 -8.2 0M855.0 544.5a4.1 4.1 0 1 0 8.2 0a4.1 4.1 0 1 0 -8.2 0M860.3 539.1a4.1 4.1 0 1 0 8.2 0a4.1 4.1 0 1 0 -8.2 0M865.7 534.9a4.1 4.1 0 1 0 8.2 0a4.1 4.1 0 1 0 -8.2 0M872.1 530.6a4.1 4.1 0 1 0 8.2 0a4.1 4.1 0 1 0 -8.2 0M877.4 525.3a4.1 4.1 0 1 0 8.2 0a4.1 4.1 0 1 0 -8.2 0M879.6 517.8a4.1 4.1 0 1 0 8.2 0a4.1 4.1 0 1 0 -8.2 0M849.7 556.2a4.1 4.1 0 1 0 8.2 0a4.1 4.1 0 1 0 -8.2 0M857.1 549.8a4.1 4.1 0 1 0 8.2 0a4.1 4.1 0 1 0 -8.2 0M863.5 543.4a4.1 4.1 0 1 0 8.2 0a4.1 4.1 0 1 0 -8.2 0M870.0 538.1a4.1 4.1 0 1 0 8.2 0a4.1 4.1 0 1 0 -8.2 0M876.4 532.7a4.1 4.1 0 1 0 8.2 0a4.1 4.1 0 1 0 -8.2 0M874.2 509.2a4.1 4.1 0 1 0 8.2 0a4.1 4.1 0 1 0 -8.2 0M865.7 527.4a4.1 4.1 0 1 0 8.2 0a4.1 4.1 0 1 0 -8.2 0M859.3 534.9a4.1 4.1 0 1 0 8.2 0a4.1 4.1 0 1 0 -8.2 0M852.9 539.1a4.1 4.1 0 1 0 8.2 0a4.1 4.1 0 1 0 -8.2 0M846.5 545.6a4.1 4.1 0 1 0 8.2 0a4.1 4.1 0 1 0 -8.2 0M840.0 549.8a4.1 4.1 0 1 0 8.2 0a4.1 4.1 0 1 0 -8.2 0M800.5 594.9a4.1 4.1 0 1 0 8.2 0a4.1 4.1 0 1 0 -8.2 0M808.0 595.9a4.1 4.1 0 1 0 8.2 0a4.1 4.1 0 1 0 -8.2 0M799.4 589.5a4.1 4.1 0 1 0 8.2 0a4.1 4.1 0 1 0 -8.2 0M804.8 585.3a4.1 4.1 0 1 0 8.2 0a4.1 4.1 0 1 0 -8.2 0M811.2 581.0a4.1 4.1 0 1 0 8.2 0a4.1 4.1 0 1 0 -8.2 0M810.1 590.6a4.1 4.1 0 1 0 8.2 0a4.1 4.1 0 1 0 -8.2 0M816.5 576.7a4.1 4.1 0 1 0 8.2 0a4.1 4.1 0 1 0 -8.2 0M823.0 571.4a4.1 4.1 0 1 0 8.2 0a4.1 4.1 0 1 0 -8.2 0M829.4 567.1a4.1 4.1 0 1 0 8.2 0a4.1 4.1 0 1 0 -8.2 0M835.8 562.8a4.1 4.1 0 1 0 8.2 0a4.1 4.1 0 1 0 -8.2 0M842.2 558.5a4.1 4.1 0 1 0 8.2 0a4.1 4.1 0 1 0 -8.2 0M817.6 584.2a4.1 4.1 0 1 0 8.2 0a4.1 4.1 0 1 0 -8.2 0M823.0 579.9a4.1 4.1 0 1 0 8.2 0a4.1 4.1 0 1 0 -8.2 0M829.4 575.6a4.1 4.1 0 1 0 8.2 0a4.1 4.1 0 1 0 -8.2 0M833.6 572.4a4.1 4.1 0 1 0 8.2 0a4.1 4.1 0 1 0 -8.2 0M830.4 579.9a4.1 4.1 0 1 0 8.2 0a4.1 4.1 0 1 0 -8.2 0M837.9 568.2a4.1 4.1 0 1 0 8.2 0a4.1 4.1 0 1 0 -8.2 0M844.3 562.8a4.1 4.1 0 1 0 8.2 0a4.1 4.1 0 1 0 -8.2 0M823.0 560.7a4.1 4.1 0 1 0 8.2 0a4.1 4.1 0 1 0 -8.2 0M834.7 553.2a4.1 4.1 0 1 0 8.2 0a4.1 4.1 0 1 0 -8.2 0M817.6 567.1a4.1 4.1 0 1 0 8.2 0a4.1 4.1 0 1 0 -8.2 0M812.3 573.5a4.1 4.1 0 1 0 8.2 0a4.1 4.1 0 1 0 -8.2 0M804.8 579.9a4.1 4.1 0 1 0 8.2 0a4.1 4.1 0 1 0 -8.2 0M801.6 586.3a4.1 4.1 0 1 0 8.2 0a4.1 4.1 0 1 0 -8.2 0M797.3 592.7a4.1 4.1 0 1 0 8.2 0a4.1 4.1 0 1 0 -8.2 0M907.2 484.3a4.1 4.1 0 1 0 8.2 0a4.1 4.1 0 1 0 -8.2 0M913.6 483.2a4.1 4.1 0 1 0 8.2 0a4.1 4.1 0 1 0 -8.2 0M920.0 482.1a4.1 4.1 0 1 0 8.2 0a4.1 4.1 0 1 0 -8.2 0M924.3 484.3a4.1 4.1 0 1 0 8.2 0a4.1 4.1 0 1 0 -8.2 0M905.1 500.3a4.1 4.1 0 1 0 8.2 0a4.1 4.1 0 1 0 -8.2 0M897.6 496.0a4.1 4.1 0 1 0 8.2 0a4.1 4.1 0 1 0 -8.2 0M892.3 498.2a4.1 4.1 0 1 0 8.2 0a4.1 4.1 0 1 0 -8.2 0M889.1 504.6a4.1 4.1 0 1 0 8.2 0a4.1 4.1 0 1 0 -8.2 0M883.7 511.0a4.1 4.1 0 1 0 8.2 0a4.1 4.1 0 1 0 -8.2 0M894.4 506.7a4.1 4.1 0 1 0 8.2 0a4.1 4.1 0 1 0 -8.2 0M885.9 517.4a4.1 4.1 0 1 0 8.2 0a4.1 4.1 0 1 0 -8.2 0M877.3 520.6a4.1 4.1 0 1 0 8.2 0a4.1 4.1 0 1 0 -8.2 0M873.0 525.9a4.1 4.1 0 1 0 8.2 0a4.1 4.1 0 1 0 -8.2 0M880.5 528.1a4.1 4.1 0 1 0 8.2 0a4.1 4.1 0 1 0 -8.2 0M911.5 488.5a4.1 4.1 0 1 0 8.2 0a4.1 4.1 0 1 0 -8.2 0M1016.0 378.2a4.1 4.1 0 1 0 8.2 0a4.1 4.1 0 1 0 -8.2 0M1002.2 385.8a4.1 4.1 0 1 0 8.2 0a4.1 4.1 0 1 0 -8.2 0M987.0 407.2a4.1 4.1 0 1 0 8.2 0a4.1 4.1 0 1 0 -8.2 0M976.3 419.4a4.1 4.1 0 1 0 8.2 0a4.1 4.1 0 1 0 -8.2 0M1011.4 385.8a4.1 4.1 0 1 0 8.2 0a4.1 4.1 0 1 0 -8.2 0M1005.3 395.0a4.1 4.1 0 1 0 8.2 0a4.1 4.1 0 1 0 -8.2 0M997.7 390.4a4.1 4.1 0 1 0 8.2 0a4.1 4.1 0 1 0 -8.2 0M996.1 398.0a4.1 4.1 0 1 0 8.2 0a4.1 4.1 0 1 0 -8.2 0M974.5 412.7a4.1 4.1 0 1 0 8.2 0a4.1 4.1 0 1 0 -8.2 0M979.4 410.3a4.1 4.1 0 1 0 8.2 0a4.1 4.1 0 1 0 -8.2 0M970.8 428.6a4.1 4.1 0 1 0 8.2 0a4.1 4.1 0 1 0 -8.2 0M958.6 433.5a4.1 4.1 0 1 0 8.2 0a4.1 4.1 0 1 0 -8.2 0M967.2 426.2a4.1 4.1 0 1 0 8.2 0a4.1 4.1 0 1 0 -8.2 0M994.0 401.7a4.1 4.1 0 1 0 8.2 0a4.1 4.1 0 1 0 -8.2 0M989.2 411.5a4.1 4.1 0 1 0 8.2 0a4.1 4.1 0 1 0 -8.2 0M803.2 587.5a4.1 4.1 0 1 0 8.2 0a4.1 4.1 0 1 0 -8.2 0M802.0 581.3a4.1 4.1 0 1 0 8.2 0a4.1 4.1 0 1 0 -8.2 0M802.9 588.6a4.1 4.1 0 1 0 8.2 0a4.1 4.1 0 1 0 -8.2 0M802.0 580.9a4.1 4.1 0 1 0 8.2 0a4.1 4.1 0 1 0 -8.2 0M804.1 579.6a4.1 4.1 0 1 0 8.2 0a4.1 4.1 0 1 0 -8.2 0M803.2 594.3a4.1 4.1 0 1 0 8.2 0a4.1 4.1 0 1 0 -8.2 0M805.6 588.8a4.1 4.1 0 1 0 8.2 0a4.1 4.1 0 1 0 -8.2 0M804.0 589.4a4.1 4.1 0 1 0 8.2 0a4.1 4.1 0 1 0 -8.2 0M805.3 592.4a4.1 4.1 0 1 0 8.2 0a4.1 4.1 0 1 0 -8.2 0M805.6 582.0a4.1 4.1 0 1 0 8.2 0a4.1 4.1 0 1 0 -8.2 0M806.1 578.1a4.1 4.1 0 1 0 8.2 0a4.1 4.1 0 1 0 -8.2 0M805.7 592.5a4.1 4.1 0 1 0 8.2 0a4.1 4.1 0 1 0 -8.2 0M809.5 584.0a4.1 4.1 0 1 0 8.2 0a4.1 4.1 0 1 0 -8.2 0M809.2 580.1a4.1 4.1 0 1 0 8.2 0a4.1 4.1 0 1 0 -8.2 0M807.8 575.4a4.1 4.1 0 1 0 8.2 0a4.1 4.1 0 1 0 -8.2 0M809.6 576.4a4.1 4.1 0 1 0 8.2 0a4.1 4.1 0 1 0 -8.2 0M810.9 579.5a4.1 4.1 0 1 0 8.2 0a4.1 4.1 0 1 0 -8.2 0M811.4 582.2a4.1 4.1 0 1 0 8.2 0a4.1 4.1 0 1 0 -8.2 0M812.4 575.5a4.1 4.1 0 1 0 8.2 0a4.1 4.1 0 1 0 -8.2 0M810.7 585.1a4.1 4.1 0 1 0 8.2 0a4.1 4.1 0 1 0 -8.2 0M814.0 579.4a4.1 4.1 0 1 0 8.2 0a4.1 4.1 0 1 0 -8.2 0M814.6 584.8a4.1 4.1 0 1 0 8.2 0a4.1 4.1 0 1 0 -8.2 0M815.3 572.3a4.1 4.1 0 1 0 8.2 0a4.1 4.1 0 1 0 -8.2 0M813.7 570.6a4.1 4.1 0 1 0 8.2 0a4.1 4.1 0 1 0 -8.2 0M815.3 581.8a4.1 4.1 0 1 0 8.2 0a4.1 4.1 0 1 0 -8.2 0M814.9 576.7a4.1 4.1 0 1 0 8.2 0a4.1 4.1 0 1 0 -8.2 0M817.1 578.1a4.1 4.1 0 1 0 8.2 0a4.1 4.1 0 1 0 -8.2 0M817.4 575.9a4.1 4.1 0 1 0 8.2 0a4.1 4.1 0 1 0 -8.2 0M819.3 568.9a4.1 4.1 0 1 0 8.2 0a4.1 4.1 0 1 0 -8.2 0M818.9 574.8a4.1 4.1 0 1 0 8.2 0a4.1 4.1 0 1 0 -8.2 0M819.7 571.3a4.1 4.1 0 1 0 8.2 0a4.1 4.1 0 1 0 -8.2 0M818.6 582.1a4.1 4.1 0 1 0 8.2 0a4.1 4.1 0 1 0 -8.2 0M819.8 575.4a4.1 4.1 0 1 0 8.2 0a4.1 4.1 0 1 0 -8.2 0M821.5 574.3a4.1 4.1 0 1 0 8.2 0a4.1 4.1 0 1 0 -8.2 0M822.1 579.7a4.1 4.1 0 1 0 8.2 0a4.1 4.1 0 1 0 -8.2 0M820.8 566.8a4.1 4.1 0 1 0 8.2 0a4.1 4.1 0 1 0 -8.2 0M822.1 573.2a4.1 4.1 0 1 0 8.2 0a4.1 4.1 0 1 0 -8.2 0M822.5 568.6a4.1 4.1 0 1 0 8.2 0a4.1 4.1 0 1 0 -8.2 0M822.2 562.0a4.1 4.1 0 1 0 8.2 0a4.1 4.1 0 1 0 -8.2 0M822.4 574.8a4.1 4.1 0 1 0 8.2 0a4.1 4.1 0 1 0 -8.2 0M825.6 561.2a4.1 4.1 0 1 0 8.2 0a4.1 4.1 0 1 0 -8.2 0M824.6 574.6a4.1 4.1 0 1 0 8.2 0a4.1 4.1 0 1 0 -8.2 0M826.0 564.8a4.1 4.1 0 1 0 8.2 0a4.1 4.1 0 1 0 -8.2 0M826.9 572.7a4.1 4.1 0 1 0 8.2 0a4.1 4.1 0 1 0 -8.2 0M827.6 571.5a4.1 4.1 0 1 0 8.2 0a4.1 4.1 0 1 0 -8.2 0M827.9 562.3a4.1 4.1 0 1 0 8.2 0a4.1 4.1 0 1 0 -8.2 0M829.7 569.9a4.1 4.1 0 1 0 8.2 0a4.1 4.1 0 1 0 -8.2 0M827.3 557.5a4.1 4.1 0 1 0 8.2 0a4.1 4.1 0 1 0 -8.2 0M829.9 556.6a4.1 4.1 0 1 0 8.2 0a4.1 4.1 0 1 0 -8.2 0M831.0 560.6a4.1 4.1 0 1 0 8.2 0a4.1 4.1 0 1 0 -8.2 0M829.2 557.9a4.1 4.1 0 1 0 8.2 0a4.1 4.1 0 1 0 -8.2 0M830.3 559.9a4.1 4.1 0 1 0 8.2 0a4.1 4.1 0 1 0 -8.2 0M834.5 558.7a4.1 4.1 0 1 0 8.2 0a4.1 4.1 0 1 0 -8.2 0M833.1 562.5a4.1 4.1 0 1 0 8.2 0a4.1 4.1 0 1 0 -8.2 0M833.6 560.6a4.1 4.1 0 1 0 8.2 0a4.1 4.1 0 1 0 -8.2 0M834.3 548.6a4.1 4.1 0 1 0 8.2 0a4.1 4.1 0 1 0 -8.2 0M836.6 560.8a4.1 4.1 0 1 0 8.2 0a4.1 4.1 0 1 0 -8.2 0M835.2 562.6a4.1 4.1 0 1 0 8.2 0a4.1 4.1 0 1 0 -8.2 0M834.3 555.5a4.1 4.1 0 1 0 8.2 0a4.1 4.1 0 1 0 -8.2 0M834.2 560.3a4.1 4.1 0 1 0 8.2 0a4.1 4.1 0 1 0 -8.2 0M837.0 546.1a4.1 4.1 0 1 0 8.2 0a4.1 4.1 0 1 0 -8.2 0M837.4 547.7a4.1 4.1 0 1 0 8.2 0a4.1 4.1 0 1 0 -8.2 0M836.4 546.5a4.1 4.1 0 1 0 8.2 0a4.1 4.1 0 1 0 -8.2 0M836.7 548.1a4.1 4.1 0 1 0 8.2 0a4.1 4.1 0 1 0 -8.2 0M838.9 550.2a4.1 4.1 0 1 0 8.2 0a4.1 4.1 0 1 0 -8.2 0M840.6 558.7a4.1 4.1 0 1 0 8.2 0a4.1 4.1 0 1 0 -8.2 0M839.6 545.2a4.1 4.1 0 1 0 8.2 0a4.1 4.1 0 1 0 -8.2 0M839.9 548.9a4.1 4.1 0 1 0 8.2 0a4.1 4.1 0 1 0 -8.2 0M843.7 540.5a4.1 4.1 0 1 0 8.2 0a4.1 4.1 0 1 0 -8.2 0M842.6 559.1a4.1 4.1 0 1 0 8.2 0a4.1 4.1 0 1 0 -8.2 0M841.5 550.0a4.1 4.1 0 1 0 8.2 0a4.1 4.1 0 1 0 -8.2 0M842.2 541.6a4.1 4.1 0 1 0 8.2 0a4.1 4.1 0 1 0 -8.2 0M846.1 541.0a4.1 4.1 0 1 0 8.2 0a4.1 4.1 0 1 0 -8.2 0M843.7 541.4a4.1 4.1 0 1 0 8.2 0a4.1 4.1 0 1 0 -8.2 0M845.2 555.6a4.1 4.1 0 1 0 8.2 0a4.1 4.1 0 1 0 -8.2 0M845.2 539.5a4.1 4.1 0 1 0 8.2 0a4.1 4.1 0 1 0 -8.2 0M847.6 534.8a4.1 4.1 0 1 0 8.2 0a4.1 4.1 0 1 0 -8.2 0M848.6 552.8a4.1 4.1 0 1 0 8.2 0a4.1 4.1 0 1 0 -8.2 0M846.8 548.9a4.1 4.1 0 1 0 8.2 0a4.1 4.1 0 1 0 -8.2 0M846.5 542.6a4.1 4.1 0 1 0 8.2 0a4.1 4.1 0 1 0 -8.2 0M850.0 547.2a4.1 4.1 0 1 0 8.2 0a4.1 4.1 0 1 0 -8.2 0M849.4 548.0a4.1 4.1 0 1 0 8.2 0a4.1 4.1 0 1 0 -8.2 0M850.8 535.4a4.1 4.1 0 1 0 8.2 0a4.1 4.1 0 1 0 -8.2 0M851.0 550.5a4.1 4.1 0 1 0 8.2 0a4.1 4.1 0 1 0 -8.2 0M853.3 544.7a4.1 4.1 0 1 0 8.2 0a4.1 4.1 0 1 0 -8.2 0M851.5 545.1a4.1 4.1 0 1 0 8.2 0a4.1 4.1 0 1 0 -8.2 0M851.9 540.3a4.1 4.1 0 1 0 8.2 0a4.1 4.1 0 1 0 -8.2 0M850.9 531.5a4.1 4.1 0 1 0 8.2 0a4.1 4.1 0 1 0 -8.2 0M854.0 533.4a4.1 4.1 0 1 0 8.2 0a4.1 4.1 0 1 0 -8.2 0M856.1 539.6a4.1 4.1 0 1 0 8.2 0a4.1 4.1 0 1 0 -8.2 0M856.0 534.7a4.1 4.1 0 1 0 8.2 0a4.1 4.1 0 1 0 -8.2 0M856.1 545.5a4.1 4.1 0 1 0 8.2 0a4.1 4.1 0 1 0 -8.2 0M856.3 532.8a4.1 4.1 0 1 0 8.2 0a4.1 4.1 0 1 0 -8.2 0M856.2 530.1a4.1 4.1 0 1 0 8.2 0a4.1 4.1 0 1 0 -8.2 0M857.5 528.4a4.1 4.1 0 1 0 8.2 0a4.1 4.1 0 1 0 -8.2 0M858.1 541.7a4.1 4.1 0 1 0 8.2 0a4.1 4.1 0 1 0 -8.2 0M860.0 531.4a4.1 4.1 0 1 0 8.2 0a4.1 4.1 0 1 0 -8.2 0M858.3 539.5a4.1 4.1 0 1 0 8.2 0a4.1 4.1 0 1 0 -8.2 0M860.7 534.3a4.1 4.1 0 1 0 8.2 0a4.1 4.1 0 1 0 -8.2 0M860.3 537.2a4.1 4.1 0 1 0 8.2 0a4.1 4.1 0 1 0 -8.2 0M860.9 530.4a4.1 4.1 0 1 0 8.2 0a4.1 4.1 0 1 0 -8.2 0M861.4 536.2a4.1 4.1 0 1 0 8.2 0a4.1 4.1 0 1 0 -8.2 0M863.3 534.5a4.1 4.1 0 1 0 8.2 0a4.1 4.1 0 1 0 -8.2 0M861.6 528.1a4.1 4.1 0 1 0 8.2 0a4.1 4.1 0 1 0 -8.2 0M865.0 535.7a4.1 4.1 0 1 0 8.2 0a4.1 4.1 0 1 0 -8.2 0M863.2 522.0a4.1 4.1 0 1 0 8.2 0a4.1 4.1 0 1 0 -8.2 0M865.5 519.3a4.1 4.1 0 1 0 8.2 0a4.1 4.1 0 1 0 -8.2 0M863.2 534.7a4.1 4.1 0 1 0 8.2 0a4.1 4.1 0 1 0 -8.2 0M868.1 530.2a4.1 4.1 0 1 0 8.2 0a4.1 4.1 0 1 0 -8.2 0M866.3 528.7a4.1 4.1 0 1 0 8.2 0a4.1 4.1 0 1 0 -8.2 0M865.6 527.2a4.1 4.1 0 1 0 8.2 0a4.1 4.1 0 1 0 -8.2 0M868.1 513.9a4.1 4.1 0 1 0 8.2 0a4.1 4.1 0 1 0 -8.2 0M869.2 525.6a4.1 4.1 0 1 0 8.2 0a4.1 4.1 0 1 0 -8.2 0M868.9 531.5a4.1 4.1 0 1 0 8.2 0a4.1 4.1 0 1 0 -8.2 0M870.1 529.1a4.1 4.1 0 1 0 8.2 0a4.1 4.1 0 1 0 -8.2 0M868.4 517.6a4.1 4.1 0 1 0 8.2 0a4.1 4.1 0 1 0 -8.2 0M870.7 516.9a4.1 4.1 0 1 0 8.2 0a4.1 4.1 0 1 0 -8.2 0M870.8 522.7a4.1 4.1 0 1 0 8.2 0a4.1 4.1 0 1 0 -8.2 0M870.4 519.8a4.1 4.1 0 1 0 8.2 0a4.1 4.1 0 1 0 -8.2 0M871.1 528.9a4.1 4.1 0 1 0 8.2 0a4.1 4.1 0 1 0 -8.2 0M874.2 516.8a4.1 4.1 0 1 0 8.2 0a4.1 4.1 0 1 0 -8.2 0M873.7 526.2a4.1 4.1 0 1 0 8.2 0a4.1 4.1 0 1 0 -8.2 0M873.9 526.2a4.1 4.1 0 1 0 8.2 0a4.1 4.1 0 1 0 -8.2 0M874.0 518.4a4.1 4.1 0 1 0 8.2 0a4.1 4.1 0 1 0 -8.2 0M876.1 509.9a4.1 4.1 0 1 0 8.2 0a4.1 4.1 0 1 0 -8.2 0M874.8 513.3a4.1 4.1 0 1 0 8.2 0a4.1 4.1 0 1 0 -8.2 0M875.3 520.8a4.1 4.1 0 1 0 8.2 0a4.1 4.1 0 1 0 -8.2 0M877.0 514.9a4.1 4.1 0 1 0 8.2 0a4.1 4.1 0 1 0 -8.2 0M878.2 514.8a4.1 4.1 0 1 0 8.2 0a4.1 4.1 0 1 0 -8.2 0M878.9 513.6a4.1 4.1 0 1 0 8.2 0a4.1 4.1 0 1 0 -8.2 0M877.5 518.4a4.1 4.1 0 1 0 8.2 0a4.1 4.1 0 1 0 -8.2 0M877.9 515.1a4.1 4.1 0 1 0 8.2 0a4.1 4.1 0 1 0 -8.2 0M881.9 507.4a4.1 4.1 0 1 0 8.2 0a4.1 4.1 0 1 0 -8.2 0M881.3 511.1a4.1 4.1 0 1 0 8.2 0a4.1 4.1 0 1 0 -8.2 0M882.3 513.3a4.1 4.1 0 1 0 8.2 0a4.1 4.1 0 1 0 -8.2 0M881.4 510.1a4.1 4.1 0 1 0 8.2 0a4.1 4.1 0 1 0 -8.2 0M883.5 508.8a4.1 4.1 0 1 0 8.2 0a4.1 4.1 0 1 0 -8.2 0M883.4 511.4a4.1 4.1 0 1 0 8.2 0a4.1 4.1 0 1 0 -8.2 0M883.4 509.2a4.1 4.1 0 1 0 8.2 0a4.1 4.1 0 1 0 -8.2 0M884.1 513.9a4.1 4.1 0 1 0 8.2 0a4.1 4.1 0 1 0 -8.2 0M887.2 509.9a4.1 4.1 0 1 0 8.2 0a4.1 4.1 0 1 0 -8.2 0M886.1 503.0a4.1 4.1 0 1 0 8.2 0a4.1 4.1 0 1 0 -8.2 0M886.9 511.1a4.1 4.1 0 1 0 8.2 0a4.1 4.1 0 1 0 -8.2 0M884.8 502.8a4.1 4.1 0 1 0 8.2 0a4.1 4.1 0 1 0 -8.2 0M887.0 504.5a4.1 4.1 0 1 0 8.2 0a4.1 4.1 0 1 0 -8.2 0M887.0 501.8a4.1 4.1 0 1 0 8.2 0a4.1 4.1 0 1 0 -8.2 0M889.2 505.3a4.1 4.1 0 1 0 8.2 0a4.1 4.1 0 1 0 -8.2 0M887.3 510.1a4.1 4.1 0 1 0 8.2 0a4.1 4.1 0 1 0 -8.2 0M891.2 503.9a4.1 4.1 0 1 0 8.2 0a4.1 4.1 0 1 0 -8.2 0M891.8 495.7a4.1 4.1 0 1 0 8.2 0a4.1 4.1 0 1 0 -8.2 0M889.9 508.4a4.1 4.1 0 1 0 8.2 0a4.1 4.1 0 1 0 -8.2 0M890.4 507.7a4.1 4.1 0 1 0 8.2 0a4.1 4.1 0 1 0 -8.2 0M894.6 497.5a4.1 4.1 0 1 0 8.2 0a4.1 4.1 0 1 0 -8.2 0M892.1 504.5a4.1 4.1 0 1 0 8.2 0a4.1 4.1 0 1 0 -8.2 0M893.1 498.2a4.1 4.1 0 1 0 8.2 0a4.1 4.1 0 1 0 -8.2 0M892.2 497.9a4.1 4.1 0 1 0 8.2 0a4.1 4.1 0 1 0 -8.2 0M896.2 493.7a4.1 4.1 0 1 0 8.2 0a4.1 4.1 0 1 0 -8.2 0M895.7 490.3a4.1 4.1 0 1 0 8.2 0a4.1 4.1 0 1 0 -8.2 0M894.1 497.4a4.1 4.1 0 1 0 8.2 0a4.1 4.1 0 1 0 -8.2 0M895.9 494.2a4.1 4.1 0 1 0 8.2 0a4.1 4.1 0 1 0 -8.2 0M896.6 495.8a4.1 4.1 0 1 0 8.2 0a4.1 4.1 0 1 0 -8.2 0M898.8 499.8a4.1 4.1 0 1 0 8.2 0a4.1 4.1 0 1 0 -8.2 0M896.7 501.6a4.1 4.1 0 1 0 8.2 0a4.1 4.1 0 1 0 -8.2 0M896.5 492.6a4.1 4.1 0 1 0 8.2 0a4.1 4.1 0 1 0 -8.2 0M899.6 496.2a4.1 4.1 0 1 0 8.2 0a4.1 4.1 0 1 0 -8.2 0M900.1 487.3a4.1 4.1 0 1 0 8.2 0a4.1 4.1 0 1 0 -8.2 0M901.3 496.3a4.1 4.1 0 1 0 8.2 0a4.1 4.1 0 1 0 -8.2 0M899.2 489.8a4.1 4.1 0 1 0 8.2 0a4.1 4.1 0 1 0 -8.2 0M902.9 494.7a4.1 4.1 0 1 0 8.2 0a4.1 4.1 0 1 0 -8.2 0M901.5 493.3a4.1 4.1 0 1 0 8.2 0a4.1 4.1 0 1 0 -8.2 0M903.3 483.2a4.1 4.1 0 1 0 8.2 0a4.1 4.1 0 1 0 -8.2 0M901.4 489.8a4.1 4.1 0 1 0 8.2 0a4.1 4.1 0 1 0 -8.2 0M905.5 492.4a4.1 4.1 0 1 0 8.2 0a4.1 4.1 0 1 0 -8.2 0M903.9 492.3a4.1 4.1 0 1 0 8.2 0a4.1 4.1 0 1 0 -8.2 0M903.8 493.0a4.1 4.1 0 1 0 8.2 0a4.1 4.1 0 1 0 -8.2 0M905.0 492.0a4.1 4.1 0 1 0 8.2 0a4.1 4.1 0 1 0 -8.2 0M907.7 482.4a4.1 4.1 0 1 0 8.2 0a4.1 4.1 0 1 0 -8.2 0M906.8 490.9a4.1 4.1 0 1 0 8.2 0a4.1 4.1 0 1 0 -8.2 0M907.6 479.8a4.1 4.1 0 1 0 8.2 0a4.1 4.1 0 1 0 -8.2 0M906.3 482.5a4.1 4.1 0 1 0 8.2 0a4.1 4.1 0 1 0 -8.2 0M908.6 479.2a4.1 4.1 0 1 0 8.2 0a4.1 4.1 0 1 0 -8.2 0M909.3 479.0a4.1 4.1 0 1 0 8.2 0a4.1 4.1 0 1 0 -8.2 0M910.7 479.0a4.1 4.1 0 1 0 8.2 0a4.1 4.1 0 1 0 -8.2 0M909.9 479.6a4.1 4.1 0 1 0 8.2 0a4.1 4.1 0 1 0 -8.2 0M911.8 476.2a4.1 4.1 0 1 0 8.2 0a4.1 4.1 0 1 0 -8.2 0M911.6 474.4a4.1 4.1 0 1 0 8.2 0a4.1 4.1 0 1 0 -8.2 0M913.0 472.9a4.1 4.1 0 1 0 8.2 0a4.1 4.1 0 1 0 -8.2 0M911.4 481.5a4.1 4.1 0 1 0 8.2 0a4.1 4.1 0 1 0 -8.2 0M916.0 475.8a4.1 4.1 0 1 0 8.2 0a4.1 4.1 0 1 0 -8.2 0M915.7 471.4a4.1 4.1 0 1 0 8.2 0a4.1 4.1 0 1 0 -8.2 0M914.7 476.6a4.1 4.1 0 1 0 8.2 0a4.1 4.1 0 1 0 -8.2 0M914.4 482.2a4.1 4.1 0 1 0 8.2 0a4.1 4.1 0 1 0 -8.2 0M917.7 474.6a4.1 4.1 0 1 0 8.2 0a4.1 4.1 0 1 0 -8.2 0M916.6 481.8a4.1 4.1 0 1 0 8.2 0a4.1 4.1 0 1 0 -8.2 0M917.7 478.8a4.1 4.1 0 1 0 8.2 0a4.1 4.1 0 1 0 -8.2 0M916.8 477.1a4.1 4.1 0 1 0 8.2 0a4.1 4.1 0 1 0 -8.2 0M918.2 472.0a4.1 4.1 0 1 0 8.2 0a4.1 4.1 0 1 0 -8.2 0M918.2 469.1a4.1 4.1 0 1 0 8.2 0a4.1 4.1 0 1 0 -8.2 0M918.8 476.5a4.1 4.1 0 1 0 8.2 0a4.1 4.1 0 1 0 -8.2 0M918.3 469.5a4.1 4.1 0 1 0 8.2 0a4.1 4.1 0 1 0 -8.2 0M923.0 473.6a4.1 4.1 0 1 0 8.2 0a4.1 4.1 0 1 0 -8.2 0M921.2 473.1a4.1 4.1 0 1 0 8.2 0a4.1 4.1 0 1 0 -8.2 0M921.3 467.5a4.1 4.1 0 1 0 8.2 0a4.1 4.1 0 1 0 -8.2 0M920.9 470.8a4.1 4.1 0 1 0 8.2 0a4.1 4.1 0 1 0 -8.2 0M923.6 467.9a4.1 4.1 0 1 0 8.2 0a4.1 4.1 0 1 0 -8.2 0M925.7 472.4a4.1 4.1 0 1 0 8.2 0a4.1 4.1 0 1 0 -8.2 0M923.5 469.2a4.1 4.1 0 1 0 8.2 0a4.1 4.1 0 1 0 -8.2 0M923.7 474.5a4.1 4.1 0 1 0 8.2 0a4.1 4.1 0 1 0 -8.2 0M925.2 465.1a4.1 4.1 0 1 0 8.2 0a4.1 4.1 0 1 0 -8.2 0M926.6 464.0a4.1 4.1 0 1 0 8.2 0a4.1 4.1 0 1 0 -8.2 0M925.8 466.4a4.1 4.1 0 1 0 8.2 0a4.1 4.1 0 1 0 -8.2 0M925.2 467.0a4.1 4.1 0 1 0 8.2 0a4.1 4.1 0 1 0 -8.2 0M927.9 461.2a4.1 4.1 0 1 0 8.2 0a4.1 4.1 0 1 0 -8.2 0M927.7 463.1a4.1 4.1 0 1 0 8.2 0a4.1 4.1 0 1 0 -8.2 0M928.5 457.4a4.1 4.1 0 1 0 8.2 0a4.1 4.1 0 1 0 -8.2 0M929.4 459.3a4.1 4.1 0 1 0 8.2 0a4.1 4.1 0 1 0 -8.2 0M932.3 460.3a4.1 4.1 0 1 0 8.2 0a4.1 4.1 0 1 0 -8.2 0M932.1 462.0a4.1 4.1 0 1 0 8.2 0a4.1 4.1 0 1 0 -8.2 0M931.2 465.9a4.1 4.1 0 1 0 8.2 0a4.1 4.1 0 1 0 -8.2 0M933.0 456.9a4.1 4.1 0 1 0 8.2 0a4.1 4.1 0 1 0 -8.2 0M934.6 453.0a4.1 4.1 0 1 0 8.2 0a4.1 4.1 0 1 0 -8.2 0M932.5 461.5a4.1 4.1 0 1 0 8.2 0a4.1 4.1 0 1 0 -8.2 0M935.1 461.4a4.1 4.1 0 1 0 8.2 0a4.1 4.1 0 1 0 -8.2 0M934.6 459.2a4.1 4.1 0 1 0 8.2 0a4.1 4.1 0 1 0 -8.2 0"/>
<text transform="translate(-3.59,49.51) scale(0.8622,0.6938)" x="0" y="0" font-size="100" font-weight="bold" fill="#000">a</text>
<text transform="translate(694.42,49.50) scale(0.7957,0.6940)" x="0" y="0" font-size="100" font-weight="bold" fill="#000">b</text>
<text transform="translate(157.40,51.76) scale(0.4990,0.4389)" x="0" y="0" font-size="100" font-weight="normal" fill="#000">Extensive information</text>
<text transform="translate(861.69,51.66) scale(0.5017,0.4444)" x="0" y="0" font-size="100" font-weight="normal" fill="#000">Limited information</text>
<text transform="translate(299.88,116.15) scale(0.3735,0.3514)" x="0" y="0" font-size="100" font-weight="normal" fill="#000">Decoder:</text>
<text transform="translate(315.74,154.60) scale(0.3894,0.3696)" x="0" y="0" font-size="100" font-weight="normal" fill="#1a5bb5">Optimal</text>
<text transform="translate(314.07,197.30) scale(0.3894,0.3623)" x="0" y="0" font-size="100" font-weight="normal" fill="#c8284e">Suboptimal</text>
<text transform="translate(316.60,236.55) scale(0.3739,0.3731)" x="0" y="0" font-size="100" font-weight="normal" fill="#f2b134">Worse</text>
<text transform="translate(41.71,133.97) scale(0.3713,0.3632)" x="0" y="0" font-size="100" font-weight="normal" fill="#262626">0.15</text>
<text transform="translate(85.90,625.94) scale(0.3762,0.3821)" x="0" y="0" font-size="100" font-weight="normal" fill="#262626">0</text>
<text transform="translate(566.02,626.95) scale(0.3701,0.3750)" x="0" y="0" font-size="100" font-weight="normal" fill="#262626">0.15</text>
<text transform="translate(252.97,647.50) scale(0.4583,0.4261)" x="0" y="0" font-size="100" font-weight="normal" fill="#000">Optimal CC</text>
<text transform="translate(86.64,458.94) rotate(-90) scale(0.4465,0.4282)" x="0" y="0" font-size="100" fill="#000">Measured CC</text>
<text transform="translate(748.21,82.54) scale(0.3714,0.3791)" x="0" y="0" font-size="100" font-weight="normal" fill="#262626">0.4</text>
<text transform="translate(775.41,625.94) scale(0.3714,0.3821)" x="0" y="0" font-size="100" font-weight="normal" fill="#262626">0</text>
<text transform="translate(1304.31,626.65) scale(0.3714,0.3731)" x="0" y="0" font-size="100" font-weight="normal" fill="#262626">0.4</text>
<text transform="translate(949.77,647.50) scale(0.4564,0.4261)" x="0" y="0" font-size="100" font-weight="normal" fill="#000">Optimal CC</text>
<text transform="translate(775.45,458.94) rotate(-90) scale(0.4465,0.4254)" x="0" y="0" font-size="100" fill="#000">Measured CC</text>
</svg>
</body></html>
